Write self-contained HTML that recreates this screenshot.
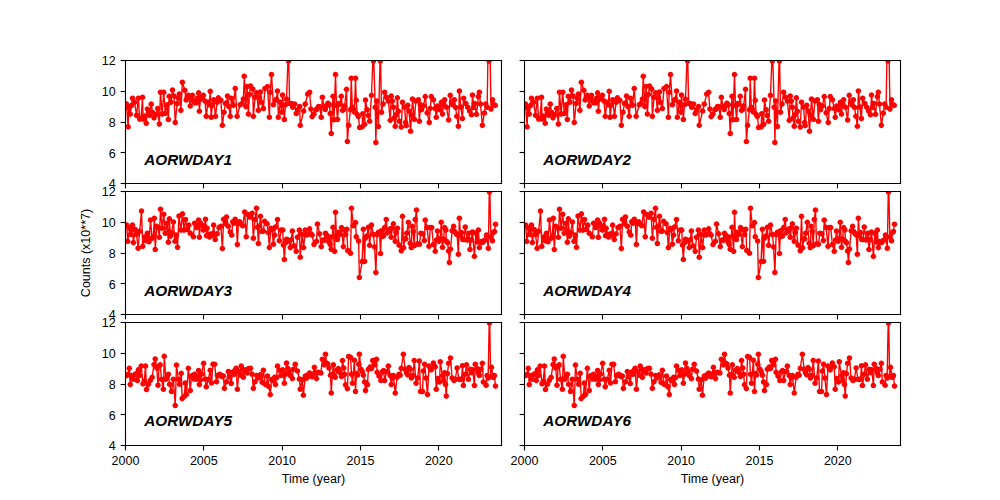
<!DOCTYPE html>
<html><head><meta charset="utf-8"><title>chart</title><style>html,body{margin:0;padding:0;background:#fff;overflow:hidden}svg{display:block}</style></head><body>
<svg width="1000" height="500" viewBox="0 0 720 360" version="1.1">
 
 <defs>
  <style type="text/css">*{stroke-linejoin: round; stroke-linecap: butt}</style>
 </defs>
 <g id="figure_1">
  <g id="patch_1">
   <path d="M 0 360 
L 720 360 
L 720 0 
L 0 0 
z
" style="fill: #ffffff"/>
  </g>
  <g id="axes_1">
   <g id="patch_2">
    <path d="M 90.36 132.12 
L 361.08 132.12 
L 361.08 43.56 
L 90.36 43.56 
z
" style="fill: #ffffff"/>
   </g>
   <g id="matplotlib.axis_1">
    <g id="xtick_1">
     <g id="line2d_1">
      <defs>
       <path id="m1504cfccaf" d="M 0 0 
L 0 3.5 
" style="stroke: #000000; stroke-width: 0.8"/>
      </defs>
      <g>
       <use href="#m1504cfccaf" x="90.360" y="132.120" style="stroke: #000000; stroke-width: 0.8"/>
      </g>
     </g>
    </g>
    <g id="xtick_2">
     <g id="line2d_2">
      <g>
       <use href="#m1504cfccaf" x="146.520" y="132.120" style="stroke: #000000; stroke-width: 0.8"/>
      </g>
     </g>
    </g>
    <g id="xtick_3">
     <g id="line2d_3">
      <g>
       <use href="#m1504cfccaf" x="203.400" y="132.120" style="stroke: #000000; stroke-width: 0.8"/>
      </g>
     </g>
    </g>
    <g id="xtick_4">
     <g id="line2d_4">
      <g>
       <use href="#m1504cfccaf" x="259.560" y="132.120" style="stroke: #000000; stroke-width: 0.8"/>
      </g>
     </g>
    </g>
    <g id="xtick_5">
     <g id="line2d_5">
      <g>
       <use href="#m1504cfccaf" x="315.720" y="132.120" style="stroke: #000000; stroke-width: 0.8"/>
      </g>
     </g>
    </g>
   </g>
   <g id="matplotlib.axis_2">
    <g id="ytick_1">
     <g id="line2d_6">
      <defs>
       <path id="m5d545ce8f8" d="M 0 0 
L -3.5 0 
" style="stroke: #000000; stroke-width: 0.8"/>
      </defs>
      <g>
       <use href="#m5d545ce8f8" x="90.360" y="132.120" style="stroke: #000000; stroke-width: 0.8"/>
      </g>
     </g>
     <g id="text_1">
      <text x="83.36" y="135.54" font-size="9" text-anchor="end" fill="#000000" font-family="&quot;Liberation Sans&quot;, sans-serif">4</text>
     </g>
    </g>
    <g id="ytick_2">
     <g id="line2d_7">
      <g>
       <use href="#m5d545ce8f8" x="90.360" y="109.800" style="stroke: #000000; stroke-width: 0.8"/>
      </g>
     </g>
     <g id="text_2">
      <text x="83.36" y="113.4" font-size="9" text-anchor="end" fill="#000000" font-family="&quot;Liberation Sans&quot;, sans-serif">6</text>
     </g>
    </g>
    <g id="ytick_3">
     <g id="line2d_8">
      <g>
       <use href="#m5d545ce8f8" x="90.360" y="88.200" style="stroke: #000000; stroke-width: 0.8"/>
      </g>
     </g>
     <g id="text_3">
      <text x="83.36" y="91.26" font-size="9" text-anchor="end" fill="#000000" font-family="&quot;Liberation Sans&quot;, sans-serif">8</text>
     </g>
    </g>
    <g id="ytick_4">
     <g id="line2d_9">
      <g>
       <use href="#m5d545ce8f8" x="90.360" y="65.880" style="stroke: #000000; stroke-width: 0.8"/>
      </g>
     </g>
     <g id="text_4">
      <text x="83.36" y="69.12" font-size="9" text-anchor="end" fill="#000000" font-family="&quot;Liberation Sans&quot;, sans-serif">10</text>
     </g>
    </g>
    <g id="ytick_5">
     <g id="line2d_10">
      <g>
       <use href="#m5d545ce8f8" x="90.360" y="43.560" style="stroke: #000000; stroke-width: 0.8"/>
      </g>
     </g>
     <g id="text_5">
      <text x="83.36" y="46.98" font-size="9" text-anchor="end" fill="#000000" font-family="&quot;Liberation Sans&quot;, sans-serif">12</text>
     </g>
    </g>
   </g>
   <g id="line2d_11">
    <defs>
     <path id="mb5f375dd62" d="M 0 2 
C 0.530406 2 1.03916 1.789267 1.414214 1.414214 
C 1.789267 1.03916 2 0.530406 2 0 
C 2 -0.530406 1.789267 -1.03916 1.414214 -1.414214 
C 1.03916 -1.789267 0.530406 -2 0 -2 
C -0.530406 -2 -1.03916 -1.789267 -1.414214 -1.414214 
C -1.789267 -1.03916 -2 -0.530406 -2 0 
C -2 0.530406 -1.789267 1.03916 -1.414214 1.414214 
C -1.03916 1.789267 -0.530406 2 0 2 
z
"/>
    </defs>
    <g clip-path="url(#pfeada04ba8)">
     <use href="#mb5f375dd62" x="207.720504" y="44.0028" style="fill: #ff0000"/>
     <use href="#mb5f375dd62" x="268.829904" y="44.0028" style="fill: #ff0000"/>
     <use href="#mb5f375dd62" x="273.869808" y="44.0028" style="fill: #ff0000"/>
     <use href="#mb5f375dd62" x="352.079688" y="44.0028" style="fill: #ff0000"/>
    </g>
   </g>
   <g id="line2d_12">
    <path d="M 91.079664 74.970018 
L 92.250528 91.350297 
L 92.699472 77.669991 
L 93.780096 82.169946 
L 95.399904 70.740171 
L 96.929472 73.619478 
L 98.279688 83.069937 
L 99.629904 70.740171 
L 100.530048 85.76991 
L 101.564424 85.340394 
L 102.599928 70.019514 
L 102.95976 85.76991 
L 104.129496 83.520486 
L 105.30036 88.739991 
L 106.110264 78.569982 
L 107.730072 83.069937 
L 108.899808 74.970018 
L 109.890192 80.935641 
L 110.879448 84.869919 
L 112.229664 82.620495 
L 113.57988 78.12054 
L 114.749616 89.369874 
L 115.55952 66.41955 
L 116.730384 82.169946 
L 117.90012 66.41955 
L 118.979616 81.720504 
L 120.329832 75.41946 
L 121.229976 86.040018 
L 121.860528 69.389631 
L 123.030264 73.619478 
L 124.2 64.800009 
L 125.279496 69.119523 
L 126.17964 88.199775 
L 127.529856 74.519469 
L 128.33976 70.715817 
L 129.149664 67.77009 
L 130.230288 79.469973 
L 131.309784 59.219622 
L 133.110072 65.070117 
L 134.010216 71.999937 
L 134.82012 69.584463 
L 135.630024 68.670081 
L 136.98024 76.319451 
L 137.790144 70.436853 
L 138.600048 68.670081 
L 139.364832 72.504729 
L 140.129616 74.070027 
L 141.479832 74.070027 
L 143.010528 66.870099 
L 143.549712 80.099856 
L 144.314496 71.443116 
L 145.080408 70.019514 
L 146.429496 68.670081 
L 147.60036 72.719487 
L 148.500504 83.789487 
L 149.76048 73.619478 
L 150.570384 75.531267 
L 151.380288 65.789667 
L 152.009712 84.420477 
L 152.954976 75.626469 
L 153.90024 71.819496 
L 155.160216 83.789487 
L 156.329952 73.619478 
L 157.230096 70.470063 
L 159.030384 72.270045 
L 160.10988 90.269865 
L 161.279616 80.820513 
L 162.36024 74.519469 
L 163.079904 74.130912 
L 163.799568 69.119523 
L 165.780336 83.789487 
L 166.68048 70.740171 
L 168.029568 75.870009 
L 169.379784 63.719577 
L 170.73 83.789487 
L 172.98036 75.41946 
L 174.329448 74.519469 
L 175.229592 71.370054 
L 175.860144 54.900108 
L 177.02988 76.77 
L 177.930024 62.370144 
L 178.830168 82.169946 
L 179.594952 68.000346 
L 180.359736 61.919595 
L 181.979544 64.170126 
L 182.429616 83.789487 
L 183.60048 70.019514 
L 184.860456 66.870099 
L 186.030192 79.469973 
L 186.794976 70.279659 
L 187.55976 66.240216 
L 188.280552 73.619478 
L 189.62964 78.12054 
L 190.800504 63.719577 
L 192.599664 62.370144 
L 193.94988 84.420477 
L 194.580432 66.41955 
L 195.479448 53.640342 
L 196.829664 75.41946 
L 198.17988 72.270045 
L 198.989784 71.411013 
L 199.799688 65.519559 
L 200.43024 84.420477 
L 201.780456 73.619478 
L 202.859952 80.820513 
L 203.400264 68.399973 
L 204.75048 86.040018 
L 205.515264 75.432744 
L 206.280048 71.370054 
L 207.720504 33.597 
L 208.530408 74.519469 
L 209.879496 74.519469 
L 210.77964 77.220549 
L 212.129856 74.970018 
L 213.299592 81.720504 
L 214.380216 79.020531 
L 215.730432 76.77 
L 216.180504 90.269865 
L 219.779952 74.970018 
L 221.58024 67.77009 
L 222.930456 66.41955 
L 223.829472 78.547842 
L 224.729616 83.969928 
L 226.079832 82.169946 
L 227.430048 79.020531 
L 228.330192 78.524595 
L 229.230336 76.77 
L 230.26584 76.859667 
L 231.300216 84.420477 
L 232.11012 70.019514 
L 233.279856 76.77 
L 234.18 78.781419 
L 235.080144 76.319451 
L 236.115648 74.322423 
L 237.150024 75.41946 
L 237.779448 81.720504 
L 238.50024 96.12036 
L 239.760216 69.389631 
L 240.47988 86.220459 
L 241.560504 53.640342 
L 242.280168 75.947499 
L 242.999832 86.040018 
L 243.899976 74.512827 
L 244.80012 75.099537 
L 245.700264 69.389631 
L 246.600408 79.469973 
L 247.365192 78.82902 
L 248.129976 76.319451 
L 249.480192 64.34946 
L 250.109616 101.880081 
L 251.00976 90.269865 
L 252.359976 79.020531 
L 252.900288 56.340315 
L 253.665072 77.27922 
L 254.429856 78.569982 
L 255.19464 80.623467 
L 255.960552 56.340315 
L 256.499736 72.270045 
L 257.265648 82.508688 
L 258.030432 83.969928 
L 258.929448 91.799739 
L 260.729736 91.350297 
L 261.179808 81.899838 
L 262.530024 89.550315 
L 263.159448 71.999937 
L 264.330312 79.020531 
L 266.129472 87.299784 
L 267.479688 68.670081 
L 268.829904 33.597 
L 270.18012 77.220549 
L 270.630192 102.599631 
L 271.259616 72.719487 
L 272.43048 91.080189 
L 273.869808 33.597 
L 274.679712 80.820513 
L 275.804328 74.869281 
L 276.930072 66.41955 
L 278.280288 70.019514 
L 279.630504 72.719487 
L 280.979592 86.669901 
L 281.700384 69.119523 
L 282.465168 72.726129 
L 283.229952 77.220549 
L 283.680024 85.05036 
L 284.580168 90.899748 
L 285.344952 82.588392 
L 286.109736 70.470063 
L 286.8294 80.051148 
L 287.550192 87.299784 
L 288.900408 91.529631 
L 289.800552 73.619478 
L 291.33012 77.220549 
L 292.049784 88.199775 
L 292.499856 90.450306 
L 293.58048 75.870009 
L 294.569736 79.8696 
L 295.56012 94.499712 
L 296.999448 71.370054 
L 298.349664 85.950351 
L 299.430288 72.719487 
L 301.229448 71.819496 
L 301.95024 87.299784 
L 302.715024 75.327579 
L 303.479808 79.020531 
L 304.830024 76.319451 
L 306.18024 69.570072 
L 307.530456 81.269955 
L 309.060024 88.199775 
L 310.50048 69.570072 
L 312.030048 71.819496 
L 313.380264 78.12054 
L 314.099928 84.420477 
L 315.180552 76.319451 
L 316.52964 79.020531 
L 317.879856 73.619478 
L 318.59952 82.169946 
L 319.364304 74.702124 
L 320.130216 71.819496 
L 321.480432 77.220549 
L 323.01 86.399793 
L 324.179736 68.670081 
L 325.07988 73.912833 
L 325.980024 75.41946 
L 327.14976 71.819496 
L 328.950048 83.69982 
L 330.029544 90.899748 
L 330.750336 65.519559 
L 331.83096 77.098779 
L 332.910456 85.320468 
L 333.809472 70.740171 
L 335.430408 74.519469 
L 339.479928 82.620495 
L 340.199592 68.48964 
L 340.965504 77.465196 
L 341.730288 74.519469 
L 343.080504 82.350387 
L 344.429592 69.570072 
L 345.150384 66.41955 
L 347.310504 90.269865 
L 349.740216 74.964483 
L 350.729472 77.220549 
L 352.011692 -1 
M 352.151059 -1 
L 353.520144 78.569982 
L 354.59964 71.819496 
L 355.590024 75.433851 
L 356.580408 75.870009 
L 356.580408 75.870009 
" clip-path="url(#pfeada04ba8)" style="fill: none; stroke: #ff0000; stroke-linecap: square"/>
    <g clip-path="url(#pfeada04ba8)">
     <use href="#mb5f375dd62" x="91.079664" y="74.970018" style="fill: #ff0000"/>
     <use href="#mb5f375dd62" x="92.250528" y="91.350297" style="fill: #ff0000"/>
     <use href="#mb5f375dd62" x="92.699472" y="77.669991" style="fill: #ff0000"/>
     <use href="#mb5f375dd62" x="93.780096" y="82.169946" style="fill: #ff0000"/>
     <use href="#mb5f375dd62" x="94.59" y="76.053771" style="fill: #ff0000"/>
     <use href="#mb5f375dd62" x="95.399904" y="70.740171" style="fill: #ff0000"/>
     <use href="#mb5f375dd62" x="96.929472" y="73.619478" style="fill: #ff0000"/>
     <use href="#mb5f375dd62" x="98.279688" y="83.069937" style="fill: #ff0000"/>
     <use href="#mb5f375dd62" x="99.629904" y="70.740171" style="fill: #ff0000"/>
     <use href="#mb5f375dd62" x="100.530048" y="85.76991" style="fill: #ff0000"/>
     <use href="#mb5f375dd62" x="101.564424" y="85.340394" style="fill: #ff0000"/>
     <use href="#mb5f375dd62" x="102.599928" y="70.019514" style="fill: #ff0000"/>
     <use href="#mb5f375dd62" x="102.95976" y="85.76991" style="fill: #ff0000"/>
     <use href="#mb5f375dd62" x="104.129496" y="83.520486" style="fill: #ff0000"/>
     <use href="#mb5f375dd62" x="105.30036" y="88.739991" style="fill: #ff0000"/>
     <use href="#mb5f375dd62" x="106.110264" y="78.569982" style="fill: #ff0000"/>
     <use href="#mb5f375dd62" x="106.920168" y="80.978814" style="fill: #ff0000"/>
     <use href="#mb5f375dd62" x="107.730072" y="83.069937" style="fill: #ff0000"/>
     <use href="#mb5f375dd62" x="108.899808" y="74.970018" style="fill: #ff0000"/>
     <use href="#mb5f375dd62" x="109.890192" y="80.935641" style="fill: #ff0000"/>
     <use href="#mb5f375dd62" x="110.879448" y="84.869919" style="fill: #ff0000"/>
     <use href="#mb5f375dd62" x="112.229664" y="82.620495" style="fill: #ff0000"/>
     <use href="#mb5f375dd62" x="113.57988" y="78.12054" style="fill: #ff0000"/>
     <use href="#mb5f375dd62" x="114.749616" y="89.369874" style="fill: #ff0000"/>
     <use href="#mb5f375dd62" x="115.55952" y="66.41955" style="fill: #ff0000"/>
     <use href="#mb5f375dd62" x="116.730384" y="82.169946" style="fill: #ff0000"/>
     <use href="#mb5f375dd62" x="117.90012" y="66.41955" style="fill: #ff0000"/>
     <use href="#mb5f375dd62" x="118.979616" y="81.720504" style="fill: #ff0000"/>
     <use href="#mb5f375dd62" x="120.329832" y="75.41946" style="fill: #ff0000"/>
     <use href="#mb5f375dd62" x="121.229976" y="86.040018" style="fill: #ff0000"/>
     <use href="#mb5f375dd62" x="121.860528" y="69.389631" style="fill: #ff0000"/>
     <use href="#mb5f375dd62" x="123.030264" y="73.619478" style="fill: #ff0000"/>
     <use href="#mb5f375dd62" x="124.2" y="64.800009" style="fill: #ff0000"/>
     <use href="#mb5f375dd62" x="125.279496" y="69.119523" style="fill: #ff0000"/>
     <use href="#mb5f375dd62" x="126.17964" y="88.199775" style="fill: #ff0000"/>
     <use href="#mb5f375dd62" x="127.529856" y="74.519469" style="fill: #ff0000"/>
     <use href="#mb5f375dd62" x="128.33976" y="70.715817" style="fill: #ff0000"/>
     <use href="#mb5f375dd62" x="129.149664" y="67.77009" style="fill: #ff0000"/>
     <use href="#mb5f375dd62" x="130.230288" y="79.469973" style="fill: #ff0000"/>
     <use href="#mb5f375dd62" x="131.309784" y="59.219622" style="fill: #ff0000"/>
     <use href="#mb5f375dd62" x="133.110072" y="65.070117" style="fill: #ff0000"/>
     <use href="#mb5f375dd62" x="134.010216" y="71.999937" style="fill: #ff0000"/>
     <use href="#mb5f375dd62" x="134.82012" y="69.584463" style="fill: #ff0000"/>
     <use href="#mb5f375dd62" x="135.630024" y="68.670081" style="fill: #ff0000"/>
     <use href="#mb5f375dd62" x="136.98024" y="76.319451" style="fill: #ff0000"/>
     <use href="#mb5f375dd62" x="137.790144" y="70.436853" style="fill: #ff0000"/>
     <use href="#mb5f375dd62" x="138.600048" y="68.670081" style="fill: #ff0000"/>
     <use href="#mb5f375dd62" x="139.364832" y="72.504729" style="fill: #ff0000"/>
     <use href="#mb5f375dd62" x="140.129616" y="74.070027" style="fill: #ff0000"/>
     <use href="#mb5f375dd62" x="141.479832" y="74.070027" style="fill: #ff0000"/>
     <use href="#mb5f375dd62" x="142.244616" y="70.721352" style="fill: #ff0000"/>
     <use href="#mb5f375dd62" x="143.010528" y="66.870099" style="fill: #ff0000"/>
     <use href="#mb5f375dd62" x="143.549712" y="80.099856" style="fill: #ff0000"/>
     <use href="#mb5f375dd62" x="144.314496" y="71.443116" style="fill: #ff0000"/>
     <use href="#mb5f375dd62" x="145.080408" y="70.019514" style="fill: #ff0000"/>
     <use href="#mb5f375dd62" x="146.429496" y="68.670081" style="fill: #ff0000"/>
     <use href="#mb5f375dd62" x="147.60036" y="72.719487" style="fill: #ff0000"/>
     <use href="#mb5f375dd62" x="148.500504" y="83.789487" style="fill: #ff0000"/>
     <use href="#mb5f375dd62" x="149.76048" y="73.619478" style="fill: #ff0000"/>
     <use href="#mb5f375dd62" x="150.570384" y="75.531267" style="fill: #ff0000"/>
     <use href="#mb5f375dd62" x="151.380288" y="65.789667" style="fill: #ff0000"/>
     <use href="#mb5f375dd62" x="152.009712" y="84.420477" style="fill: #ff0000"/>
     <use href="#mb5f375dd62" x="152.954976" y="75.626469" style="fill: #ff0000"/>
     <use href="#mb5f375dd62" x="153.90024" y="71.819496" style="fill: #ff0000"/>
     <use href="#mb5f375dd62" x="155.160216" y="83.789487" style="fill: #ff0000"/>
     <use href="#mb5f375dd62" x="156.329952" y="73.619478" style="fill: #ff0000"/>
     <use href="#mb5f375dd62" x="157.230096" y="70.470063" style="fill: #ff0000"/>
     <use href="#mb5f375dd62" x="159.030384" y="72.270045" style="fill: #ff0000"/>
     <use href="#mb5f375dd62" x="160.10988" y="90.269865" style="fill: #ff0000"/>
     <use href="#mb5f375dd62" x="161.279616" y="80.820513" style="fill: #ff0000"/>
     <use href="#mb5f375dd62" x="162.36024" y="74.519469" style="fill: #ff0000"/>
     <use href="#mb5f375dd62" x="163.079904" y="74.130912" style="fill: #ff0000"/>
     <use href="#mb5f375dd62" x="163.799568" y="69.119523" style="fill: #ff0000"/>
     <use href="#mb5f375dd62" x="164.789952" y="76.628304" style="fill: #ff0000"/>
     <use href="#mb5f375dd62" x="165.780336" y="83.789487" style="fill: #ff0000"/>
     <use href="#mb5f375dd62" x="166.68048" y="70.740171" style="fill: #ff0000"/>
     <use href="#mb5f375dd62" x="168.029568" y="75.870009" style="fill: #ff0000"/>
     <use href="#mb5f375dd62" x="169.379784" y="63.719577" style="fill: #ff0000"/>
     <use href="#mb5f375dd62" x="170.73" y="83.789487" style="fill: #ff0000"/>
     <use href="#mb5f375dd62" x="172.98036" y="75.41946" style="fill: #ff0000"/>
     <use href="#mb5f375dd62" x="174.329448" y="74.519469" style="fill: #ff0000"/>
     <use href="#mb5f375dd62" x="175.229592" y="71.370054" style="fill: #ff0000"/>
     <use href="#mb5f375dd62" x="175.860144" y="54.900108" style="fill: #ff0000"/>
     <use href="#mb5f375dd62" x="177.02988" y="76.77" style="fill: #ff0000"/>
     <use href="#mb5f375dd62" x="177.930024" y="62.370144" style="fill: #ff0000"/>
     <use href="#mb5f375dd62" x="178.830168" y="82.169946" style="fill: #ff0000"/>
     <use href="#mb5f375dd62" x="179.594952" y="68.000346" style="fill: #ff0000"/>
     <use href="#mb5f375dd62" x="180.359736" y="61.919595" style="fill: #ff0000"/>
     <use href="#mb5f375dd62" x="181.979544" y="64.170126" style="fill: #ff0000"/>
     <use href="#mb5f375dd62" x="182.429616" y="83.789487" style="fill: #ff0000"/>
     <use href="#mb5f375dd62" x="183.60048" y="70.019514" style="fill: #ff0000"/>
     <use href="#mb5f375dd62" x="184.860456" y="66.870099" style="fill: #ff0000"/>
     <use href="#mb5f375dd62" x="186.030192" y="79.469973" style="fill: #ff0000"/>
     <use href="#mb5f375dd62" x="186.794976" y="70.279659" style="fill: #ff0000"/>
     <use href="#mb5f375dd62" x="187.55976" y="66.240216" style="fill: #ff0000"/>
     <use href="#mb5f375dd62" x="188.280552" y="73.619478" style="fill: #ff0000"/>
     <use href="#mb5f375dd62" x="189.62964" y="78.12054" style="fill: #ff0000"/>
     <use href="#mb5f375dd62" x="190.800504" y="63.719577" style="fill: #ff0000"/>
     <use href="#mb5f375dd62" x="192.599664" y="62.370144" style="fill: #ff0000"/>
     <use href="#mb5f375dd62" x="193.94988" y="84.420477" style="fill: #ff0000"/>
     <use href="#mb5f375dd62" x="194.580432" y="66.41955" style="fill: #ff0000"/>
     <use href="#mb5f375dd62" x="195.479448" y="53.640342" style="fill: #ff0000"/>
     <use href="#mb5f375dd62" x="196.829664" y="75.41946" style="fill: #ff0000"/>
     <use href="#mb5f375dd62" x="198.17988" y="72.270045" style="fill: #ff0000"/>
     <use href="#mb5f375dd62" x="198.989784" y="71.411013" style="fill: #ff0000"/>
     <use href="#mb5f375dd62" x="199.799688" y="65.519559" style="fill: #ff0000"/>
     <use href="#mb5f375dd62" x="200.43024" y="84.420477" style="fill: #ff0000"/>
     <use href="#mb5f375dd62" x="201.780456" y="73.619478" style="fill: #ff0000"/>
     <use href="#mb5f375dd62" x="202.859952" y="80.820513" style="fill: #ff0000"/>
     <use href="#mb5f375dd62" x="203.400264" y="68.399973" style="fill: #ff0000"/>
     <use href="#mb5f375dd62" x="204.75048" y="86.040018" style="fill: #ff0000"/>
     <use href="#mb5f375dd62" x="205.515264" y="75.432744" style="fill: #ff0000"/>
     <use href="#mb5f375dd62" x="206.280048" y="71.370054" style="fill: #ff0000"/>
     <use href="#mb5f375dd62" x="207.720504" y="33.597" style="fill: #ff0000"/>
     <use href="#mb5f375dd62" x="208.530408" y="74.519469" style="fill: #ff0000"/>
     <use href="#mb5f375dd62" x="209.879496" y="74.519469" style="fill: #ff0000"/>
     <use href="#mb5f375dd62" x="210.77964" y="77.220549" style="fill: #ff0000"/>
     <use href="#mb5f375dd62" x="212.129856" y="74.970018" style="fill: #ff0000"/>
     <use href="#mb5f375dd62" x="213.299592" y="81.720504" style="fill: #ff0000"/>
     <use href="#mb5f375dd62" x="214.380216" y="79.020531" style="fill: #ff0000"/>
     <use href="#mb5f375dd62" x="215.730432" y="76.77" style="fill: #ff0000"/>
     <use href="#mb5f375dd62" x="216.180504" y="90.269865" style="fill: #ff0000"/>
     <use href="#mb5f375dd62" x="218.610216" y="79.920522" style="fill: #ff0000"/>
     <use href="#mb5f375dd62" x="219.779952" y="74.970018" style="fill: #ff0000"/>
     <use href="#mb5f375dd62" x="221.58024" y="67.77009" style="fill: #ff0000"/>
     <use href="#mb5f375dd62" x="222.930456" y="66.41955" style="fill: #ff0000"/>
     <use href="#mb5f375dd62" x="223.829472" y="78.547842" style="fill: #ff0000"/>
     <use href="#mb5f375dd62" x="224.729616" y="83.969928" style="fill: #ff0000"/>
     <use href="#mb5f375dd62" x="226.079832" y="82.169946" style="fill: #ff0000"/>
     <use href="#mb5f375dd62" x="227.430048" y="79.020531" style="fill: #ff0000"/>
     <use href="#mb5f375dd62" x="228.330192" y="78.524595" style="fill: #ff0000"/>
     <use href="#mb5f375dd62" x="229.230336" y="76.77" style="fill: #ff0000"/>
     <use href="#mb5f375dd62" x="230.26584" y="76.859667" style="fill: #ff0000"/>
     <use href="#mb5f375dd62" x="231.300216" y="84.420477" style="fill: #ff0000"/>
     <use href="#mb5f375dd62" x="232.11012" y="70.019514" style="fill: #ff0000"/>
     <use href="#mb5f375dd62" x="233.279856" y="76.77" style="fill: #ff0000"/>
     <use href="#mb5f375dd62" x="234.18" y="78.781419" style="fill: #ff0000"/>
     <use href="#mb5f375dd62" x="235.080144" y="76.319451" style="fill: #ff0000"/>
     <use href="#mb5f375dd62" x="236.115648" y="74.322423" style="fill: #ff0000"/>
     <use href="#mb5f375dd62" x="237.150024" y="75.41946" style="fill: #ff0000"/>
     <use href="#mb5f375dd62" x="237.779448" y="81.720504" style="fill: #ff0000"/>
     <use href="#mb5f375dd62" x="238.50024" y="96.12036" style="fill: #ff0000"/>
     <use href="#mb5f375dd62" x="239.760216" y="69.389631" style="fill: #ff0000"/>
     <use href="#mb5f375dd62" x="240.47988" y="86.220459" style="fill: #ff0000"/>
     <use href="#mb5f375dd62" x="241.560504" y="53.640342" style="fill: #ff0000"/>
     <use href="#mb5f375dd62" x="242.280168" y="75.947499" style="fill: #ff0000"/>
     <use href="#mb5f375dd62" x="242.999832" y="86.040018" style="fill: #ff0000"/>
     <use href="#mb5f375dd62" x="243.899976" y="74.512827" style="fill: #ff0000"/>
     <use href="#mb5f375dd62" x="244.80012" y="75.099537" style="fill: #ff0000"/>
     <use href="#mb5f375dd62" x="245.700264" y="69.389631" style="fill: #ff0000"/>
     <use href="#mb5f375dd62" x="246.600408" y="79.469973" style="fill: #ff0000"/>
     <use href="#mb5f375dd62" x="247.365192" y="78.82902" style="fill: #ff0000"/>
     <use href="#mb5f375dd62" x="248.129976" y="76.319451" style="fill: #ff0000"/>
     <use href="#mb5f375dd62" x="249.480192" y="64.34946" style="fill: #ff0000"/>
     <use href="#mb5f375dd62" x="250.109616" y="101.880081" style="fill: #ff0000"/>
     <use href="#mb5f375dd62" x="251.00976" y="90.269865" style="fill: #ff0000"/>
     <use href="#mb5f375dd62" x="252.359976" y="79.020531" style="fill: #ff0000"/>
     <use href="#mb5f375dd62" x="252.900288" y="56.340315" style="fill: #ff0000"/>
     <use href="#mb5f375dd62" x="253.665072" y="77.27922" style="fill: #ff0000"/>
     <use href="#mb5f375dd62" x="254.429856" y="78.569982" style="fill: #ff0000"/>
     <use href="#mb5f375dd62" x="255.19464" y="80.623467" style="fill: #ff0000"/>
     <use href="#mb5f375dd62" x="255.960552" y="56.340315" style="fill: #ff0000"/>
     <use href="#mb5f375dd62" x="256.499736" y="72.270045" style="fill: #ff0000"/>
     <use href="#mb5f375dd62" x="257.265648" y="82.508688" style="fill: #ff0000"/>
     <use href="#mb5f375dd62" x="258.030432" y="83.969928" style="fill: #ff0000"/>
     <use href="#mb5f375dd62" x="258.929448" y="91.799739" style="fill: #ff0000"/>
     <use href="#mb5f375dd62" x="260.729736" y="91.350297" style="fill: #ff0000"/>
     <use href="#mb5f375dd62" x="261.179808" y="81.899838" style="fill: #ff0000"/>
     <use href="#mb5f375dd62" x="262.530024" y="89.550315" style="fill: #ff0000"/>
     <use href="#mb5f375dd62" x="263.159448" y="71.999937" style="fill: #ff0000"/>
     <use href="#mb5f375dd62" x="264.330312" y="79.020531" style="fill: #ff0000"/>
     <use href="#mb5f375dd62" x="265.230456" y="83.250378" style="fill: #ff0000"/>
     <use href="#mb5f375dd62" x="266.129472" y="87.299784" style="fill: #ff0000"/>
     <use href="#mb5f375dd62" x="267.479688" y="68.670081" style="fill: #ff0000"/>
     <use href="#mb5f375dd62" x="268.829904" y="33.597" style="fill: #ff0000"/>
     <use href="#mb5f375dd62" x="270.18012" y="77.220549" style="fill: #ff0000"/>
     <use href="#mb5f375dd62" x="270.630192" y="102.599631" style="fill: #ff0000"/>
     <use href="#mb5f375dd62" x="271.259616" y="72.719487" style="fill: #ff0000"/>
     <use href="#mb5f375dd62" x="272.43048" y="91.080189" style="fill: #ff0000"/>
     <use href="#mb5f375dd62" x="273.869808" y="33.597" style="fill: #ff0000"/>
     <use href="#mb5f375dd62" x="274.679712" y="80.820513" style="fill: #ff0000"/>
     <use href="#mb5f375dd62" x="275.804328" y="74.869281" style="fill: #ff0000"/>
     <use href="#mb5f375dd62" x="276.930072" y="66.41955" style="fill: #ff0000"/>
     <use href="#mb5f375dd62" x="278.280288" y="70.019514" style="fill: #ff0000"/>
     <use href="#mb5f375dd62" x="279.630504" y="72.719487" style="fill: #ff0000"/>
     <use href="#mb5f375dd62" x="280.979592" y="86.669901" style="fill: #ff0000"/>
     <use href="#mb5f375dd62" x="281.700384" y="69.119523" style="fill: #ff0000"/>
     <use href="#mb5f375dd62" x="282.465168" y="72.726129" style="fill: #ff0000"/>
     <use href="#mb5f375dd62" x="283.229952" y="77.220549" style="fill: #ff0000"/>
     <use href="#mb5f375dd62" x="283.680024" y="85.05036" style="fill: #ff0000"/>
     <use href="#mb5f375dd62" x="284.580168" y="90.899748" style="fill: #ff0000"/>
     <use href="#mb5f375dd62" x="285.344952" y="82.588392" style="fill: #ff0000"/>
     <use href="#mb5f375dd62" x="286.109736" y="70.470063" style="fill: #ff0000"/>
     <use href="#mb5f375dd62" x="286.8294" y="80.051148" style="fill: #ff0000"/>
     <use href="#mb5f375dd62" x="287.550192" y="87.299784" style="fill: #ff0000"/>
     <use href="#mb5f375dd62" x="288.900408" y="91.529631" style="fill: #ff0000"/>
     <use href="#mb5f375dd62" x="289.800552" y="73.619478" style="fill: #ff0000"/>
     <use href="#mb5f375dd62" x="291.33012" y="77.220549" style="fill: #ff0000"/>
     <use href="#mb5f375dd62" x="292.049784" y="88.199775" style="fill: #ff0000"/>
     <use href="#mb5f375dd62" x="292.499856" y="90.450306" style="fill: #ff0000"/>
     <use href="#mb5f375dd62" x="293.58048" y="75.870009" style="fill: #ff0000"/>
     <use href="#mb5f375dd62" x="294.569736" y="79.8696" style="fill: #ff0000"/>
     <use href="#mb5f375dd62" x="295.56012" y="94.499712" style="fill: #ff0000"/>
     <use href="#mb5f375dd62" x="296.279784" y="82.903887" style="fill: #ff0000"/>
     <use href="#mb5f375dd62" x="296.999448" y="71.370054" style="fill: #ff0000"/>
     <use href="#mb5f375dd62" x="298.349664" y="85.950351" style="fill: #ff0000"/>
     <use href="#mb5f375dd62" x="299.430288" y="72.719487" style="fill: #ff0000"/>
     <use href="#mb5f375dd62" x="301.229448" y="71.819496" style="fill: #ff0000"/>
     <use href="#mb5f375dd62" x="301.95024" y="87.299784" style="fill: #ff0000"/>
     <use href="#mb5f375dd62" x="302.715024" y="75.327579" style="fill: #ff0000"/>
     <use href="#mb5f375dd62" x="303.479808" y="79.020531" style="fill: #ff0000"/>
     <use href="#mb5f375dd62" x="304.830024" y="76.319451" style="fill: #ff0000"/>
     <use href="#mb5f375dd62" x="306.18024" y="69.570072" style="fill: #ff0000"/>
     <use href="#mb5f375dd62" x="307.530456" y="81.269955" style="fill: #ff0000"/>
     <use href="#mb5f375dd62" x="309.060024" y="88.199775" style="fill: #ff0000"/>
     <use href="#mb5f375dd62" x="309.780816" y="78.182532" style="fill: #ff0000"/>
     <use href="#mb5f375dd62" x="310.50048" y="69.570072" style="fill: #ff0000"/>
     <use href="#mb5f375dd62" x="312.030048" y="71.819496" style="fill: #ff0000"/>
     <use href="#mb5f375dd62" x="313.380264" y="78.12054" style="fill: #ff0000"/>
     <use href="#mb5f375dd62" x="314.099928" y="84.420477" style="fill: #ff0000"/>
     <use href="#mb5f375dd62" x="315.180552" y="76.319451" style="fill: #ff0000"/>
     <use href="#mb5f375dd62" x="316.52964" y="79.020531" style="fill: #ff0000"/>
     <use href="#mb5f375dd62" x="317.879856" y="73.619478" style="fill: #ff0000"/>
     <use href="#mb5f375dd62" x="318.59952" y="82.169946" style="fill: #ff0000"/>
     <use href="#mb5f375dd62" x="319.364304" y="74.702124" style="fill: #ff0000"/>
     <use href="#mb5f375dd62" x="320.130216" y="71.819496" style="fill: #ff0000"/>
     <use href="#mb5f375dd62" x="321.480432" y="77.220549" style="fill: #ff0000"/>
     <use href="#mb5f375dd62" x="323.01" y="86.399793" style="fill: #ff0000"/>
     <use href="#mb5f375dd62" x="324.179736" y="68.670081" style="fill: #ff0000"/>
     <use href="#mb5f375dd62" x="325.07988" y="73.912833" style="fill: #ff0000"/>
     <use href="#mb5f375dd62" x="325.980024" y="75.41946" style="fill: #ff0000"/>
     <use href="#mb5f375dd62" x="327.14976" y="71.819496" style="fill: #ff0000"/>
     <use href="#mb5f375dd62" x="328.049904" y="77.433093" style="fill: #ff0000"/>
     <use href="#mb5f375dd62" x="328.950048" y="83.69982" style="fill: #ff0000"/>
     <use href="#mb5f375dd62" x="330.029544" y="90.899748" style="fill: #ff0000"/>
     <use href="#mb5f375dd62" x="330.750336" y="65.519559" style="fill: #ff0000"/>
     <use href="#mb5f375dd62" x="331.83096" y="77.098779" style="fill: #ff0000"/>
     <use href="#mb5f375dd62" x="332.910456" y="85.320468" style="fill: #ff0000"/>
     <use href="#mb5f375dd62" x="333.809472" y="70.740171" style="fill: #ff0000"/>
     <use href="#mb5f375dd62" x="335.430408" y="74.519469" style="fill: #ff0000"/>
     <use href="#mb5f375dd62" x="336.779496" y="77.220549" style="fill: #ff0000"/>
     <use href="#mb5f375dd62" x="338.129712" y="79.920522" style="fill: #ff0000"/>
     <use href="#mb5f375dd62" x="339.479928" y="82.620495" style="fill: #ff0000"/>
     <use href="#mb5f375dd62" x="340.199592" y="68.48964" style="fill: #ff0000"/>
     <use href="#mb5f375dd62" x="340.965504" y="77.465196" style="fill: #ff0000"/>
     <use href="#mb5f375dd62" x="341.730288" y="74.519469" style="fill: #ff0000"/>
     <use href="#mb5f375dd62" x="343.080504" y="82.350387" style="fill: #ff0000"/>
     <use href="#mb5f375dd62" x="344.429592" y="69.570072" style="fill: #ff0000"/>
     <use href="#mb5f375dd62" x="345.150384" y="66.41955" style="fill: #ff0000"/>
     <use href="#mb5f375dd62" x="345.960288" y="74.970018" style="fill: #ff0000"/>
     <use href="#mb5f375dd62" x="347.310504" y="90.269865" style="fill: #ff0000"/>
     <use href="#mb5f375dd62" x="348.749832" y="81.450396" style="fill: #ff0000"/>
     <use href="#mb5f375dd62" x="349.740216" y="74.964483" style="fill: #ff0000"/>
     <use href="#mb5f375dd62" x="350.729472" y="77.220549" style="fill: #ff0000"/>
     <use href="#mb5f375dd62" x="352.011692" y="-1" style="fill: #ff0000"/>
     <use href="#mb5f375dd62" x="352.151059" y="-1" style="fill: #ff0000"/>
     <use href="#mb5f375dd62" x="353.520144" y="78.569982" style="fill: #ff0000"/>
     <use href="#mb5f375dd62" x="354.59964" y="71.819496" style="fill: #ff0000"/>
     <use href="#mb5f375dd62" x="355.590024" y="75.433851" style="fill: #ff0000"/>
     <use href="#mb5f375dd62" x="356.580408" y="75.870009" style="fill: #ff0000"/>
    </g>
   </g>
   <g id="patch_3">
    <path d="M 90.36 132.12 
L 90.36 43.56 
" style="fill: none; stroke: #000000; stroke-width: 0.8; stroke-linejoin: miter; stroke-linecap: square"/>
   </g>
   <g id="patch_4">
    <path d="M 361.08 132.12 
L 361.08 43.56 
" style="fill: none; stroke: #000000; stroke-width: 0.8; stroke-linejoin: miter; stroke-linecap: square"/>
   </g>
   <g id="patch_5">
    <path d="M 90.36 132.12 
L 361.08 132.12 
" style="fill: none; stroke: #000000; stroke-width: 0.8; stroke-linejoin: miter; stroke-linecap: square"/>
   </g>
   <g id="patch_6">
    <path d="M 90.36 43.56 
L 361.08 43.56 
" style="fill: none; stroke: #000000; stroke-width: 0.8; stroke-linejoin: miter; stroke-linecap: square"/>
   </g>
   <g id="text_6">
    <text x="103.896" y="118.836" font-size="11" font-weight="bold" font-style="italic" fill="#000000" font-family="&quot;Liberation Sans&quot;, sans-serif">AORWDAY1</text>
   </g>
  </g>
  <g id="axes_2">
   <g id="patch_7">
    <path d="M 377.64 132.12 
L 648.36 132.12 
L 648.36 43.56 
L 377.64 43.56 
z
" style="fill: #ffffff"/>
   </g>
   <g id="matplotlib.axis_3">
    <g id="xtick_6">
     <g id="line2d_13">
      <g>
       <use href="#m1504cfccaf" x="377.640" y="132.120" style="stroke: #000000; stroke-width: 0.8"/>
      </g>
     </g>
    </g>
    <g id="xtick_7">
     <g id="line2d_14">
      <g>
       <use href="#m1504cfccaf" x="433.800" y="132.120" style="stroke: #000000; stroke-width: 0.8"/>
      </g>
     </g>
    </g>
    <g id="xtick_8">
     <g id="line2d_15">
      <g>
       <use href="#m1504cfccaf" x="490.680" y="132.120" style="stroke: #000000; stroke-width: 0.8"/>
      </g>
     </g>
    </g>
    <g id="xtick_9">
     <g id="line2d_16">
      <g>
       <use href="#m1504cfccaf" x="546.840" y="132.120" style="stroke: #000000; stroke-width: 0.8"/>
      </g>
     </g>
    </g>
    <g id="xtick_10">
     <g id="line2d_17">
      <g>
       <use href="#m1504cfccaf" x="603.000" y="132.120" style="stroke: #000000; stroke-width: 0.8"/>
      </g>
     </g>
    </g>
   </g>
   <g id="matplotlib.axis_4">
    <g id="ytick_6">
     <g id="line2d_18">
      <g>
       <use href="#m5d545ce8f8" x="377.640" y="132.120" style="stroke: #000000; stroke-width: 0.8"/>
      </g>
     </g>
    </g>
    <g id="ytick_7">
     <g id="line2d_19">
      <g>
       <use href="#m5d545ce8f8" x="377.640" y="109.800" style="stroke: #000000; stroke-width: 0.8"/>
      </g>
     </g>
    </g>
    <g id="ytick_8">
     <g id="line2d_20">
      <g>
       <use href="#m5d545ce8f8" x="377.640" y="88.200" style="stroke: #000000; stroke-width: 0.8"/>
      </g>
     </g>
    </g>
    <g id="ytick_9">
     <g id="line2d_21">
      <g>
       <use href="#m5d545ce8f8" x="377.640" y="65.880" style="stroke: #000000; stroke-width: 0.8"/>
      </g>
     </g>
    </g>
    <g id="ytick_10">
     <g id="line2d_22">
      <g>
       <use href="#m5d545ce8f8" x="377.640" y="43.560" style="stroke: #000000; stroke-width: 0.8"/>
      </g>
     </g>
    </g>
   </g>
   <g id="line2d_23">
    <g clip-path="url(#pdf2add2d83)">
     <use href="#mb5f375dd62" x="495.000504" y="44.0028" style="fill: #ff0000"/>
     <use href="#mb5f375dd62" x="556.109904" y="44.0028" style="fill: #ff0000"/>
     <use href="#mb5f375dd62" x="561.149808" y="44.0028" style="fill: #ff0000"/>
     <use href="#mb5f375dd62" x="639.359688" y="44.0028" style="fill: #ff0000"/>
    </g>
   </g>
   <g id="line2d_24">
    <path d="M 378.359664 74.970018 
L 379.530528 91.350297 
L 379.979472 77.669991 
L 381.060096 82.169946 
L 382.679904 70.740171 
L 384.209472 73.619478 
L 385.559688 83.069937 
L 386.909904 70.740171 
L 387.810048 85.76991 
L 388.844424 85.340394 
L 389.879928 70.019514 
L 390.23976 85.76991 
L 391.409496 83.520486 
L 392.58036 88.739991 
L 393.390264 78.569982 
L 395.010072 83.069937 
L 396.179808 74.970018 
L 397.170192 80.935641 
L 398.159448 84.869919 
L 399.509664 82.620495 
L 400.85988 78.12054 
L 402.029616 89.369874 
L 402.83952 66.41955 
L 404.010384 82.169946 
L 405.18012 66.41955 
L 406.259616 81.720504 
L 407.609832 75.41946 
L 408.509976 86.040018 
L 409.140528 69.389631 
L 410.310264 73.619478 
L 411.48 64.800009 
L 412.559496 69.119523 
L 413.45964 88.199775 
L 414.809856 74.519469 
L 415.61976 70.715817 
L 416.429664 67.77009 
L 417.510288 79.469973 
L 418.589784 59.219622 
L 420.390072 65.070117 
L 421.290216 71.999937 
L 422.10012 69.584463 
L 422.910024 68.670081 
L 424.26024 76.319451 
L 425.070144 70.436853 
L 425.880048 68.670081 
L 426.644832 72.504729 
L 427.409616 74.070027 
L 428.759832 74.070027 
L 430.290528 66.870099 
L 430.829712 80.099856 
L 431.594496 71.443116 
L 432.360408 70.019514 
L 433.709496 68.670081 
L 434.88036 72.719487 
L 435.780504 83.789487 
L 437.04048 73.619478 
L 437.850384 75.531267 
L 438.660288 65.789667 
L 439.289712 84.420477 
L 440.234976 75.626469 
L 441.18024 71.819496 
L 442.440216 83.789487 
L 443.609952 73.619478 
L 444.510096 70.470063 
L 446.310384 72.270045 
L 447.38988 90.269865 
L 448.559616 80.820513 
L 449.64024 74.519469 
L 450.359904 74.130912 
L 451.079568 69.119523 
L 453.060336 83.789487 
L 453.96048 70.740171 
L 455.309568 75.870009 
L 456.659784 63.719577 
L 458.01 83.789487 
L 460.26036 75.41946 
L 461.609448 74.519469 
L 462.509592 71.370054 
L 463.140144 54.900108 
L 464.30988 76.77 
L 465.210024 62.370144 
L 466.110168 82.169946 
L 466.874952 68.000346 
L 467.639736 61.919595 
L 469.259544 64.170126 
L 469.709616 83.789487 
L 470.88048 70.019514 
L 472.140456 66.870099 
L 473.310192 79.469973 
L 474.074976 70.279659 
L 474.83976 66.240216 
L 475.560552 73.619478 
L 476.90964 78.12054 
L 478.080504 63.719577 
L 479.879664 62.370144 
L 481.22988 84.420477 
L 481.860432 66.41955 
L 482.759448 53.640342 
L 484.109664 75.41946 
L 485.45988 72.270045 
L 486.269784 71.411013 
L 487.079688 65.519559 
L 487.71024 84.420477 
L 489.060456 73.619478 
L 490.139952 80.820513 
L 490.680264 68.399973 
L 492.03048 86.040018 
L 492.795264 75.432744 
L 493.560048 71.370054 
L 495.000504 33.597 
L 495.810408 74.519469 
L 497.159496 74.519469 
L 498.05964 77.220549 
L 499.409856 74.970018 
L 500.579592 81.720504 
L 501.660216 79.020531 
L 503.010432 76.77 
L 503.460504 90.269865 
L 507.059952 74.970018 
L 508.86024 67.77009 
L 510.210456 66.41955 
L 511.109472 78.547842 
L 512.009616 83.969928 
L 513.359832 82.169946 
L 514.710048 79.020531 
L 515.610192 78.524595 
L 516.510336 76.77 
L 517.54584 76.859667 
L 518.580216 84.420477 
L 519.39012 70.019514 
L 520.559856 76.77 
L 521.46 78.781419 
L 522.360144 76.319451 
L 523.395648 74.322423 
L 524.430024 75.41946 
L 525.059448 81.720504 
L 525.78024 96.12036 
L 527.040216 69.389631 
L 527.75988 86.220459 
L 528.840504 53.640342 
L 529.560168 75.947499 
L 530.279832 86.040018 
L 531.179976 74.512827 
L 532.08012 75.099537 
L 532.980264 69.389631 
L 533.880408 79.469973 
L 534.645192 78.82902 
L 535.409976 76.319451 
L 536.760192 64.34946 
L 537.389616 101.880081 
L 538.28976 90.269865 
L 539.639976 79.020531 
L 540.180288 56.340315 
L 540.945072 77.27922 
L 541.709856 78.569982 
L 542.47464 80.623467 
L 543.240552 56.340315 
L 543.779736 72.270045 
L 544.545648 82.508688 
L 545.310432 83.969928 
L 546.209448 91.799739 
L 548.009736 91.350297 
L 548.459808 81.899838 
L 549.810024 89.550315 
L 550.439448 71.999937 
L 551.610312 79.020531 
L 553.409472 87.299784 
L 554.759688 68.670081 
L 556.109904 33.597 
L 557.46012 77.220549 
L 557.910192 102.599631 
L 558.539616 72.719487 
L 559.71048 91.080189 
L 561.149808 33.597 
L 561.959712 80.820513 
L 563.084328 74.869281 
L 564.210072 66.41955 
L 565.560288 70.019514 
L 566.910504 72.719487 
L 568.259592 86.669901 
L 568.980384 69.119523 
L 569.745168 72.726129 
L 570.509952 77.220549 
L 570.960024 85.05036 
L 571.860168 90.899748 
L 572.624952 82.588392 
L 573.389736 70.470063 
L 574.1094 80.051148 
L 574.830192 87.299784 
L 576.180408 91.529631 
L 577.080552 73.619478 
L 578.61012 77.220549 
L 579.329784 88.199775 
L 579.779856 90.450306 
L 580.86048 75.870009 
L 581.849736 79.8696 
L 582.84012 94.499712 
L 584.279448 71.370054 
L 585.629664 85.950351 
L 586.710288 72.719487 
L 588.509448 71.819496 
L 589.23024 87.299784 
L 589.995024 75.327579 
L 590.759808 79.020531 
L 592.110024 76.319451 
L 593.46024 69.570072 
L 594.810456 81.269955 
L 596.340024 88.199775 
L 597.78048 69.570072 
L 599.310048 71.819496 
L 600.660264 78.12054 
L 601.379928 84.420477 
L 602.460552 76.319451 
L 603.80964 79.020531 
L 605.159856 73.619478 
L 605.87952 82.169946 
L 606.644304 74.702124 
L 607.410216 71.819496 
L 608.760432 77.220549 
L 610.29 86.399793 
L 611.459736 68.670081 
L 612.35988 73.912833 
L 613.260024 75.41946 
L 614.42976 71.819496 
L 616.230048 83.69982 
L 617.309544 90.899748 
L 618.030336 65.519559 
L 619.11096 77.098779 
L 620.190456 85.320468 
L 621.089472 70.740171 
L 622.710408 74.519469 
L 626.759928 82.620495 
L 627.479592 68.48964 
L 628.245504 77.465196 
L 629.010288 74.519469 
L 630.360504 82.350387 
L 631.709592 69.570072 
L 632.430384 66.41955 
L 634.590504 90.269865 
L 637.020216 74.964483 
L 638.009472 77.220549 
L 639.291692 -1 
M 639.431059 -1 
L 640.800144 78.569982 
L 641.87964 71.819496 
L 642.870024 75.433851 
L 643.860408 75.870009 
L 643.860408 75.870009 
" clip-path="url(#pdf2add2d83)" style="fill: none; stroke: #ff0000; stroke-linecap: square"/>
    <g clip-path="url(#pdf2add2d83)">
     <use href="#mb5f375dd62" x="378.359664" y="74.970018" style="fill: #ff0000"/>
     <use href="#mb5f375dd62" x="379.530528" y="91.350297" style="fill: #ff0000"/>
     <use href="#mb5f375dd62" x="379.979472" y="77.669991" style="fill: #ff0000"/>
     <use href="#mb5f375dd62" x="381.060096" y="82.169946" style="fill: #ff0000"/>
     <use href="#mb5f375dd62" x="381.87" y="76.053771" style="fill: #ff0000"/>
     <use href="#mb5f375dd62" x="382.679904" y="70.740171" style="fill: #ff0000"/>
     <use href="#mb5f375dd62" x="384.209472" y="73.619478" style="fill: #ff0000"/>
     <use href="#mb5f375dd62" x="385.559688" y="83.069937" style="fill: #ff0000"/>
     <use href="#mb5f375dd62" x="386.909904" y="70.740171" style="fill: #ff0000"/>
     <use href="#mb5f375dd62" x="387.810048" y="85.76991" style="fill: #ff0000"/>
     <use href="#mb5f375dd62" x="388.844424" y="85.340394" style="fill: #ff0000"/>
     <use href="#mb5f375dd62" x="389.879928" y="70.019514" style="fill: #ff0000"/>
     <use href="#mb5f375dd62" x="390.23976" y="85.76991" style="fill: #ff0000"/>
     <use href="#mb5f375dd62" x="391.409496" y="83.520486" style="fill: #ff0000"/>
     <use href="#mb5f375dd62" x="392.58036" y="88.739991" style="fill: #ff0000"/>
     <use href="#mb5f375dd62" x="393.390264" y="78.569982" style="fill: #ff0000"/>
     <use href="#mb5f375dd62" x="394.200168" y="80.978814" style="fill: #ff0000"/>
     <use href="#mb5f375dd62" x="395.010072" y="83.069937" style="fill: #ff0000"/>
     <use href="#mb5f375dd62" x="396.179808" y="74.970018" style="fill: #ff0000"/>
     <use href="#mb5f375dd62" x="397.170192" y="80.935641" style="fill: #ff0000"/>
     <use href="#mb5f375dd62" x="398.159448" y="84.869919" style="fill: #ff0000"/>
     <use href="#mb5f375dd62" x="399.509664" y="82.620495" style="fill: #ff0000"/>
     <use href="#mb5f375dd62" x="400.85988" y="78.12054" style="fill: #ff0000"/>
     <use href="#mb5f375dd62" x="402.029616" y="89.369874" style="fill: #ff0000"/>
     <use href="#mb5f375dd62" x="402.83952" y="66.41955" style="fill: #ff0000"/>
     <use href="#mb5f375dd62" x="404.010384" y="82.169946" style="fill: #ff0000"/>
     <use href="#mb5f375dd62" x="405.18012" y="66.41955" style="fill: #ff0000"/>
     <use href="#mb5f375dd62" x="406.259616" y="81.720504" style="fill: #ff0000"/>
     <use href="#mb5f375dd62" x="407.609832" y="75.41946" style="fill: #ff0000"/>
     <use href="#mb5f375dd62" x="408.509976" y="86.040018" style="fill: #ff0000"/>
     <use href="#mb5f375dd62" x="409.140528" y="69.389631" style="fill: #ff0000"/>
     <use href="#mb5f375dd62" x="410.310264" y="73.619478" style="fill: #ff0000"/>
     <use href="#mb5f375dd62" x="411.48" y="64.800009" style="fill: #ff0000"/>
     <use href="#mb5f375dd62" x="412.559496" y="69.119523" style="fill: #ff0000"/>
     <use href="#mb5f375dd62" x="413.45964" y="88.199775" style="fill: #ff0000"/>
     <use href="#mb5f375dd62" x="414.809856" y="74.519469" style="fill: #ff0000"/>
     <use href="#mb5f375dd62" x="415.61976" y="70.715817" style="fill: #ff0000"/>
     <use href="#mb5f375dd62" x="416.429664" y="67.77009" style="fill: #ff0000"/>
     <use href="#mb5f375dd62" x="417.510288" y="79.469973" style="fill: #ff0000"/>
     <use href="#mb5f375dd62" x="418.589784" y="59.219622" style="fill: #ff0000"/>
     <use href="#mb5f375dd62" x="420.390072" y="65.070117" style="fill: #ff0000"/>
     <use href="#mb5f375dd62" x="421.290216" y="71.999937" style="fill: #ff0000"/>
     <use href="#mb5f375dd62" x="422.10012" y="69.584463" style="fill: #ff0000"/>
     <use href="#mb5f375dd62" x="422.910024" y="68.670081" style="fill: #ff0000"/>
     <use href="#mb5f375dd62" x="424.26024" y="76.319451" style="fill: #ff0000"/>
     <use href="#mb5f375dd62" x="425.070144" y="70.436853" style="fill: #ff0000"/>
     <use href="#mb5f375dd62" x="425.880048" y="68.670081" style="fill: #ff0000"/>
     <use href="#mb5f375dd62" x="426.644832" y="72.504729" style="fill: #ff0000"/>
     <use href="#mb5f375dd62" x="427.409616" y="74.070027" style="fill: #ff0000"/>
     <use href="#mb5f375dd62" x="428.759832" y="74.070027" style="fill: #ff0000"/>
     <use href="#mb5f375dd62" x="429.524616" y="70.721352" style="fill: #ff0000"/>
     <use href="#mb5f375dd62" x="430.290528" y="66.870099" style="fill: #ff0000"/>
     <use href="#mb5f375dd62" x="430.829712" y="80.099856" style="fill: #ff0000"/>
     <use href="#mb5f375dd62" x="431.594496" y="71.443116" style="fill: #ff0000"/>
     <use href="#mb5f375dd62" x="432.360408" y="70.019514" style="fill: #ff0000"/>
     <use href="#mb5f375dd62" x="433.709496" y="68.670081" style="fill: #ff0000"/>
     <use href="#mb5f375dd62" x="434.88036" y="72.719487" style="fill: #ff0000"/>
     <use href="#mb5f375dd62" x="435.780504" y="83.789487" style="fill: #ff0000"/>
     <use href="#mb5f375dd62" x="437.04048" y="73.619478" style="fill: #ff0000"/>
     <use href="#mb5f375dd62" x="437.850384" y="75.531267" style="fill: #ff0000"/>
     <use href="#mb5f375dd62" x="438.660288" y="65.789667" style="fill: #ff0000"/>
     <use href="#mb5f375dd62" x="439.289712" y="84.420477" style="fill: #ff0000"/>
     <use href="#mb5f375dd62" x="440.234976" y="75.626469" style="fill: #ff0000"/>
     <use href="#mb5f375dd62" x="441.18024" y="71.819496" style="fill: #ff0000"/>
     <use href="#mb5f375dd62" x="442.440216" y="83.789487" style="fill: #ff0000"/>
     <use href="#mb5f375dd62" x="443.609952" y="73.619478" style="fill: #ff0000"/>
     <use href="#mb5f375dd62" x="444.510096" y="70.470063" style="fill: #ff0000"/>
     <use href="#mb5f375dd62" x="446.310384" y="72.270045" style="fill: #ff0000"/>
     <use href="#mb5f375dd62" x="447.38988" y="90.269865" style="fill: #ff0000"/>
     <use href="#mb5f375dd62" x="448.559616" y="80.820513" style="fill: #ff0000"/>
     <use href="#mb5f375dd62" x="449.64024" y="74.519469" style="fill: #ff0000"/>
     <use href="#mb5f375dd62" x="450.359904" y="74.130912" style="fill: #ff0000"/>
     <use href="#mb5f375dd62" x="451.079568" y="69.119523" style="fill: #ff0000"/>
     <use href="#mb5f375dd62" x="452.069952" y="76.628304" style="fill: #ff0000"/>
     <use href="#mb5f375dd62" x="453.060336" y="83.789487" style="fill: #ff0000"/>
     <use href="#mb5f375dd62" x="453.96048" y="70.740171" style="fill: #ff0000"/>
     <use href="#mb5f375dd62" x="455.309568" y="75.870009" style="fill: #ff0000"/>
     <use href="#mb5f375dd62" x="456.659784" y="63.719577" style="fill: #ff0000"/>
     <use href="#mb5f375dd62" x="458.01" y="83.789487" style="fill: #ff0000"/>
     <use href="#mb5f375dd62" x="460.26036" y="75.41946" style="fill: #ff0000"/>
     <use href="#mb5f375dd62" x="461.609448" y="74.519469" style="fill: #ff0000"/>
     <use href="#mb5f375dd62" x="462.509592" y="71.370054" style="fill: #ff0000"/>
     <use href="#mb5f375dd62" x="463.140144" y="54.900108" style="fill: #ff0000"/>
     <use href="#mb5f375dd62" x="464.30988" y="76.77" style="fill: #ff0000"/>
     <use href="#mb5f375dd62" x="465.210024" y="62.370144" style="fill: #ff0000"/>
     <use href="#mb5f375dd62" x="466.110168" y="82.169946" style="fill: #ff0000"/>
     <use href="#mb5f375dd62" x="466.874952" y="68.000346" style="fill: #ff0000"/>
     <use href="#mb5f375dd62" x="467.639736" y="61.919595" style="fill: #ff0000"/>
     <use href="#mb5f375dd62" x="469.259544" y="64.170126" style="fill: #ff0000"/>
     <use href="#mb5f375dd62" x="469.709616" y="83.789487" style="fill: #ff0000"/>
     <use href="#mb5f375dd62" x="470.88048" y="70.019514" style="fill: #ff0000"/>
     <use href="#mb5f375dd62" x="472.140456" y="66.870099" style="fill: #ff0000"/>
     <use href="#mb5f375dd62" x="473.310192" y="79.469973" style="fill: #ff0000"/>
     <use href="#mb5f375dd62" x="474.074976" y="70.279659" style="fill: #ff0000"/>
     <use href="#mb5f375dd62" x="474.83976" y="66.240216" style="fill: #ff0000"/>
     <use href="#mb5f375dd62" x="475.560552" y="73.619478" style="fill: #ff0000"/>
     <use href="#mb5f375dd62" x="476.90964" y="78.12054" style="fill: #ff0000"/>
     <use href="#mb5f375dd62" x="478.080504" y="63.719577" style="fill: #ff0000"/>
     <use href="#mb5f375dd62" x="479.879664" y="62.370144" style="fill: #ff0000"/>
     <use href="#mb5f375dd62" x="481.22988" y="84.420477" style="fill: #ff0000"/>
     <use href="#mb5f375dd62" x="481.860432" y="66.41955" style="fill: #ff0000"/>
     <use href="#mb5f375dd62" x="482.759448" y="53.640342" style="fill: #ff0000"/>
     <use href="#mb5f375dd62" x="484.109664" y="75.41946" style="fill: #ff0000"/>
     <use href="#mb5f375dd62" x="485.45988" y="72.270045" style="fill: #ff0000"/>
     <use href="#mb5f375dd62" x="486.269784" y="71.411013" style="fill: #ff0000"/>
     <use href="#mb5f375dd62" x="487.079688" y="65.519559" style="fill: #ff0000"/>
     <use href="#mb5f375dd62" x="487.71024" y="84.420477" style="fill: #ff0000"/>
     <use href="#mb5f375dd62" x="489.060456" y="73.619478" style="fill: #ff0000"/>
     <use href="#mb5f375dd62" x="490.139952" y="80.820513" style="fill: #ff0000"/>
     <use href="#mb5f375dd62" x="490.680264" y="68.399973" style="fill: #ff0000"/>
     <use href="#mb5f375dd62" x="492.03048" y="86.040018" style="fill: #ff0000"/>
     <use href="#mb5f375dd62" x="492.795264" y="75.432744" style="fill: #ff0000"/>
     <use href="#mb5f375dd62" x="493.560048" y="71.370054" style="fill: #ff0000"/>
     <use href="#mb5f375dd62" x="495.000504" y="33.597" style="fill: #ff0000"/>
     <use href="#mb5f375dd62" x="495.810408" y="74.519469" style="fill: #ff0000"/>
     <use href="#mb5f375dd62" x="497.159496" y="74.519469" style="fill: #ff0000"/>
     <use href="#mb5f375dd62" x="498.05964" y="77.220549" style="fill: #ff0000"/>
     <use href="#mb5f375dd62" x="499.409856" y="74.970018" style="fill: #ff0000"/>
     <use href="#mb5f375dd62" x="500.579592" y="81.720504" style="fill: #ff0000"/>
     <use href="#mb5f375dd62" x="501.660216" y="79.020531" style="fill: #ff0000"/>
     <use href="#mb5f375dd62" x="503.010432" y="76.77" style="fill: #ff0000"/>
     <use href="#mb5f375dd62" x="503.460504" y="90.269865" style="fill: #ff0000"/>
     <use href="#mb5f375dd62" x="505.890216" y="79.920522" style="fill: #ff0000"/>
     <use href="#mb5f375dd62" x="507.059952" y="74.970018" style="fill: #ff0000"/>
     <use href="#mb5f375dd62" x="508.86024" y="67.77009" style="fill: #ff0000"/>
     <use href="#mb5f375dd62" x="510.210456" y="66.41955" style="fill: #ff0000"/>
     <use href="#mb5f375dd62" x="511.109472" y="78.547842" style="fill: #ff0000"/>
     <use href="#mb5f375dd62" x="512.009616" y="83.969928" style="fill: #ff0000"/>
     <use href="#mb5f375dd62" x="513.359832" y="82.169946" style="fill: #ff0000"/>
     <use href="#mb5f375dd62" x="514.710048" y="79.020531" style="fill: #ff0000"/>
     <use href="#mb5f375dd62" x="515.610192" y="78.524595" style="fill: #ff0000"/>
     <use href="#mb5f375dd62" x="516.510336" y="76.77" style="fill: #ff0000"/>
     <use href="#mb5f375dd62" x="517.54584" y="76.859667" style="fill: #ff0000"/>
     <use href="#mb5f375dd62" x="518.580216" y="84.420477" style="fill: #ff0000"/>
     <use href="#mb5f375dd62" x="519.39012" y="70.019514" style="fill: #ff0000"/>
     <use href="#mb5f375dd62" x="520.559856" y="76.77" style="fill: #ff0000"/>
     <use href="#mb5f375dd62" x="521.46" y="78.781419" style="fill: #ff0000"/>
     <use href="#mb5f375dd62" x="522.360144" y="76.319451" style="fill: #ff0000"/>
     <use href="#mb5f375dd62" x="523.395648" y="74.322423" style="fill: #ff0000"/>
     <use href="#mb5f375dd62" x="524.430024" y="75.41946" style="fill: #ff0000"/>
     <use href="#mb5f375dd62" x="525.059448" y="81.720504" style="fill: #ff0000"/>
     <use href="#mb5f375dd62" x="525.78024" y="96.12036" style="fill: #ff0000"/>
     <use href="#mb5f375dd62" x="527.040216" y="69.389631" style="fill: #ff0000"/>
     <use href="#mb5f375dd62" x="527.75988" y="86.220459" style="fill: #ff0000"/>
     <use href="#mb5f375dd62" x="528.840504" y="53.640342" style="fill: #ff0000"/>
     <use href="#mb5f375dd62" x="529.560168" y="75.947499" style="fill: #ff0000"/>
     <use href="#mb5f375dd62" x="530.279832" y="86.040018" style="fill: #ff0000"/>
     <use href="#mb5f375dd62" x="531.179976" y="74.512827" style="fill: #ff0000"/>
     <use href="#mb5f375dd62" x="532.08012" y="75.099537" style="fill: #ff0000"/>
     <use href="#mb5f375dd62" x="532.980264" y="69.389631" style="fill: #ff0000"/>
     <use href="#mb5f375dd62" x="533.880408" y="79.469973" style="fill: #ff0000"/>
     <use href="#mb5f375dd62" x="534.645192" y="78.82902" style="fill: #ff0000"/>
     <use href="#mb5f375dd62" x="535.409976" y="76.319451" style="fill: #ff0000"/>
     <use href="#mb5f375dd62" x="536.760192" y="64.34946" style="fill: #ff0000"/>
     <use href="#mb5f375dd62" x="537.389616" y="101.880081" style="fill: #ff0000"/>
     <use href="#mb5f375dd62" x="538.28976" y="90.269865" style="fill: #ff0000"/>
     <use href="#mb5f375dd62" x="539.639976" y="79.020531" style="fill: #ff0000"/>
     <use href="#mb5f375dd62" x="540.180288" y="56.340315" style="fill: #ff0000"/>
     <use href="#mb5f375dd62" x="540.945072" y="77.27922" style="fill: #ff0000"/>
     <use href="#mb5f375dd62" x="541.709856" y="78.569982" style="fill: #ff0000"/>
     <use href="#mb5f375dd62" x="542.47464" y="80.623467" style="fill: #ff0000"/>
     <use href="#mb5f375dd62" x="543.240552" y="56.340315" style="fill: #ff0000"/>
     <use href="#mb5f375dd62" x="543.779736" y="72.270045" style="fill: #ff0000"/>
     <use href="#mb5f375dd62" x="544.545648" y="82.508688" style="fill: #ff0000"/>
     <use href="#mb5f375dd62" x="545.310432" y="83.969928" style="fill: #ff0000"/>
     <use href="#mb5f375dd62" x="546.209448" y="91.799739" style="fill: #ff0000"/>
     <use href="#mb5f375dd62" x="548.009736" y="91.350297" style="fill: #ff0000"/>
     <use href="#mb5f375dd62" x="548.459808" y="81.899838" style="fill: #ff0000"/>
     <use href="#mb5f375dd62" x="549.810024" y="89.550315" style="fill: #ff0000"/>
     <use href="#mb5f375dd62" x="550.439448" y="71.999937" style="fill: #ff0000"/>
     <use href="#mb5f375dd62" x="551.610312" y="79.020531" style="fill: #ff0000"/>
     <use href="#mb5f375dd62" x="552.510456" y="83.250378" style="fill: #ff0000"/>
     <use href="#mb5f375dd62" x="553.409472" y="87.299784" style="fill: #ff0000"/>
     <use href="#mb5f375dd62" x="554.759688" y="68.670081" style="fill: #ff0000"/>
     <use href="#mb5f375dd62" x="556.109904" y="33.597" style="fill: #ff0000"/>
     <use href="#mb5f375dd62" x="557.46012" y="77.220549" style="fill: #ff0000"/>
     <use href="#mb5f375dd62" x="557.910192" y="102.599631" style="fill: #ff0000"/>
     <use href="#mb5f375dd62" x="558.539616" y="72.719487" style="fill: #ff0000"/>
     <use href="#mb5f375dd62" x="559.71048" y="91.080189" style="fill: #ff0000"/>
     <use href="#mb5f375dd62" x="561.149808" y="33.597" style="fill: #ff0000"/>
     <use href="#mb5f375dd62" x="561.959712" y="80.820513" style="fill: #ff0000"/>
     <use href="#mb5f375dd62" x="563.084328" y="74.869281" style="fill: #ff0000"/>
     <use href="#mb5f375dd62" x="564.210072" y="66.41955" style="fill: #ff0000"/>
     <use href="#mb5f375dd62" x="565.560288" y="70.019514" style="fill: #ff0000"/>
     <use href="#mb5f375dd62" x="566.910504" y="72.719487" style="fill: #ff0000"/>
     <use href="#mb5f375dd62" x="568.259592" y="86.669901" style="fill: #ff0000"/>
     <use href="#mb5f375dd62" x="568.980384" y="69.119523" style="fill: #ff0000"/>
     <use href="#mb5f375dd62" x="569.745168" y="72.726129" style="fill: #ff0000"/>
     <use href="#mb5f375dd62" x="570.509952" y="77.220549" style="fill: #ff0000"/>
     <use href="#mb5f375dd62" x="570.960024" y="85.05036" style="fill: #ff0000"/>
     <use href="#mb5f375dd62" x="571.860168" y="90.899748" style="fill: #ff0000"/>
     <use href="#mb5f375dd62" x="572.624952" y="82.588392" style="fill: #ff0000"/>
     <use href="#mb5f375dd62" x="573.389736" y="70.470063" style="fill: #ff0000"/>
     <use href="#mb5f375dd62" x="574.1094" y="80.051148" style="fill: #ff0000"/>
     <use href="#mb5f375dd62" x="574.830192" y="87.299784" style="fill: #ff0000"/>
     <use href="#mb5f375dd62" x="576.180408" y="91.529631" style="fill: #ff0000"/>
     <use href="#mb5f375dd62" x="577.080552" y="73.619478" style="fill: #ff0000"/>
     <use href="#mb5f375dd62" x="578.61012" y="77.220549" style="fill: #ff0000"/>
     <use href="#mb5f375dd62" x="579.329784" y="88.199775" style="fill: #ff0000"/>
     <use href="#mb5f375dd62" x="579.779856" y="90.450306" style="fill: #ff0000"/>
     <use href="#mb5f375dd62" x="580.86048" y="75.870009" style="fill: #ff0000"/>
     <use href="#mb5f375dd62" x="581.849736" y="79.8696" style="fill: #ff0000"/>
     <use href="#mb5f375dd62" x="582.84012" y="94.499712" style="fill: #ff0000"/>
     <use href="#mb5f375dd62" x="583.559784" y="82.903887" style="fill: #ff0000"/>
     <use href="#mb5f375dd62" x="584.279448" y="71.370054" style="fill: #ff0000"/>
     <use href="#mb5f375dd62" x="585.629664" y="85.950351" style="fill: #ff0000"/>
     <use href="#mb5f375dd62" x="586.710288" y="72.719487" style="fill: #ff0000"/>
     <use href="#mb5f375dd62" x="588.509448" y="71.819496" style="fill: #ff0000"/>
     <use href="#mb5f375dd62" x="589.23024" y="87.299784" style="fill: #ff0000"/>
     <use href="#mb5f375dd62" x="589.995024" y="75.327579" style="fill: #ff0000"/>
     <use href="#mb5f375dd62" x="590.759808" y="79.020531" style="fill: #ff0000"/>
     <use href="#mb5f375dd62" x="592.110024" y="76.319451" style="fill: #ff0000"/>
     <use href="#mb5f375dd62" x="593.46024" y="69.570072" style="fill: #ff0000"/>
     <use href="#mb5f375dd62" x="594.810456" y="81.269955" style="fill: #ff0000"/>
     <use href="#mb5f375dd62" x="596.340024" y="88.199775" style="fill: #ff0000"/>
     <use href="#mb5f375dd62" x="597.060816" y="78.182532" style="fill: #ff0000"/>
     <use href="#mb5f375dd62" x="597.78048" y="69.570072" style="fill: #ff0000"/>
     <use href="#mb5f375dd62" x="599.310048" y="71.819496" style="fill: #ff0000"/>
     <use href="#mb5f375dd62" x="600.660264" y="78.12054" style="fill: #ff0000"/>
     <use href="#mb5f375dd62" x="601.379928" y="84.420477" style="fill: #ff0000"/>
     <use href="#mb5f375dd62" x="602.460552" y="76.319451" style="fill: #ff0000"/>
     <use href="#mb5f375dd62" x="603.80964" y="79.020531" style="fill: #ff0000"/>
     <use href="#mb5f375dd62" x="605.159856" y="73.619478" style="fill: #ff0000"/>
     <use href="#mb5f375dd62" x="605.87952" y="82.169946" style="fill: #ff0000"/>
     <use href="#mb5f375dd62" x="606.644304" y="74.702124" style="fill: #ff0000"/>
     <use href="#mb5f375dd62" x="607.410216" y="71.819496" style="fill: #ff0000"/>
     <use href="#mb5f375dd62" x="608.760432" y="77.220549" style="fill: #ff0000"/>
     <use href="#mb5f375dd62" x="610.29" y="86.399793" style="fill: #ff0000"/>
     <use href="#mb5f375dd62" x="611.459736" y="68.670081" style="fill: #ff0000"/>
     <use href="#mb5f375dd62" x="612.35988" y="73.912833" style="fill: #ff0000"/>
     <use href="#mb5f375dd62" x="613.260024" y="75.41946" style="fill: #ff0000"/>
     <use href="#mb5f375dd62" x="614.42976" y="71.819496" style="fill: #ff0000"/>
     <use href="#mb5f375dd62" x="615.329904" y="77.433093" style="fill: #ff0000"/>
     <use href="#mb5f375dd62" x="616.230048" y="83.69982" style="fill: #ff0000"/>
     <use href="#mb5f375dd62" x="617.309544" y="90.899748" style="fill: #ff0000"/>
     <use href="#mb5f375dd62" x="618.030336" y="65.519559" style="fill: #ff0000"/>
     <use href="#mb5f375dd62" x="619.11096" y="77.098779" style="fill: #ff0000"/>
     <use href="#mb5f375dd62" x="620.190456" y="85.320468" style="fill: #ff0000"/>
     <use href="#mb5f375dd62" x="621.089472" y="70.740171" style="fill: #ff0000"/>
     <use href="#mb5f375dd62" x="622.710408" y="74.519469" style="fill: #ff0000"/>
     <use href="#mb5f375dd62" x="624.059496" y="77.220549" style="fill: #ff0000"/>
     <use href="#mb5f375dd62" x="625.409712" y="79.920522" style="fill: #ff0000"/>
     <use href="#mb5f375dd62" x="626.759928" y="82.620495" style="fill: #ff0000"/>
     <use href="#mb5f375dd62" x="627.479592" y="68.48964" style="fill: #ff0000"/>
     <use href="#mb5f375dd62" x="628.245504" y="77.465196" style="fill: #ff0000"/>
     <use href="#mb5f375dd62" x="629.010288" y="74.519469" style="fill: #ff0000"/>
     <use href="#mb5f375dd62" x="630.360504" y="82.350387" style="fill: #ff0000"/>
     <use href="#mb5f375dd62" x="631.709592" y="69.570072" style="fill: #ff0000"/>
     <use href="#mb5f375dd62" x="632.430384" y="66.41955" style="fill: #ff0000"/>
     <use href="#mb5f375dd62" x="633.240288" y="74.970018" style="fill: #ff0000"/>
     <use href="#mb5f375dd62" x="634.590504" y="90.269865" style="fill: #ff0000"/>
     <use href="#mb5f375dd62" x="636.029832" y="81.450396" style="fill: #ff0000"/>
     <use href="#mb5f375dd62" x="637.020216" y="74.964483" style="fill: #ff0000"/>
     <use href="#mb5f375dd62" x="638.009472" y="77.220549" style="fill: #ff0000"/>
     <use href="#mb5f375dd62" x="639.291692" y="-1" style="fill: #ff0000"/>
     <use href="#mb5f375dd62" x="639.431059" y="-1" style="fill: #ff0000"/>
     <use href="#mb5f375dd62" x="640.800144" y="78.569982" style="fill: #ff0000"/>
     <use href="#mb5f375dd62" x="641.87964" y="71.819496" style="fill: #ff0000"/>
     <use href="#mb5f375dd62" x="642.870024" y="75.433851" style="fill: #ff0000"/>
     <use href="#mb5f375dd62" x="643.860408" y="75.870009" style="fill: #ff0000"/>
    </g>
   </g>
   <g id="patch_8">
    <path d="M 377.64 132.12 
L 377.64 43.56 
" style="fill: none; stroke: #000000; stroke-width: 0.8; stroke-linejoin: miter; stroke-linecap: square"/>
   </g>
   <g id="patch_9">
    <path d="M 648.36 132.12 
L 648.36 43.56 
" style="fill: none; stroke: #000000; stroke-width: 0.8; stroke-linejoin: miter; stroke-linecap: square"/>
   </g>
   <g id="patch_10">
    <path d="M 377.64 132.12 
L 648.36 132.12 
" style="fill: none; stroke: #000000; stroke-width: 0.8; stroke-linejoin: miter; stroke-linecap: square"/>
   </g>
   <g id="patch_11">
    <path d="M 377.64 43.56 
L 648.36 43.56 
" style="fill: none; stroke: #000000; stroke-width: 0.8; stroke-linejoin: miter; stroke-linecap: square"/>
   </g>
   <g id="text_7">
    <text x="391.176" y="118.836" font-size="11" font-weight="bold" font-style="italic" fill="#000000" font-family="&quot;Liberation Sans&quot;, sans-serif">AORWDAY2</text>
   </g>
  </g>
  <g id="axes_3">
   <g id="patch_12">
    <path d="M 90.36 226.44 
L 361.08 226.44 
L 361.08 137.88 
L 90.36 137.88 
z
" style="fill: #ffffff"/>
   </g>
   <g id="matplotlib.axis_5">
    <g id="xtick_11">
     <g id="line2d_25">
      <g>
       <use href="#m1504cfccaf" x="90.360" y="226.440" style="stroke: #000000; stroke-width: 0.8"/>
      </g>
     </g>
    </g>
    <g id="xtick_12">
     <g id="line2d_26">
      <g>
       <use href="#m1504cfccaf" x="146.520" y="226.440" style="stroke: #000000; stroke-width: 0.8"/>
      </g>
     </g>
    </g>
    <g id="xtick_13">
     <g id="line2d_27">
      <g>
       <use href="#m1504cfccaf" x="203.400" y="226.440" style="stroke: #000000; stroke-width: 0.8"/>
      </g>
     </g>
    </g>
    <g id="xtick_14">
     <g id="line2d_28">
      <g>
       <use href="#m1504cfccaf" x="259.560" y="226.440" style="stroke: #000000; stroke-width: 0.8"/>
      </g>
     </g>
    </g>
    <g id="xtick_15">
     <g id="line2d_29">
      <g>
       <use href="#m1504cfccaf" x="315.720" y="226.440" style="stroke: #000000; stroke-width: 0.8"/>
      </g>
     </g>
    </g>
   </g>
   <g id="matplotlib.axis_6">
    <g id="ytick_11">
     <g id="line2d_30">
      <g>
       <use href="#m5d545ce8f8" x="90.360" y="226.440" style="stroke: #000000; stroke-width: 0.8"/>
      </g>
     </g>
     <g id="text_8">
      <text x="83.36" y="229.86" font-size="9" text-anchor="end" fill="#000000" font-family="&quot;Liberation Sans&quot;, sans-serif">4</text>
     </g>
    </g>
    <g id="ytick_12">
     <g id="line2d_31">
      <g>
       <use href="#m5d545ce8f8" x="90.360" y="204.120" style="stroke: #000000; stroke-width: 0.8"/>
      </g>
     </g>
     <g id="text_9">
      <text x="83.36" y="207.72" font-size="9" text-anchor="end" fill="#000000" font-family="&quot;Liberation Sans&quot;, sans-serif">6</text>
     </g>
    </g>
    <g id="ytick_13">
     <g id="line2d_32">
      <g>
       <use href="#m5d545ce8f8" x="90.360" y="182.520" style="stroke: #000000; stroke-width: 0.8"/>
      </g>
     </g>
     <g id="text_10">
      <text x="83.36" y="185.58" font-size="9" text-anchor="end" fill="#000000" font-family="&quot;Liberation Sans&quot;, sans-serif">8</text>
     </g>
    </g>
    <g id="ytick_14">
     <g id="line2d_33">
      <g>
       <use href="#m5d545ce8f8" x="90.360" y="160.200" style="stroke: #000000; stroke-width: 0.8"/>
      </g>
     </g>
     <g id="text_11">
      <text x="83.36" y="163.44" font-size="9" text-anchor="end" fill="#000000" font-family="&quot;Liberation Sans&quot;, sans-serif">10</text>
     </g>
    </g>
    <g id="ytick_15">
     <g id="line2d_34">
      <g>
       <use href="#m5d545ce8f8" x="90.360" y="137.880" style="stroke: #000000; stroke-width: 0.8"/>
      </g>
     </g>
     <g id="text_12">
      <text x="83.36" y="141.3" font-size="9" text-anchor="end" fill="#000000" font-family="&quot;Liberation Sans&quot;, sans-serif">12</text>
     </g>
    </g>
    <g id="text_13">
     <text transform="translate(64.94 182.16) rotate(-90)" font-size="9" text-anchor="middle" fill="#000000" font-family="&quot;Liberation Sans&quot;, sans-serif">Counts (x10**7)</text>
    </g>
   </g>
   <g id="line2d_35">
    <g clip-path="url(#p05138aaee8)">
     <use href="#mb5f375dd62" x="352.43952" y="138.3228" style="fill: #ff0000"/>
    </g>
   </g>
   <g id="line2d_36">
    <path d="M 91.260144 162.09009 
L 91.979808 173.789973 
L 93.330024 164.339514 
L 94.230168 168.839469 
L 95.399904 162.09009 
L 96.030456 174.689964 
L 97.379544 165.239505 
L 98.279688 168.839469 
L 99.450552 178.740477 
L 101.880264 152.009748 
L 102.780408 177.389937 
L 104.129496 170.639451 
L 105.30036 173.340531 
L 106.110264 167.939478 
L 107.28 174.060081 
L 108.359496 158.490126 
L 109.53036 171.540549 
L 110.340264 170.556426 
L 111.150168 157.139586 
L 111.779592 179.640468 
L 112.860216 162.990081 
L 113.804352 163.733985 
L 114.749616 170.819892 
L 115.55952 150.660315 
L 116.730384 164.339514 
L 117.90012 154.260279 
L 118.979616 167.939478 
L 120.329832 160.73955 
L 121.229976 174.419856 
L 121.94964 157.590135 
L 122.715552 170.132445 
L 123.480336 167.490036 
L 124.830552 159.839559 
L 126.000288 173.789973 
L 126.900432 169.290018 
L 127.799448 178.109487 
L 128.880072 155.520045 
L 130.230288 165.690054 
L 131.400024 153.990171 
L 132.47952 165.690054 
L 133.560144 158.039577 
L 134.72988 165.239505 
L 135.899616 162.09009 
L 136.98024 167.939478 
L 139.229472 170.460117 
L 140.129616 160.73955 
L 141.479832 163.890072 
L 142.244616 162.568314 
L 143.010528 158.490126 
L 143.549712 170.819892 
L 144.314496 160.560216 
L 145.080408 162.09009 
L 146.429496 165.690054 
L 147.19428 162.680121 
L 147.960192 157.860243 
L 148.679856 169.73946 
L 149.129928 164.339514 
L 150.030072 168.699987 
L 150.930216 170.639451 
L 152.280432 168.390027 
L 153.045216 169.326549 
L 153.81 162.09009 
L 154.979736 172.44054 
L 156.329952 168.390027 
L 157.680168 163.890072 
L 159.030384 162.990081 
L 160.10988 178.919811 
L 161.010024 157.860243 
L 162.17976 161.190099 
L 163.079904 156.239595 
L 164.43012 162.990081 
L 165.780336 167.039487 
L 166.859832 169.290018 
L 167.579496 159.6879 
L 168.300288 160.73955 
L 169.379784 157.860243 
L 170.145696 159.752106 
L 170.91048 176.040504 
L 171.630144 161.190099 
L 172.530288 159.631443 
L 173.430432 161.190099 
L 174.77952 162.539532 
L 176.129736 152.639631 
L 177.299472 170.460117 
L 178.380096 154.439613 
L 179.730312 156.239595 
L 180.629328 156.221883 
L 181.529472 153.539622 
L 182.429616 171.540549 
L 183.60048 158.039577 
L 184.679976 149.939658 
L 186.030192 175.319847 
L 186.794976 162.703368 
L 187.55976 155.790153 
L 188.729496 166.590045 
L 189.62964 166.400748 
L 190.529784 159.390117 
L 192.330072 161.190099 
L 193.139976 167.507748 
L 193.94988 178.289928 
L 195.030504 164.339514 
L 195.930648 165.343563 
L 196.829664 175.860063 
L 197.729808 169.290018 
L 198.36036 163.439523 
L 199.799688 158.039577 
L 201.149904 173.340531 
L 202.50012 165.690054 
L 203.579616 165.690054 
L 204.029688 176.489946 
L 204.75048 186.840396 
L 205.515264 174.792915 
L 206.280048 172.260099 
L 207.089952 172.70622 
L 207.899856 173.340531 
L 208.98048 178.289928 
L 210.510048 166.319937 
L 211.679784 176.940495 
L 213.299592 180.989901 
L 214.199736 170.819892 
L 215.549952 165.690054 
L 216.180504 185.219748 
L 217.529592 168.839469 
L 218.610216 178.289928 
L 219.779952 165.690054 
L 220.680096 169.191495 
L 221.58024 168.839469 
L 222.930456 164.790063 
L 223.829472 168.337998 
L 224.729616 169.290018 
L 226.079832 176.040504 
L 227.88012 173.789973 
L 228.599784 161.37054 
L 230.13048 168.390027 
L 231.300216 177.570378 
L 232.379712 172.889982 
L 233.370096 173.073744 
L 234.36048 167.939478 
L 235.980288 170.639451 
L 236.790192 174.06783 
L 237.600096 170.639451 
L 237.779448 176.040504 
L 238.50024 179.460027 
L 239.760216 163.709631 
L 240.929952 180.989901 
L 241.560504 152.909739 
L 242.280168 171.063432 
L 242.999832 172.44054 
L 243.764616 167.271957 
L 244.530528 168.839469 
L 245.879616 163.890072 
L 247.229832 177.570378 
L 248.129976 165.690054 
L 248.89476 168.858288 
L 249.659544 165.060171 
L 250.380336 180.360018 
L 252.359976 182.340441 
L 253.07964 149.939658 
L 254.429856 162.539532 
L 255.960552 160.290108 
L 256.499736 170.460117 
L 258.209784 173.519865 
L 258.750096 199.800045 
L 260.729736 188.37027 
L 261.62988 165.060171 
L 262.530024 188.189829 
L 262.980096 171.540549 
L 264.10584 169.898868 
L 265.230456 163.709631 
L 266.129472 176.670387 
L 267.479688 162.09009 
L 268.829904 168.839469 
L 269.730048 177.840486 
L 270.630192 196.200081 
L 271.530336 168.839469 
L 272.429352 167.318451 
L 273.329496 168.390027 
L 273.960048 182.519775 
L 274.679712 166.189311 
L 275.400504 170.190009 
L 276.165288 169.690752 
L 276.930072 163.890072 
L 278.099808 158.039577 
L 278.86572 167.667156 
L 279.630504 166.139496 
L 280.979592 164.790063 
L 281.700384 170.819892 
L 282.465168 164.094867 
L 283.229952 161.190099 
L 284.580168 173.789973 
L 285.344952 167.221035 
L 286.109736 164.339514 
L 287.279472 176.489946 
L 288.900408 180.540459 
L 289.800552 155.790153 
L 290.610456 178.470369 
L 291.42036 172.099584 
L 292.230264 171.989991 
L 294.030552 160.109667 
L 295.37964 175.140513 
L 296.100432 178.289928 
L 296.729856 162.990081 
L 297.49464 166.654251 
L 298.260552 176.940495 
L 298.980216 158.039577 
L 299.88036 151.290198 
L 300.600024 175.589955 
L 301.95024 175.860063 
L 303.029736 167.939478 
L 304.379952 168.390027 
L 305.549688 173.16009 
L 306.18024 158.490126 
L 307.530456 163.890072 
L 308.879544 177.389937 
L 309.779688 163.890072 
L 310.860312 163.890072 
L 312.030048 176.040504 
L 313.380264 180.989901 
L 315.000072 166.319937 
L 316.079568 173.789973 
L 316.889472 171.994419 
L 317.700504 160.109667 
L 318.59952 178.109487 
L 319.364304 172.13058 
L 320.130216 163.890072 
L 321.03036 165.690054 
L 321.480432 173.789973 
L 322.245216 174.80952 
L 323.01 180.719793 
L 323.550312 189.000153 
L 325.529952 166.139496 
L 326.609448 162.990081 
L 327.419352 166.764951 
L 328.230384 167.939478 
L 329.130528 169.045371 
L 330.029544 183.059991 
L 330.750336 157.139586 
L 331.51512 169.671933 
L 332.279904 167.490036 
L 333.180048 172.44054 
L 334.080192 172.5291 
L 334.980336 163.439523 
L 336.330552 172.889982 
L 337.67964 167.939478 
L 338.400432 179.640468 
L 339.299448 172.630944 
L 340.199592 167.039487 
L 341.549808 184.589865 
L 342.630432 167.939478 
L 343.529448 174.240522 
L 344.429592 165.690054 
L 345.150384 178.289928 
L 346.005408 173.978163 
L 346.860432 174.689964 
L 347.670336 174.484062 
L 348.48024 173.340531 
L 349.380384 172.67301 
L 350.280528 169.290018 
L 351.629616 178.740477 
L 352.43952 126.81 
L 353.429904 170.639451 
L 354.59964 173.340531 
L 355.230192 167.490036 
L 355.994976 166.691889 
L 356.75976 161.460207 
L 356.75976 161.460207 
" clip-path="url(#p05138aaee8)" style="fill: none; stroke: #ff0000; stroke-linecap: square"/>
    <g clip-path="url(#p05138aaee8)">
     <use href="#mb5f375dd62" x="91.260144" y="162.09009" style="fill: #ff0000"/>
     <use href="#mb5f375dd62" x="91.979808" y="173.789973" style="fill: #ff0000"/>
     <use href="#mb5f375dd62" x="93.330024" y="164.339514" style="fill: #ff0000"/>
     <use href="#mb5f375dd62" x="94.230168" y="168.839469" style="fill: #ff0000"/>
     <use href="#mb5f375dd62" x="95.399904" y="162.09009" style="fill: #ff0000"/>
     <use href="#mb5f375dd62" x="96.030456" y="174.689964" style="fill: #ff0000"/>
     <use href="#mb5f375dd62" x="97.379544" y="165.239505" style="fill: #ff0000"/>
     <use href="#mb5f375dd62" x="98.279688" y="168.839469" style="fill: #ff0000"/>
     <use href="#mb5f375dd62" x="99.450552" y="178.740477" style="fill: #ff0000"/>
     <use href="#mb5f375dd62" x="100.530048" y="166.590045" style="fill: #ff0000"/>
     <use href="#mb5f375dd62" x="101.880264" y="152.009748" style="fill: #ff0000"/>
     <use href="#mb5f375dd62" x="102.780408" y="177.389937" style="fill: #ff0000"/>
     <use href="#mb5f375dd62" x="104.129496" y="170.639451" style="fill: #ff0000"/>
     <use href="#mb5f375dd62" x="105.30036" y="173.340531" style="fill: #ff0000"/>
     <use href="#mb5f375dd62" x="106.110264" y="167.939478" style="fill: #ff0000"/>
     <use href="#mb5f375dd62" x="107.28" y="174.060081" style="fill: #ff0000"/>
     <use href="#mb5f375dd62" x="108.359496" y="158.490126" style="fill: #ff0000"/>
     <use href="#mb5f375dd62" x="109.53036" y="171.540549" style="fill: #ff0000"/>
     <use href="#mb5f375dd62" x="110.340264" y="170.556426" style="fill: #ff0000"/>
     <use href="#mb5f375dd62" x="111.150168" y="157.139586" style="fill: #ff0000"/>
     <use href="#mb5f375dd62" x="111.779592" y="179.640468" style="fill: #ff0000"/>
     <use href="#mb5f375dd62" x="112.860216" y="162.990081" style="fill: #ff0000"/>
     <use href="#mb5f375dd62" x="113.804352" y="163.733985" style="fill: #ff0000"/>
     <use href="#mb5f375dd62" x="114.749616" y="170.819892" style="fill: #ff0000"/>
     <use href="#mb5f375dd62" x="115.55952" y="150.660315" style="fill: #ff0000"/>
     <use href="#mb5f375dd62" x="116.730384" y="164.339514" style="fill: #ff0000"/>
     <use href="#mb5f375dd62" x="117.90012" y="154.260279" style="fill: #ff0000"/>
     <use href="#mb5f375dd62" x="118.979616" y="167.939478" style="fill: #ff0000"/>
     <use href="#mb5f375dd62" x="120.329832" y="160.73955" style="fill: #ff0000"/>
     <use href="#mb5f375dd62" x="121.229976" y="174.419856" style="fill: #ff0000"/>
     <use href="#mb5f375dd62" x="121.94964" y="157.590135" style="fill: #ff0000"/>
     <use href="#mb5f375dd62" x="122.715552" y="170.132445" style="fill: #ff0000"/>
     <use href="#mb5f375dd62" x="123.480336" y="167.490036" style="fill: #ff0000"/>
     <use href="#mb5f375dd62" x="124.830552" y="159.839559" style="fill: #ff0000"/>
     <use href="#mb5f375dd62" x="126.000288" y="173.789973" style="fill: #ff0000"/>
     <use href="#mb5f375dd62" x="126.900432" y="169.290018" style="fill: #ff0000"/>
     <use href="#mb5f375dd62" x="127.799448" y="178.109487" style="fill: #ff0000"/>
     <use href="#mb5f375dd62" x="128.880072" y="155.520045" style="fill: #ff0000"/>
     <use href="#mb5f375dd62" x="130.230288" y="165.690054" style="fill: #ff0000"/>
     <use href="#mb5f375dd62" x="131.400024" y="153.990171" style="fill: #ff0000"/>
     <use href="#mb5f375dd62" x="132.47952" y="165.690054" style="fill: #ff0000"/>
     <use href="#mb5f375dd62" x="133.560144" y="158.039577" style="fill: #ff0000"/>
     <use href="#mb5f375dd62" x="134.72988" y="165.239505" style="fill: #ff0000"/>
     <use href="#mb5f375dd62" x="135.899616" y="162.09009" style="fill: #ff0000"/>
     <use href="#mb5f375dd62" x="136.98024" y="167.939478" style="fill: #ff0000"/>
     <use href="#mb5f375dd62" x="139.229472" y="170.460117" style="fill: #ff0000"/>
     <use href="#mb5f375dd62" x="140.129616" y="160.73955" style="fill: #ff0000"/>
     <use href="#mb5f375dd62" x="141.479832" y="163.890072" style="fill: #ff0000"/>
     <use href="#mb5f375dd62" x="142.244616" y="162.568314" style="fill: #ff0000"/>
     <use href="#mb5f375dd62" x="143.010528" y="158.490126" style="fill: #ff0000"/>
     <use href="#mb5f375dd62" x="143.549712" y="170.819892" style="fill: #ff0000"/>
     <use href="#mb5f375dd62" x="144.314496" y="160.560216" style="fill: #ff0000"/>
     <use href="#mb5f375dd62" x="145.080408" y="162.09009" style="fill: #ff0000"/>
     <use href="#mb5f375dd62" x="146.429496" y="165.690054" style="fill: #ff0000"/>
     <use href="#mb5f375dd62" x="147.19428" y="162.680121" style="fill: #ff0000"/>
     <use href="#mb5f375dd62" x="147.960192" y="157.860243" style="fill: #ff0000"/>
     <use href="#mb5f375dd62" x="148.679856" y="169.73946" style="fill: #ff0000"/>
     <use href="#mb5f375dd62" x="149.129928" y="164.339514" style="fill: #ff0000"/>
     <use href="#mb5f375dd62" x="150.030072" y="168.699987" style="fill: #ff0000"/>
     <use href="#mb5f375dd62" x="150.930216" y="170.639451" style="fill: #ff0000"/>
     <use href="#mb5f375dd62" x="152.280432" y="168.390027" style="fill: #ff0000"/>
     <use href="#mb5f375dd62" x="153.045216" y="169.326549" style="fill: #ff0000"/>
     <use href="#mb5f375dd62" x="153.81" y="162.09009" style="fill: #ff0000"/>
     <use href="#mb5f375dd62" x="154.979736" y="172.44054" style="fill: #ff0000"/>
     <use href="#mb5f375dd62" x="156.329952" y="168.390027" style="fill: #ff0000"/>
     <use href="#mb5f375dd62" x="157.680168" y="163.890072" style="fill: #ff0000"/>
     <use href="#mb5f375dd62" x="159.030384" y="162.990081" style="fill: #ff0000"/>
     <use href="#mb5f375dd62" x="160.10988" y="178.919811" style="fill: #ff0000"/>
     <use href="#mb5f375dd62" x="161.010024" y="157.860243" style="fill: #ff0000"/>
     <use href="#mb5f375dd62" x="162.17976" y="161.190099" style="fill: #ff0000"/>
     <use href="#mb5f375dd62" x="163.079904" y="156.239595" style="fill: #ff0000"/>
     <use href="#mb5f375dd62" x="164.43012" y="162.990081" style="fill: #ff0000"/>
     <use href="#mb5f375dd62" x="165.780336" y="167.039487" style="fill: #ff0000"/>
     <use href="#mb5f375dd62" x="166.859832" y="169.290018" style="fill: #ff0000"/>
     <use href="#mb5f375dd62" x="167.579496" y="159.6879" style="fill: #ff0000"/>
     <use href="#mb5f375dd62" x="168.300288" y="160.73955" style="fill: #ff0000"/>
     <use href="#mb5f375dd62" x="169.379784" y="157.860243" style="fill: #ff0000"/>
     <use href="#mb5f375dd62" x="170.145696" y="159.752106" style="fill: #ff0000"/>
     <use href="#mb5f375dd62" x="170.91048" y="176.040504" style="fill: #ff0000"/>
     <use href="#mb5f375dd62" x="171.630144" y="161.190099" style="fill: #ff0000"/>
     <use href="#mb5f375dd62" x="172.530288" y="159.631443" style="fill: #ff0000"/>
     <use href="#mb5f375dd62" x="173.430432" y="161.190099" style="fill: #ff0000"/>
     <use href="#mb5f375dd62" x="174.77952" y="162.539532" style="fill: #ff0000"/>
     <use href="#mb5f375dd62" x="176.129736" y="152.639631" style="fill: #ff0000"/>
     <use href="#mb5f375dd62" x="177.299472" y="170.460117" style="fill: #ff0000"/>
     <use href="#mb5f375dd62" x="178.380096" y="154.439613" style="fill: #ff0000"/>
     <use href="#mb5f375dd62" x="179.730312" y="156.239595" style="fill: #ff0000"/>
     <use href="#mb5f375dd62" x="180.629328" y="156.221883" style="fill: #ff0000"/>
     <use href="#mb5f375dd62" x="181.529472" y="153.539622" style="fill: #ff0000"/>
     <use href="#mb5f375dd62" x="182.429616" y="171.540549" style="fill: #ff0000"/>
     <use href="#mb5f375dd62" x="183.60048" y="158.039577" style="fill: #ff0000"/>
     <use href="#mb5f375dd62" x="184.679976" y="149.939658" style="fill: #ff0000"/>
     <use href="#mb5f375dd62" x="185.39964" y="163.709631" style="fill: #ff0000"/>
     <use href="#mb5f375dd62" x="186.030192" y="175.319847" style="fill: #ff0000"/>
     <use href="#mb5f375dd62" x="186.794976" y="162.703368" style="fill: #ff0000"/>
     <use href="#mb5f375dd62" x="187.55976" y="155.790153" style="fill: #ff0000"/>
     <use href="#mb5f375dd62" x="188.729496" y="166.590045" style="fill: #ff0000"/>
     <use href="#mb5f375dd62" x="189.62964" y="166.400748" style="fill: #ff0000"/>
     <use href="#mb5f375dd62" x="190.529784" y="159.390117" style="fill: #ff0000"/>
     <use href="#mb5f375dd62" x="192.330072" y="161.190099" style="fill: #ff0000"/>
     <use href="#mb5f375dd62" x="193.139976" y="167.507748" style="fill: #ff0000"/>
     <use href="#mb5f375dd62" x="193.94988" y="178.289928" style="fill: #ff0000"/>
     <use href="#mb5f375dd62" x="195.030504" y="164.339514" style="fill: #ff0000"/>
     <use href="#mb5f375dd62" x="195.930648" y="165.343563" style="fill: #ff0000"/>
     <use href="#mb5f375dd62" x="196.829664" y="175.860063" style="fill: #ff0000"/>
     <use href="#mb5f375dd62" x="197.729808" y="169.290018" style="fill: #ff0000"/>
     <use href="#mb5f375dd62" x="198.36036" y="163.439523" style="fill: #ff0000"/>
     <use href="#mb5f375dd62" x="199.799688" y="158.039577" style="fill: #ff0000"/>
     <use href="#mb5f375dd62" x="201.149904" y="173.340531" style="fill: #ff0000"/>
     <use href="#mb5f375dd62" x="202.50012" y="165.690054" style="fill: #ff0000"/>
     <use href="#mb5f375dd62" x="203.579616" y="165.690054" style="fill: #ff0000"/>
     <use href="#mb5f375dd62" x="204.029688" y="176.489946" style="fill: #ff0000"/>
     <use href="#mb5f375dd62" x="204.75048" y="186.840396" style="fill: #ff0000"/>
     <use href="#mb5f375dd62" x="205.515264" y="174.792915" style="fill: #ff0000"/>
     <use href="#mb5f375dd62" x="206.280048" y="172.260099" style="fill: #ff0000"/>
     <use href="#mb5f375dd62" x="207.089952" y="172.70622" style="fill: #ff0000"/>
     <use href="#mb5f375dd62" x="207.899856" y="173.340531" style="fill: #ff0000"/>
     <use href="#mb5f375dd62" x="208.98048" y="178.289928" style="fill: #ff0000"/>
     <use href="#mb5f375dd62" x="209.745264" y="172.712862" style="fill: #ff0000"/>
     <use href="#mb5f375dd62" x="210.510048" y="166.319937" style="fill: #ff0000"/>
     <use href="#mb5f375dd62" x="211.679784" y="176.940495" style="fill: #ff0000"/>
     <use href="#mb5f375dd62" x="213.299592" y="180.989901" style="fill: #ff0000"/>
     <use href="#mb5f375dd62" x="214.199736" y="170.819892" style="fill: #ff0000"/>
     <use href="#mb5f375dd62" x="215.549952" y="165.690054" style="fill: #ff0000"/>
     <use href="#mb5f375dd62" x="216.180504" y="185.219748" style="fill: #ff0000"/>
     <use href="#mb5f375dd62" x="217.529592" y="168.839469" style="fill: #ff0000"/>
     <use href="#mb5f375dd62" x="218.610216" y="178.289928" style="fill: #ff0000"/>
     <use href="#mb5f375dd62" x="219.779952" y="165.690054" style="fill: #ff0000"/>
     <use href="#mb5f375dd62" x="220.680096" y="169.191495" style="fill: #ff0000"/>
     <use href="#mb5f375dd62" x="221.58024" y="168.839469" style="fill: #ff0000"/>
     <use href="#mb5f375dd62" x="222.930456" y="164.790063" style="fill: #ff0000"/>
     <use href="#mb5f375dd62" x="223.829472" y="168.337998" style="fill: #ff0000"/>
     <use href="#mb5f375dd62" x="224.729616" y="169.290018" style="fill: #ff0000"/>
     <use href="#mb5f375dd62" x="226.079832" y="176.040504" style="fill: #ff0000"/>
     <use href="#mb5f375dd62" x="227.88012" y="173.789973" style="fill: #ff0000"/>
     <use href="#mb5f375dd62" x="228.599784" y="161.37054" style="fill: #ff0000"/>
     <use href="#mb5f375dd62" x="230.13048" y="168.390027" style="fill: #ff0000"/>
     <use href="#mb5f375dd62" x="231.300216" y="177.570378" style="fill: #ff0000"/>
     <use href="#mb5f375dd62" x="232.379712" y="172.889982" style="fill: #ff0000"/>
     <use href="#mb5f375dd62" x="233.370096" y="173.073744" style="fill: #ff0000"/>
     <use href="#mb5f375dd62" x="234.36048" y="167.939478" style="fill: #ff0000"/>
     <use href="#mb5f375dd62" x="235.170384" y="169.357545" style="fill: #ff0000"/>
     <use href="#mb5f375dd62" x="235.980288" y="170.639451" style="fill: #ff0000"/>
     <use href="#mb5f375dd62" x="236.790192" y="174.06783" style="fill: #ff0000"/>
     <use href="#mb5f375dd62" x="237.600096" y="170.639451" style="fill: #ff0000"/>
     <use href="#mb5f375dd62" x="237.779448" y="176.040504" style="fill: #ff0000"/>
     <use href="#mb5f375dd62" x="238.50024" y="179.460027" style="fill: #ff0000"/>
     <use href="#mb5f375dd62" x="239.760216" y="163.709631" style="fill: #ff0000"/>
     <use href="#mb5f375dd62" x="240.929952" y="180.989901" style="fill: #ff0000"/>
     <use href="#mb5f375dd62" x="241.560504" y="152.909739" style="fill: #ff0000"/>
     <use href="#mb5f375dd62" x="242.280168" y="171.063432" style="fill: #ff0000"/>
     <use href="#mb5f375dd62" x="242.999832" y="172.44054" style="fill: #ff0000"/>
     <use href="#mb5f375dd62" x="243.764616" y="167.271957" style="fill: #ff0000"/>
     <use href="#mb5f375dd62" x="244.530528" y="168.839469" style="fill: #ff0000"/>
     <use href="#mb5f375dd62" x="245.879616" y="163.890072" style="fill: #ff0000"/>
     <use href="#mb5f375dd62" x="247.229832" y="177.570378" style="fill: #ff0000"/>
     <use href="#mb5f375dd62" x="248.129976" y="165.690054" style="fill: #ff0000"/>
     <use href="#mb5f375dd62" x="248.89476" y="168.858288" style="fill: #ff0000"/>
     <use href="#mb5f375dd62" x="249.659544" y="165.060171" style="fill: #ff0000"/>
     <use href="#mb5f375dd62" x="250.380336" y="180.360018" style="fill: #ff0000"/>
     <use href="#mb5f375dd62" x="252.359976" y="182.340441" style="fill: #ff0000"/>
     <use href="#mb5f375dd62" x="253.07964" y="149.939658" style="fill: #ff0000"/>
     <use href="#mb5f375dd62" x="254.429856" y="162.539532" style="fill: #ff0000"/>
     <use href="#mb5f375dd62" x="255.960552" y="160.290108" style="fill: #ff0000"/>
     <use href="#mb5f375dd62" x="256.499736" y="170.460117" style="fill: #ff0000"/>
     <use href="#mb5f375dd62" x="258.209784" y="173.519865" style="fill: #ff0000"/>
     <use href="#mb5f375dd62" x="258.750096" y="199.800045" style="fill: #ff0000"/>
     <use href="#mb5f375dd62" x="260.729736" y="188.37027" style="fill: #ff0000"/>
     <use href="#mb5f375dd62" x="261.62988" y="165.060171" style="fill: #ff0000"/>
     <use href="#mb5f375dd62" x="262.530024" y="188.189829" style="fill: #ff0000"/>
     <use href="#mb5f375dd62" x="262.980096" y="171.540549" style="fill: #ff0000"/>
     <use href="#mb5f375dd62" x="264.10584" y="169.898868" style="fill: #ff0000"/>
     <use href="#mb5f375dd62" x="265.230456" y="163.709631" style="fill: #ff0000"/>
     <use href="#mb5f375dd62" x="266.129472" y="176.670387" style="fill: #ff0000"/>
     <use href="#mb5f375dd62" x="267.479688" y="162.09009" style="fill: #ff0000"/>
     <use href="#mb5f375dd62" x="268.829904" y="168.839469" style="fill: #ff0000"/>
     <use href="#mb5f375dd62" x="269.730048" y="177.840486" style="fill: #ff0000"/>
     <use href="#mb5f375dd62" x="270.630192" y="196.200081" style="fill: #ff0000"/>
     <use href="#mb5f375dd62" x="271.530336" y="168.839469" style="fill: #ff0000"/>
     <use href="#mb5f375dd62" x="272.429352" y="167.318451" style="fill: #ff0000"/>
     <use href="#mb5f375dd62" x="273.329496" y="168.390027" style="fill: #ff0000"/>
     <use href="#mb5f375dd62" x="273.960048" y="182.519775" style="fill: #ff0000"/>
     <use href="#mb5f375dd62" x="274.679712" y="166.189311" style="fill: #ff0000"/>
     <use href="#mb5f375dd62" x="275.400504" y="170.190009" style="fill: #ff0000"/>
     <use href="#mb5f375dd62" x="276.165288" y="169.690752" style="fill: #ff0000"/>
     <use href="#mb5f375dd62" x="276.930072" y="163.890072" style="fill: #ff0000"/>
     <use href="#mb5f375dd62" x="278.099808" y="158.039577" style="fill: #ff0000"/>
     <use href="#mb5f375dd62" x="278.86572" y="167.667156" style="fill: #ff0000"/>
     <use href="#mb5f375dd62" x="279.630504" y="166.139496" style="fill: #ff0000"/>
     <use href="#mb5f375dd62" x="280.979592" y="164.790063" style="fill: #ff0000"/>
     <use href="#mb5f375dd62" x="281.700384" y="170.819892" style="fill: #ff0000"/>
     <use href="#mb5f375dd62" x="282.465168" y="164.094867" style="fill: #ff0000"/>
     <use href="#mb5f375dd62" x="283.229952" y="161.190099" style="fill: #ff0000"/>
     <use href="#mb5f375dd62" x="284.580168" y="173.789973" style="fill: #ff0000"/>
     <use href="#mb5f375dd62" x="285.344952" y="167.221035" style="fill: #ff0000"/>
     <use href="#mb5f375dd62" x="286.109736" y="164.339514" style="fill: #ff0000"/>
     <use href="#mb5f375dd62" x="287.279472" y="176.489946" style="fill: #ff0000"/>
     <use href="#mb5f375dd62" x="288.900408" y="180.540459" style="fill: #ff0000"/>
     <use href="#mb5f375dd62" x="289.800552" y="155.790153" style="fill: #ff0000"/>
     <use href="#mb5f375dd62" x="290.610456" y="178.470369" style="fill: #ff0000"/>
     <use href="#mb5f375dd62" x="291.42036" y="172.099584" style="fill: #ff0000"/>
     <use href="#mb5f375dd62" x="292.230264" y="171.989991" style="fill: #ff0000"/>
     <use href="#mb5f375dd62" x="292.859688" y="167.939478" style="fill: #ff0000"/>
     <use href="#mb5f375dd62" x="294.030552" y="160.109667" style="fill: #ff0000"/>
     <use href="#mb5f375dd62" x="295.37964" y="175.140513" style="fill: #ff0000"/>
     <use href="#mb5f375dd62" x="296.100432" y="178.289928" style="fill: #ff0000"/>
     <use href="#mb5f375dd62" x="296.729856" y="162.990081" style="fill: #ff0000"/>
     <use href="#mb5f375dd62" x="297.49464" y="166.654251" style="fill: #ff0000"/>
     <use href="#mb5f375dd62" x="298.260552" y="176.940495" style="fill: #ff0000"/>
     <use href="#mb5f375dd62" x="298.980216" y="158.039577" style="fill: #ff0000"/>
     <use href="#mb5f375dd62" x="299.88036" y="151.290198" style="fill: #ff0000"/>
     <use href="#mb5f375dd62" x="300.600024" y="175.589955" style="fill: #ff0000"/>
     <use href="#mb5f375dd62" x="301.95024" y="175.860063" style="fill: #ff0000"/>
     <use href="#mb5f375dd62" x="303.029736" y="167.939478" style="fill: #ff0000"/>
     <use href="#mb5f375dd62" x="304.379952" y="168.390027" style="fill: #ff0000"/>
     <use href="#mb5f375dd62" x="305.549688" y="173.16009" style="fill: #ff0000"/>
     <use href="#mb5f375dd62" x="306.18024" y="158.490126" style="fill: #ff0000"/>
     <use href="#mb5f375dd62" x="307.530456" y="163.890072" style="fill: #ff0000"/>
     <use href="#mb5f375dd62" x="308.879544" y="177.389937" style="fill: #ff0000"/>
     <use href="#mb5f375dd62" x="309.779688" y="163.890072" style="fill: #ff0000"/>
     <use href="#mb5f375dd62" x="310.860312" y="163.890072" style="fill: #ff0000"/>
     <use href="#mb5f375dd62" x="312.030048" y="176.040504" style="fill: #ff0000"/>
     <use href="#mb5f375dd62" x="313.380264" y="180.989901" style="fill: #ff0000"/>
     <use href="#mb5f375dd62" x="314.280408" y="172.889982" style="fill: #ff0000"/>
     <use href="#mb5f375dd62" x="315.000072" y="166.319937" style="fill: #ff0000"/>
     <use href="#mb5f375dd62" x="316.079568" y="173.789973" style="fill: #ff0000"/>
     <use href="#mb5f375dd62" x="316.889472" y="171.994419" style="fill: #ff0000"/>
     <use href="#mb5f375dd62" x="317.700504" y="160.109667" style="fill: #ff0000"/>
     <use href="#mb5f375dd62" x="318.59952" y="178.109487" style="fill: #ff0000"/>
     <use href="#mb5f375dd62" x="319.364304" y="172.13058" style="fill: #ff0000"/>
     <use href="#mb5f375dd62" x="320.130216" y="163.890072" style="fill: #ff0000"/>
     <use href="#mb5f375dd62" x="321.03036" y="165.690054" style="fill: #ff0000"/>
     <use href="#mb5f375dd62" x="321.480432" y="173.789973" style="fill: #ff0000"/>
     <use href="#mb5f375dd62" x="322.245216" y="174.80952" style="fill: #ff0000"/>
     <use href="#mb5f375dd62" x="323.01" y="180.719793" style="fill: #ff0000"/>
     <use href="#mb5f375dd62" x="323.550312" y="189.000153" style="fill: #ff0000"/>
     <use href="#mb5f375dd62" x="324.360216" y="179.37036" style="fill: #ff0000"/>
     <use href="#mb5f375dd62" x="325.529952" y="166.139496" style="fill: #ff0000"/>
     <use href="#mb5f375dd62" x="326.609448" y="162.990081" style="fill: #ff0000"/>
     <use href="#mb5f375dd62" x="327.419352" y="166.764951" style="fill: #ff0000"/>
     <use href="#mb5f375dd62" x="328.230384" y="167.939478" style="fill: #ff0000"/>
     <use href="#mb5f375dd62" x="329.130528" y="169.045371" style="fill: #ff0000"/>
     <use href="#mb5f375dd62" x="330.029544" y="183.059991" style="fill: #ff0000"/>
     <use href="#mb5f375dd62" x="330.750336" y="157.139586" style="fill: #ff0000"/>
     <use href="#mb5f375dd62" x="331.51512" y="169.671933" style="fill: #ff0000"/>
     <use href="#mb5f375dd62" x="332.279904" y="167.490036" style="fill: #ff0000"/>
     <use href="#mb5f375dd62" x="333.180048" y="172.44054" style="fill: #ff0000"/>
     <use href="#mb5f375dd62" x="334.080192" y="172.5291" style="fill: #ff0000"/>
     <use href="#mb5f375dd62" x="334.980336" y="163.439523" style="fill: #ff0000"/>
     <use href="#mb5f375dd62" x="336.330552" y="172.889982" style="fill: #ff0000"/>
     <use href="#mb5f375dd62" x="337.67964" y="167.939478" style="fill: #ff0000"/>
     <use href="#mb5f375dd62" x="338.400432" y="179.640468" style="fill: #ff0000"/>
     <use href="#mb5f375dd62" x="339.299448" y="172.630944" style="fill: #ff0000"/>
     <use href="#mb5f375dd62" x="340.199592" y="167.039487" style="fill: #ff0000"/>
     <use href="#mb5f375dd62" x="341.549808" y="184.589865" style="fill: #ff0000"/>
     <use href="#mb5f375dd62" x="342.630432" y="167.939478" style="fill: #ff0000"/>
     <use href="#mb5f375dd62" x="343.529448" y="174.240522" style="fill: #ff0000"/>
     <use href="#mb5f375dd62" x="344.429592" y="165.690054" style="fill: #ff0000"/>
     <use href="#mb5f375dd62" x="345.150384" y="178.289928" style="fill: #ff0000"/>
     <use href="#mb5f375dd62" x="346.005408" y="173.978163" style="fill: #ff0000"/>
     <use href="#mb5f375dd62" x="346.860432" y="174.689964" style="fill: #ff0000"/>
     <use href="#mb5f375dd62" x="347.670336" y="174.484062" style="fill: #ff0000"/>
     <use href="#mb5f375dd62" x="348.48024" y="173.340531" style="fill: #ff0000"/>
     <use href="#mb5f375dd62" x="349.380384" y="172.67301" style="fill: #ff0000"/>
     <use href="#mb5f375dd62" x="350.280528" y="169.290018" style="fill: #ff0000"/>
     <use href="#mb5f375dd62" x="351.629616" y="178.740477" style="fill: #ff0000"/>
     <use href="#mb5f375dd62" x="352.43952" y="126.81" style="fill: #ff0000"/>
     <use href="#mb5f375dd62" x="353.429904" y="170.639451" style="fill: #ff0000"/>
     <use href="#mb5f375dd62" x="354.59964" y="173.340531" style="fill: #ff0000"/>
     <use href="#mb5f375dd62" x="355.230192" y="167.490036" style="fill: #ff0000"/>
     <use href="#mb5f375dd62" x="355.994976" y="166.691889" style="fill: #ff0000"/>
     <use href="#mb5f375dd62" x="356.75976" y="161.460207" style="fill: #ff0000"/>
    </g>
   </g>
   <g id="patch_13">
    <path d="M 90.36 226.44 
L 90.36 137.88 
" style="fill: none; stroke: #000000; stroke-width: 0.8; stroke-linejoin: miter; stroke-linecap: square"/>
   </g>
   <g id="patch_14">
    <path d="M 361.08 226.44 
L 361.08 137.88 
" style="fill: none; stroke: #000000; stroke-width: 0.8; stroke-linejoin: miter; stroke-linecap: square"/>
   </g>
   <g id="patch_15">
    <path d="M 90.36 226.44 
L 361.08 226.44 
" style="fill: none; stroke: #000000; stroke-width: 0.8; stroke-linejoin: miter; stroke-linecap: square"/>
   </g>
   <g id="patch_16">
    <path d="M 90.36 137.88 
L 361.08 137.88 
" style="fill: none; stroke: #000000; stroke-width: 0.8; stroke-linejoin: miter; stroke-linecap: square"/>
   </g>
   <g id="text_14">
    <text x="103.896" y="212.979" font-size="11" font-weight="bold" font-style="italic" fill="#000000" font-family="&quot;Liberation Sans&quot;, sans-serif">AORWDAY3</text>
   </g>
  </g>
  <g id="axes_4">
   <g id="patch_17">
    <path d="M 377.64 226.44 
L 648.36 226.44 
L 648.36 137.88 
L 377.64 137.88 
z
" style="fill: #ffffff"/>
   </g>
   <g id="matplotlib.axis_7">
    <g id="xtick_16">
     <g id="line2d_37">
      <g>
       <use href="#m1504cfccaf" x="377.640" y="226.440" style="stroke: #000000; stroke-width: 0.8"/>
      </g>
     </g>
    </g>
    <g id="xtick_17">
     <g id="line2d_38">
      <g>
       <use href="#m1504cfccaf" x="433.800" y="226.440" style="stroke: #000000; stroke-width: 0.8"/>
      </g>
     </g>
    </g>
    <g id="xtick_18">
     <g id="line2d_39">
      <g>
       <use href="#m1504cfccaf" x="490.680" y="226.440" style="stroke: #000000; stroke-width: 0.8"/>
      </g>
     </g>
    </g>
    <g id="xtick_19">
     <g id="line2d_40">
      <g>
       <use href="#m1504cfccaf" x="546.840" y="226.440" style="stroke: #000000; stroke-width: 0.8"/>
      </g>
     </g>
    </g>
    <g id="xtick_20">
     <g id="line2d_41">
      <g>
       <use href="#m1504cfccaf" x="603.000" y="226.440" style="stroke: #000000; stroke-width: 0.8"/>
      </g>
     </g>
    </g>
   </g>
   <g id="matplotlib.axis_8">
    <g id="ytick_16">
     <g id="line2d_42">
      <g>
       <use href="#m5d545ce8f8" x="377.640" y="226.440" style="stroke: #000000; stroke-width: 0.8"/>
      </g>
     </g>
    </g>
    <g id="ytick_17">
     <g id="line2d_43">
      <g>
       <use href="#m5d545ce8f8" x="377.640" y="204.120" style="stroke: #000000; stroke-width: 0.8"/>
      </g>
     </g>
    </g>
    <g id="ytick_18">
     <g id="line2d_44">
      <g>
       <use href="#m5d545ce8f8" x="377.640" y="182.520" style="stroke: #000000; stroke-width: 0.8"/>
      </g>
     </g>
    </g>
    <g id="ytick_19">
     <g id="line2d_45">
      <g>
       <use href="#m5d545ce8f8" x="377.640" y="160.200" style="stroke: #000000; stroke-width: 0.8"/>
      </g>
     </g>
    </g>
    <g id="ytick_20">
     <g id="line2d_46">
      <g>
       <use href="#m5d545ce8f8" x="377.640" y="137.880" style="stroke: #000000; stroke-width: 0.8"/>
      </g>
     </g>
    </g>
   </g>
   <g id="line2d_47">
    <g clip-path="url(#p7c08bb0d99)">
     <use href="#mb5f375dd62" x="639.71952" y="138.3228" style="fill: #ff0000"/>
    </g>
   </g>
   <g id="line2d_48">
    <path d="M 378.540144 162.09009 
L 379.259808 173.789973 
L 380.610024 164.339514 
L 381.510168 168.839469 
L 382.679904 162.09009 
L 383.310456 174.689964 
L 384.659544 165.239505 
L 385.559688 168.839469 
L 386.730552 178.740477 
L 389.160264 152.009748 
L 390.060408 177.389937 
L 391.409496 170.639451 
L 392.58036 173.340531 
L 393.390264 167.939478 
L 394.56 174.060081 
L 395.639496 158.490126 
L 396.81036 171.540549 
L 397.620264 170.556426 
L 398.430168 157.139586 
L 399.059592 179.640468 
L 400.140216 162.990081 
L 401.084352 163.733985 
L 402.029616 170.819892 
L 402.83952 150.660315 
L 404.010384 164.339514 
L 405.18012 154.260279 
L 406.259616 167.939478 
L 407.609832 160.73955 
L 408.509976 174.419856 
L 409.22964 157.590135 
L 409.995552 170.132445 
L 410.760336 167.490036 
L 412.110552 159.839559 
L 413.280288 173.789973 
L 414.180432 169.290018 
L 415.079448 178.109487 
L 416.160072 155.520045 
L 417.510288 165.690054 
L 418.680024 153.990171 
L 419.75952 165.690054 
L 420.840144 158.039577 
L 422.00988 165.239505 
L 423.179616 162.09009 
L 424.26024 167.939478 
L 426.509472 170.460117 
L 427.409616 160.73955 
L 428.759832 163.890072 
L 429.524616 162.568314 
L 430.290528 158.490126 
L 430.829712 170.819892 
L 431.594496 160.560216 
L 432.360408 162.09009 
L 433.709496 165.690054 
L 434.47428 162.680121 
L 435.240192 157.860243 
L 435.959856 169.73946 
L 436.409928 164.339514 
L 437.310072 168.699987 
L 438.210216 170.639451 
L 439.560432 168.390027 
L 440.325216 169.326549 
L 441.09 162.09009 
L 442.259736 172.44054 
L 443.609952 168.390027 
L 444.960168 163.890072 
L 446.310384 162.990081 
L 447.38988 178.919811 
L 448.290024 157.860243 
L 449.45976 161.190099 
L 450.359904 156.239595 
L 451.71012 162.990081 
L 453.060336 167.039487 
L 454.139832 169.290018 
L 454.859496 159.6879 
L 455.580288 160.73955 
L 456.659784 157.860243 
L 457.425696 159.752106 
L 458.19048 176.040504 
L 458.910144 161.190099 
L 459.810288 159.631443 
L 460.710432 161.190099 
L 462.05952 162.539532 
L 463.409736 152.639631 
L 464.579472 170.460117 
L 465.660096 154.439613 
L 467.010312 156.239595 
L 467.909328 156.221883 
L 468.809472 153.539622 
L 469.709616 171.540549 
L 470.88048 158.039577 
L 471.959976 149.939658 
L 473.310192 175.319847 
L 474.074976 162.703368 
L 474.83976 155.790153 
L 476.009496 166.590045 
L 476.90964 166.400748 
L 477.809784 159.390117 
L 479.610072 161.190099 
L 480.419976 167.507748 
L 481.22988 178.289928 
L 482.310504 164.339514 
L 483.210648 165.343563 
L 484.109664 175.860063 
L 485.009808 169.290018 
L 485.64036 163.439523 
L 487.079688 158.039577 
L 488.429904 173.340531 
L 489.78012 165.690054 
L 490.859616 165.690054 
L 491.309688 176.489946 
L 492.03048 186.840396 
L 492.795264 174.792915 
L 493.560048 172.260099 
L 494.369952 172.70622 
L 495.179856 173.340531 
L 496.26048 178.289928 
L 497.790048 166.319937 
L 498.959784 176.940495 
L 500.579592 180.989901 
L 501.479736 170.819892 
L 502.829952 165.690054 
L 503.460504 185.219748 
L 504.809592 168.839469 
L 505.890216 178.289928 
L 507.059952 165.690054 
L 507.960096 169.191495 
L 508.86024 168.839469 
L 510.210456 164.790063 
L 511.109472 168.337998 
L 512.009616 169.290018 
L 513.359832 176.040504 
L 515.16012 173.789973 
L 515.879784 161.37054 
L 517.41048 168.390027 
L 518.580216 177.570378 
L 519.659712 172.889982 
L 520.650096 173.073744 
L 521.64048 167.939478 
L 523.260288 170.639451 
L 524.070192 174.06783 
L 524.880096 170.639451 
L 525.059448 176.040504 
L 525.78024 179.460027 
L 527.040216 163.709631 
L 528.209952 180.989901 
L 528.840504 152.909739 
L 529.560168 171.063432 
L 530.279832 172.44054 
L 531.044616 167.271957 
L 531.810528 168.839469 
L 533.159616 163.890072 
L 534.509832 177.570378 
L 535.409976 165.690054 
L 536.17476 168.858288 
L 536.939544 165.060171 
L 537.660336 180.360018 
L 539.639976 182.340441 
L 540.35964 149.939658 
L 541.709856 162.539532 
L 543.240552 160.290108 
L 543.779736 170.460117 
L 545.489784 173.519865 
L 546.030096 199.800045 
L 548.009736 188.37027 
L 548.90988 165.060171 
L 549.810024 188.189829 
L 550.260096 171.540549 
L 551.38584 169.898868 
L 552.510456 163.709631 
L 553.409472 176.670387 
L 554.759688 162.09009 
L 556.109904 168.839469 
L 557.010048 177.840486 
L 557.910192 196.200081 
L 558.810336 168.839469 
L 559.709352 167.318451 
L 560.609496 168.390027 
L 561.240048 182.519775 
L 561.959712 166.189311 
L 562.680504 170.190009 
L 563.445288 169.690752 
L 564.210072 163.890072 
L 565.379808 158.039577 
L 566.14572 167.667156 
L 566.910504 166.139496 
L 568.259592 164.790063 
L 568.980384 170.819892 
L 569.745168 164.094867 
L 570.509952 161.190099 
L 571.860168 173.789973 
L 572.624952 167.221035 
L 573.389736 164.339514 
L 574.559472 176.489946 
L 576.180408 180.540459 
L 577.080552 155.790153 
L 577.890456 178.470369 
L 578.70036 172.099584 
L 579.510264 171.989991 
L 581.310552 160.109667 
L 582.65964 175.140513 
L 583.380432 178.289928 
L 584.009856 162.990081 
L 584.77464 166.654251 
L 585.540552 176.940495 
L 586.260216 158.039577 
L 587.16036 151.290198 
L 587.880024 175.589955 
L 589.23024 175.860063 
L 590.309736 167.939478 
L 591.659952 168.390027 
L 592.829688 173.16009 
L 593.46024 158.490126 
L 594.810456 163.890072 
L 596.159544 177.389937 
L 597.059688 163.890072 
L 598.140312 163.890072 
L 599.310048 176.040504 
L 600.660264 180.989901 
L 602.280072 166.319937 
L 603.359568 173.789973 
L 604.169472 171.994419 
L 604.980504 160.109667 
L 605.87952 178.109487 
L 606.644304 172.13058 
L 607.410216 163.890072 
L 608.31036 165.690054 
L 608.760432 173.789973 
L 609.525216 174.80952 
L 610.29 180.719793 
L 610.830312 189.000153 
L 612.809952 166.139496 
L 613.889448 162.990081 
L 614.699352 166.764951 
L 615.510384 167.939478 
L 616.410528 169.045371 
L 617.309544 183.059991 
L 618.030336 157.139586 
L 618.79512 169.671933 
L 619.559904 167.490036 
L 620.460048 172.44054 
L 621.360192 172.5291 
L 622.260336 163.439523 
L 623.610552 172.889982 
L 624.95964 167.939478 
L 625.680432 179.640468 
L 626.579448 172.630944 
L 627.479592 167.039487 
L 628.829808 184.589865 
L 629.910432 167.939478 
L 630.809448 174.240522 
L 631.709592 165.690054 
L 632.430384 178.289928 
L 633.285408 173.978163 
L 634.140432 174.689964 
L 634.950336 174.484062 
L 635.76024 173.340531 
L 636.660384 172.67301 
L 637.560528 169.290018 
L 638.909616 178.740477 
L 639.71952 126.81 
L 640.709904 170.639451 
L 641.87964 173.340531 
L 642.510192 167.490036 
L 643.274976 166.691889 
L 644.03976 161.460207 
L 644.03976 161.460207 
" clip-path="url(#p7c08bb0d99)" style="fill: none; stroke: #ff0000; stroke-linecap: square"/>
    <g clip-path="url(#p7c08bb0d99)">
     <use href="#mb5f375dd62" x="378.540144" y="162.09009" style="fill: #ff0000"/>
     <use href="#mb5f375dd62" x="379.259808" y="173.789973" style="fill: #ff0000"/>
     <use href="#mb5f375dd62" x="380.610024" y="164.339514" style="fill: #ff0000"/>
     <use href="#mb5f375dd62" x="381.510168" y="168.839469" style="fill: #ff0000"/>
     <use href="#mb5f375dd62" x="382.679904" y="162.09009" style="fill: #ff0000"/>
     <use href="#mb5f375dd62" x="383.310456" y="174.689964" style="fill: #ff0000"/>
     <use href="#mb5f375dd62" x="384.659544" y="165.239505" style="fill: #ff0000"/>
     <use href="#mb5f375dd62" x="385.559688" y="168.839469" style="fill: #ff0000"/>
     <use href="#mb5f375dd62" x="386.730552" y="178.740477" style="fill: #ff0000"/>
     <use href="#mb5f375dd62" x="387.810048" y="166.590045" style="fill: #ff0000"/>
     <use href="#mb5f375dd62" x="389.160264" y="152.009748" style="fill: #ff0000"/>
     <use href="#mb5f375dd62" x="390.060408" y="177.389937" style="fill: #ff0000"/>
     <use href="#mb5f375dd62" x="391.409496" y="170.639451" style="fill: #ff0000"/>
     <use href="#mb5f375dd62" x="392.58036" y="173.340531" style="fill: #ff0000"/>
     <use href="#mb5f375dd62" x="393.390264" y="167.939478" style="fill: #ff0000"/>
     <use href="#mb5f375dd62" x="394.56" y="174.060081" style="fill: #ff0000"/>
     <use href="#mb5f375dd62" x="395.639496" y="158.490126" style="fill: #ff0000"/>
     <use href="#mb5f375dd62" x="396.81036" y="171.540549" style="fill: #ff0000"/>
     <use href="#mb5f375dd62" x="397.620264" y="170.556426" style="fill: #ff0000"/>
     <use href="#mb5f375dd62" x="398.430168" y="157.139586" style="fill: #ff0000"/>
     <use href="#mb5f375dd62" x="399.059592" y="179.640468" style="fill: #ff0000"/>
     <use href="#mb5f375dd62" x="400.140216" y="162.990081" style="fill: #ff0000"/>
     <use href="#mb5f375dd62" x="401.084352" y="163.733985" style="fill: #ff0000"/>
     <use href="#mb5f375dd62" x="402.029616" y="170.819892" style="fill: #ff0000"/>
     <use href="#mb5f375dd62" x="402.83952" y="150.660315" style="fill: #ff0000"/>
     <use href="#mb5f375dd62" x="404.010384" y="164.339514" style="fill: #ff0000"/>
     <use href="#mb5f375dd62" x="405.18012" y="154.260279" style="fill: #ff0000"/>
     <use href="#mb5f375dd62" x="406.259616" y="167.939478" style="fill: #ff0000"/>
     <use href="#mb5f375dd62" x="407.609832" y="160.73955" style="fill: #ff0000"/>
     <use href="#mb5f375dd62" x="408.509976" y="174.419856" style="fill: #ff0000"/>
     <use href="#mb5f375dd62" x="409.22964" y="157.590135" style="fill: #ff0000"/>
     <use href="#mb5f375dd62" x="409.995552" y="170.132445" style="fill: #ff0000"/>
     <use href="#mb5f375dd62" x="410.760336" y="167.490036" style="fill: #ff0000"/>
     <use href="#mb5f375dd62" x="412.110552" y="159.839559" style="fill: #ff0000"/>
     <use href="#mb5f375dd62" x="413.280288" y="173.789973" style="fill: #ff0000"/>
     <use href="#mb5f375dd62" x="414.180432" y="169.290018" style="fill: #ff0000"/>
     <use href="#mb5f375dd62" x="415.079448" y="178.109487" style="fill: #ff0000"/>
     <use href="#mb5f375dd62" x="416.160072" y="155.520045" style="fill: #ff0000"/>
     <use href="#mb5f375dd62" x="417.510288" y="165.690054" style="fill: #ff0000"/>
     <use href="#mb5f375dd62" x="418.680024" y="153.990171" style="fill: #ff0000"/>
     <use href="#mb5f375dd62" x="419.75952" y="165.690054" style="fill: #ff0000"/>
     <use href="#mb5f375dd62" x="420.840144" y="158.039577" style="fill: #ff0000"/>
     <use href="#mb5f375dd62" x="422.00988" y="165.239505" style="fill: #ff0000"/>
     <use href="#mb5f375dd62" x="423.179616" y="162.09009" style="fill: #ff0000"/>
     <use href="#mb5f375dd62" x="424.26024" y="167.939478" style="fill: #ff0000"/>
     <use href="#mb5f375dd62" x="426.509472" y="170.460117" style="fill: #ff0000"/>
     <use href="#mb5f375dd62" x="427.409616" y="160.73955" style="fill: #ff0000"/>
     <use href="#mb5f375dd62" x="428.759832" y="163.890072" style="fill: #ff0000"/>
     <use href="#mb5f375dd62" x="429.524616" y="162.568314" style="fill: #ff0000"/>
     <use href="#mb5f375dd62" x="430.290528" y="158.490126" style="fill: #ff0000"/>
     <use href="#mb5f375dd62" x="430.829712" y="170.819892" style="fill: #ff0000"/>
     <use href="#mb5f375dd62" x="431.594496" y="160.560216" style="fill: #ff0000"/>
     <use href="#mb5f375dd62" x="432.360408" y="162.09009" style="fill: #ff0000"/>
     <use href="#mb5f375dd62" x="433.709496" y="165.690054" style="fill: #ff0000"/>
     <use href="#mb5f375dd62" x="434.47428" y="162.680121" style="fill: #ff0000"/>
     <use href="#mb5f375dd62" x="435.240192" y="157.860243" style="fill: #ff0000"/>
     <use href="#mb5f375dd62" x="435.959856" y="169.73946" style="fill: #ff0000"/>
     <use href="#mb5f375dd62" x="436.409928" y="164.339514" style="fill: #ff0000"/>
     <use href="#mb5f375dd62" x="437.310072" y="168.699987" style="fill: #ff0000"/>
     <use href="#mb5f375dd62" x="438.210216" y="170.639451" style="fill: #ff0000"/>
     <use href="#mb5f375dd62" x="439.560432" y="168.390027" style="fill: #ff0000"/>
     <use href="#mb5f375dd62" x="440.325216" y="169.326549" style="fill: #ff0000"/>
     <use href="#mb5f375dd62" x="441.09" y="162.09009" style="fill: #ff0000"/>
     <use href="#mb5f375dd62" x="442.259736" y="172.44054" style="fill: #ff0000"/>
     <use href="#mb5f375dd62" x="443.609952" y="168.390027" style="fill: #ff0000"/>
     <use href="#mb5f375dd62" x="444.960168" y="163.890072" style="fill: #ff0000"/>
     <use href="#mb5f375dd62" x="446.310384" y="162.990081" style="fill: #ff0000"/>
     <use href="#mb5f375dd62" x="447.38988" y="178.919811" style="fill: #ff0000"/>
     <use href="#mb5f375dd62" x="448.290024" y="157.860243" style="fill: #ff0000"/>
     <use href="#mb5f375dd62" x="449.45976" y="161.190099" style="fill: #ff0000"/>
     <use href="#mb5f375dd62" x="450.359904" y="156.239595" style="fill: #ff0000"/>
     <use href="#mb5f375dd62" x="451.71012" y="162.990081" style="fill: #ff0000"/>
     <use href="#mb5f375dd62" x="453.060336" y="167.039487" style="fill: #ff0000"/>
     <use href="#mb5f375dd62" x="454.139832" y="169.290018" style="fill: #ff0000"/>
     <use href="#mb5f375dd62" x="454.859496" y="159.6879" style="fill: #ff0000"/>
     <use href="#mb5f375dd62" x="455.580288" y="160.73955" style="fill: #ff0000"/>
     <use href="#mb5f375dd62" x="456.659784" y="157.860243" style="fill: #ff0000"/>
     <use href="#mb5f375dd62" x="457.425696" y="159.752106" style="fill: #ff0000"/>
     <use href="#mb5f375dd62" x="458.19048" y="176.040504" style="fill: #ff0000"/>
     <use href="#mb5f375dd62" x="458.910144" y="161.190099" style="fill: #ff0000"/>
     <use href="#mb5f375dd62" x="459.810288" y="159.631443" style="fill: #ff0000"/>
     <use href="#mb5f375dd62" x="460.710432" y="161.190099" style="fill: #ff0000"/>
     <use href="#mb5f375dd62" x="462.05952" y="162.539532" style="fill: #ff0000"/>
     <use href="#mb5f375dd62" x="463.409736" y="152.639631" style="fill: #ff0000"/>
     <use href="#mb5f375dd62" x="464.579472" y="170.460117" style="fill: #ff0000"/>
     <use href="#mb5f375dd62" x="465.660096" y="154.439613" style="fill: #ff0000"/>
     <use href="#mb5f375dd62" x="467.010312" y="156.239595" style="fill: #ff0000"/>
     <use href="#mb5f375dd62" x="467.909328" y="156.221883" style="fill: #ff0000"/>
     <use href="#mb5f375dd62" x="468.809472" y="153.539622" style="fill: #ff0000"/>
     <use href="#mb5f375dd62" x="469.709616" y="171.540549" style="fill: #ff0000"/>
     <use href="#mb5f375dd62" x="470.88048" y="158.039577" style="fill: #ff0000"/>
     <use href="#mb5f375dd62" x="471.959976" y="149.939658" style="fill: #ff0000"/>
     <use href="#mb5f375dd62" x="472.67964" y="163.709631" style="fill: #ff0000"/>
     <use href="#mb5f375dd62" x="473.310192" y="175.319847" style="fill: #ff0000"/>
     <use href="#mb5f375dd62" x="474.074976" y="162.703368" style="fill: #ff0000"/>
     <use href="#mb5f375dd62" x="474.83976" y="155.790153" style="fill: #ff0000"/>
     <use href="#mb5f375dd62" x="476.009496" y="166.590045" style="fill: #ff0000"/>
     <use href="#mb5f375dd62" x="476.90964" y="166.400748" style="fill: #ff0000"/>
     <use href="#mb5f375dd62" x="477.809784" y="159.390117" style="fill: #ff0000"/>
     <use href="#mb5f375dd62" x="479.610072" y="161.190099" style="fill: #ff0000"/>
     <use href="#mb5f375dd62" x="480.419976" y="167.507748" style="fill: #ff0000"/>
     <use href="#mb5f375dd62" x="481.22988" y="178.289928" style="fill: #ff0000"/>
     <use href="#mb5f375dd62" x="482.310504" y="164.339514" style="fill: #ff0000"/>
     <use href="#mb5f375dd62" x="483.210648" y="165.343563" style="fill: #ff0000"/>
     <use href="#mb5f375dd62" x="484.109664" y="175.860063" style="fill: #ff0000"/>
     <use href="#mb5f375dd62" x="485.009808" y="169.290018" style="fill: #ff0000"/>
     <use href="#mb5f375dd62" x="485.64036" y="163.439523" style="fill: #ff0000"/>
     <use href="#mb5f375dd62" x="487.079688" y="158.039577" style="fill: #ff0000"/>
     <use href="#mb5f375dd62" x="488.429904" y="173.340531" style="fill: #ff0000"/>
     <use href="#mb5f375dd62" x="489.78012" y="165.690054" style="fill: #ff0000"/>
     <use href="#mb5f375dd62" x="490.859616" y="165.690054" style="fill: #ff0000"/>
     <use href="#mb5f375dd62" x="491.309688" y="176.489946" style="fill: #ff0000"/>
     <use href="#mb5f375dd62" x="492.03048" y="186.840396" style="fill: #ff0000"/>
     <use href="#mb5f375dd62" x="492.795264" y="174.792915" style="fill: #ff0000"/>
     <use href="#mb5f375dd62" x="493.560048" y="172.260099" style="fill: #ff0000"/>
     <use href="#mb5f375dd62" x="494.369952" y="172.70622" style="fill: #ff0000"/>
     <use href="#mb5f375dd62" x="495.179856" y="173.340531" style="fill: #ff0000"/>
     <use href="#mb5f375dd62" x="496.26048" y="178.289928" style="fill: #ff0000"/>
     <use href="#mb5f375dd62" x="497.025264" y="172.712862" style="fill: #ff0000"/>
     <use href="#mb5f375dd62" x="497.790048" y="166.319937" style="fill: #ff0000"/>
     <use href="#mb5f375dd62" x="498.959784" y="176.940495" style="fill: #ff0000"/>
     <use href="#mb5f375dd62" x="500.579592" y="180.989901" style="fill: #ff0000"/>
     <use href="#mb5f375dd62" x="501.479736" y="170.819892" style="fill: #ff0000"/>
     <use href="#mb5f375dd62" x="502.829952" y="165.690054" style="fill: #ff0000"/>
     <use href="#mb5f375dd62" x="503.460504" y="185.219748" style="fill: #ff0000"/>
     <use href="#mb5f375dd62" x="504.809592" y="168.839469" style="fill: #ff0000"/>
     <use href="#mb5f375dd62" x="505.890216" y="178.289928" style="fill: #ff0000"/>
     <use href="#mb5f375dd62" x="507.059952" y="165.690054" style="fill: #ff0000"/>
     <use href="#mb5f375dd62" x="507.960096" y="169.191495" style="fill: #ff0000"/>
     <use href="#mb5f375dd62" x="508.86024" y="168.839469" style="fill: #ff0000"/>
     <use href="#mb5f375dd62" x="510.210456" y="164.790063" style="fill: #ff0000"/>
     <use href="#mb5f375dd62" x="511.109472" y="168.337998" style="fill: #ff0000"/>
     <use href="#mb5f375dd62" x="512.009616" y="169.290018" style="fill: #ff0000"/>
     <use href="#mb5f375dd62" x="513.359832" y="176.040504" style="fill: #ff0000"/>
     <use href="#mb5f375dd62" x="515.16012" y="173.789973" style="fill: #ff0000"/>
     <use href="#mb5f375dd62" x="515.879784" y="161.37054" style="fill: #ff0000"/>
     <use href="#mb5f375dd62" x="517.41048" y="168.390027" style="fill: #ff0000"/>
     <use href="#mb5f375dd62" x="518.580216" y="177.570378" style="fill: #ff0000"/>
     <use href="#mb5f375dd62" x="519.659712" y="172.889982" style="fill: #ff0000"/>
     <use href="#mb5f375dd62" x="520.650096" y="173.073744" style="fill: #ff0000"/>
     <use href="#mb5f375dd62" x="521.64048" y="167.939478" style="fill: #ff0000"/>
     <use href="#mb5f375dd62" x="522.450384" y="169.357545" style="fill: #ff0000"/>
     <use href="#mb5f375dd62" x="523.260288" y="170.639451" style="fill: #ff0000"/>
     <use href="#mb5f375dd62" x="524.070192" y="174.06783" style="fill: #ff0000"/>
     <use href="#mb5f375dd62" x="524.880096" y="170.639451" style="fill: #ff0000"/>
     <use href="#mb5f375dd62" x="525.059448" y="176.040504" style="fill: #ff0000"/>
     <use href="#mb5f375dd62" x="525.78024" y="179.460027" style="fill: #ff0000"/>
     <use href="#mb5f375dd62" x="527.040216" y="163.709631" style="fill: #ff0000"/>
     <use href="#mb5f375dd62" x="528.209952" y="180.989901" style="fill: #ff0000"/>
     <use href="#mb5f375dd62" x="528.840504" y="152.909739" style="fill: #ff0000"/>
     <use href="#mb5f375dd62" x="529.560168" y="171.063432" style="fill: #ff0000"/>
     <use href="#mb5f375dd62" x="530.279832" y="172.44054" style="fill: #ff0000"/>
     <use href="#mb5f375dd62" x="531.044616" y="167.271957" style="fill: #ff0000"/>
     <use href="#mb5f375dd62" x="531.810528" y="168.839469" style="fill: #ff0000"/>
     <use href="#mb5f375dd62" x="533.159616" y="163.890072" style="fill: #ff0000"/>
     <use href="#mb5f375dd62" x="534.509832" y="177.570378" style="fill: #ff0000"/>
     <use href="#mb5f375dd62" x="535.409976" y="165.690054" style="fill: #ff0000"/>
     <use href="#mb5f375dd62" x="536.17476" y="168.858288" style="fill: #ff0000"/>
     <use href="#mb5f375dd62" x="536.939544" y="165.060171" style="fill: #ff0000"/>
     <use href="#mb5f375dd62" x="537.660336" y="180.360018" style="fill: #ff0000"/>
     <use href="#mb5f375dd62" x="539.639976" y="182.340441" style="fill: #ff0000"/>
     <use href="#mb5f375dd62" x="540.35964" y="149.939658" style="fill: #ff0000"/>
     <use href="#mb5f375dd62" x="541.709856" y="162.539532" style="fill: #ff0000"/>
     <use href="#mb5f375dd62" x="543.240552" y="160.290108" style="fill: #ff0000"/>
     <use href="#mb5f375dd62" x="543.779736" y="170.460117" style="fill: #ff0000"/>
     <use href="#mb5f375dd62" x="545.489784" y="173.519865" style="fill: #ff0000"/>
     <use href="#mb5f375dd62" x="546.030096" y="199.800045" style="fill: #ff0000"/>
     <use href="#mb5f375dd62" x="548.009736" y="188.37027" style="fill: #ff0000"/>
     <use href="#mb5f375dd62" x="548.90988" y="165.060171" style="fill: #ff0000"/>
     <use href="#mb5f375dd62" x="549.810024" y="188.189829" style="fill: #ff0000"/>
     <use href="#mb5f375dd62" x="550.260096" y="171.540549" style="fill: #ff0000"/>
     <use href="#mb5f375dd62" x="551.38584" y="169.898868" style="fill: #ff0000"/>
     <use href="#mb5f375dd62" x="552.510456" y="163.709631" style="fill: #ff0000"/>
     <use href="#mb5f375dd62" x="553.409472" y="176.670387" style="fill: #ff0000"/>
     <use href="#mb5f375dd62" x="554.759688" y="162.09009" style="fill: #ff0000"/>
     <use href="#mb5f375dd62" x="556.109904" y="168.839469" style="fill: #ff0000"/>
     <use href="#mb5f375dd62" x="557.010048" y="177.840486" style="fill: #ff0000"/>
     <use href="#mb5f375dd62" x="557.910192" y="196.200081" style="fill: #ff0000"/>
     <use href="#mb5f375dd62" x="558.810336" y="168.839469" style="fill: #ff0000"/>
     <use href="#mb5f375dd62" x="559.709352" y="167.318451" style="fill: #ff0000"/>
     <use href="#mb5f375dd62" x="560.609496" y="168.390027" style="fill: #ff0000"/>
     <use href="#mb5f375dd62" x="561.240048" y="182.519775" style="fill: #ff0000"/>
     <use href="#mb5f375dd62" x="561.959712" y="166.189311" style="fill: #ff0000"/>
     <use href="#mb5f375dd62" x="562.680504" y="170.190009" style="fill: #ff0000"/>
     <use href="#mb5f375dd62" x="563.445288" y="169.690752" style="fill: #ff0000"/>
     <use href="#mb5f375dd62" x="564.210072" y="163.890072" style="fill: #ff0000"/>
     <use href="#mb5f375dd62" x="565.379808" y="158.039577" style="fill: #ff0000"/>
     <use href="#mb5f375dd62" x="566.14572" y="167.667156" style="fill: #ff0000"/>
     <use href="#mb5f375dd62" x="566.910504" y="166.139496" style="fill: #ff0000"/>
     <use href="#mb5f375dd62" x="568.259592" y="164.790063" style="fill: #ff0000"/>
     <use href="#mb5f375dd62" x="568.980384" y="170.819892" style="fill: #ff0000"/>
     <use href="#mb5f375dd62" x="569.745168" y="164.094867" style="fill: #ff0000"/>
     <use href="#mb5f375dd62" x="570.509952" y="161.190099" style="fill: #ff0000"/>
     <use href="#mb5f375dd62" x="571.860168" y="173.789973" style="fill: #ff0000"/>
     <use href="#mb5f375dd62" x="572.624952" y="167.221035" style="fill: #ff0000"/>
     <use href="#mb5f375dd62" x="573.389736" y="164.339514" style="fill: #ff0000"/>
     <use href="#mb5f375dd62" x="574.559472" y="176.489946" style="fill: #ff0000"/>
     <use href="#mb5f375dd62" x="576.180408" y="180.540459" style="fill: #ff0000"/>
     <use href="#mb5f375dd62" x="577.080552" y="155.790153" style="fill: #ff0000"/>
     <use href="#mb5f375dd62" x="577.890456" y="178.470369" style="fill: #ff0000"/>
     <use href="#mb5f375dd62" x="578.70036" y="172.099584" style="fill: #ff0000"/>
     <use href="#mb5f375dd62" x="579.510264" y="171.989991" style="fill: #ff0000"/>
     <use href="#mb5f375dd62" x="580.139688" y="167.939478" style="fill: #ff0000"/>
     <use href="#mb5f375dd62" x="581.310552" y="160.109667" style="fill: #ff0000"/>
     <use href="#mb5f375dd62" x="582.65964" y="175.140513" style="fill: #ff0000"/>
     <use href="#mb5f375dd62" x="583.380432" y="178.289928" style="fill: #ff0000"/>
     <use href="#mb5f375dd62" x="584.009856" y="162.990081" style="fill: #ff0000"/>
     <use href="#mb5f375dd62" x="584.77464" y="166.654251" style="fill: #ff0000"/>
     <use href="#mb5f375dd62" x="585.540552" y="176.940495" style="fill: #ff0000"/>
     <use href="#mb5f375dd62" x="586.260216" y="158.039577" style="fill: #ff0000"/>
     <use href="#mb5f375dd62" x="587.16036" y="151.290198" style="fill: #ff0000"/>
     <use href="#mb5f375dd62" x="587.880024" y="175.589955" style="fill: #ff0000"/>
     <use href="#mb5f375dd62" x="589.23024" y="175.860063" style="fill: #ff0000"/>
     <use href="#mb5f375dd62" x="590.309736" y="167.939478" style="fill: #ff0000"/>
     <use href="#mb5f375dd62" x="591.659952" y="168.390027" style="fill: #ff0000"/>
     <use href="#mb5f375dd62" x="592.829688" y="173.16009" style="fill: #ff0000"/>
     <use href="#mb5f375dd62" x="593.46024" y="158.490126" style="fill: #ff0000"/>
     <use href="#mb5f375dd62" x="594.810456" y="163.890072" style="fill: #ff0000"/>
     <use href="#mb5f375dd62" x="596.159544" y="177.389937" style="fill: #ff0000"/>
     <use href="#mb5f375dd62" x="597.059688" y="163.890072" style="fill: #ff0000"/>
     <use href="#mb5f375dd62" x="598.140312" y="163.890072" style="fill: #ff0000"/>
     <use href="#mb5f375dd62" x="599.310048" y="176.040504" style="fill: #ff0000"/>
     <use href="#mb5f375dd62" x="600.660264" y="180.989901" style="fill: #ff0000"/>
     <use href="#mb5f375dd62" x="601.560408" y="172.889982" style="fill: #ff0000"/>
     <use href="#mb5f375dd62" x="602.280072" y="166.319937" style="fill: #ff0000"/>
     <use href="#mb5f375dd62" x="603.359568" y="173.789973" style="fill: #ff0000"/>
     <use href="#mb5f375dd62" x="604.169472" y="171.994419" style="fill: #ff0000"/>
     <use href="#mb5f375dd62" x="604.980504" y="160.109667" style="fill: #ff0000"/>
     <use href="#mb5f375dd62" x="605.87952" y="178.109487" style="fill: #ff0000"/>
     <use href="#mb5f375dd62" x="606.644304" y="172.13058" style="fill: #ff0000"/>
     <use href="#mb5f375dd62" x="607.410216" y="163.890072" style="fill: #ff0000"/>
     <use href="#mb5f375dd62" x="608.31036" y="165.690054" style="fill: #ff0000"/>
     <use href="#mb5f375dd62" x="608.760432" y="173.789973" style="fill: #ff0000"/>
     <use href="#mb5f375dd62" x="609.525216" y="174.80952" style="fill: #ff0000"/>
     <use href="#mb5f375dd62" x="610.29" y="180.719793" style="fill: #ff0000"/>
     <use href="#mb5f375dd62" x="610.830312" y="189.000153" style="fill: #ff0000"/>
     <use href="#mb5f375dd62" x="611.640216" y="179.37036" style="fill: #ff0000"/>
     <use href="#mb5f375dd62" x="612.809952" y="166.139496" style="fill: #ff0000"/>
     <use href="#mb5f375dd62" x="613.889448" y="162.990081" style="fill: #ff0000"/>
     <use href="#mb5f375dd62" x="614.699352" y="166.764951" style="fill: #ff0000"/>
     <use href="#mb5f375dd62" x="615.510384" y="167.939478" style="fill: #ff0000"/>
     <use href="#mb5f375dd62" x="616.410528" y="169.045371" style="fill: #ff0000"/>
     <use href="#mb5f375dd62" x="617.309544" y="183.059991" style="fill: #ff0000"/>
     <use href="#mb5f375dd62" x="618.030336" y="157.139586" style="fill: #ff0000"/>
     <use href="#mb5f375dd62" x="618.79512" y="169.671933" style="fill: #ff0000"/>
     <use href="#mb5f375dd62" x="619.559904" y="167.490036" style="fill: #ff0000"/>
     <use href="#mb5f375dd62" x="620.460048" y="172.44054" style="fill: #ff0000"/>
     <use href="#mb5f375dd62" x="621.360192" y="172.5291" style="fill: #ff0000"/>
     <use href="#mb5f375dd62" x="622.260336" y="163.439523" style="fill: #ff0000"/>
     <use href="#mb5f375dd62" x="623.610552" y="172.889982" style="fill: #ff0000"/>
     <use href="#mb5f375dd62" x="624.95964" y="167.939478" style="fill: #ff0000"/>
     <use href="#mb5f375dd62" x="625.680432" y="179.640468" style="fill: #ff0000"/>
     <use href="#mb5f375dd62" x="626.579448" y="172.630944" style="fill: #ff0000"/>
     <use href="#mb5f375dd62" x="627.479592" y="167.039487" style="fill: #ff0000"/>
     <use href="#mb5f375dd62" x="628.829808" y="184.589865" style="fill: #ff0000"/>
     <use href="#mb5f375dd62" x="629.910432" y="167.939478" style="fill: #ff0000"/>
     <use href="#mb5f375dd62" x="630.809448" y="174.240522" style="fill: #ff0000"/>
     <use href="#mb5f375dd62" x="631.709592" y="165.690054" style="fill: #ff0000"/>
     <use href="#mb5f375dd62" x="632.430384" y="178.289928" style="fill: #ff0000"/>
     <use href="#mb5f375dd62" x="633.285408" y="173.978163" style="fill: #ff0000"/>
     <use href="#mb5f375dd62" x="634.140432" y="174.689964" style="fill: #ff0000"/>
     <use href="#mb5f375dd62" x="634.950336" y="174.484062" style="fill: #ff0000"/>
     <use href="#mb5f375dd62" x="635.76024" y="173.340531" style="fill: #ff0000"/>
     <use href="#mb5f375dd62" x="636.660384" y="172.67301" style="fill: #ff0000"/>
     <use href="#mb5f375dd62" x="637.560528" y="169.290018" style="fill: #ff0000"/>
     <use href="#mb5f375dd62" x="638.909616" y="178.740477" style="fill: #ff0000"/>
     <use href="#mb5f375dd62" x="639.71952" y="126.81" style="fill: #ff0000"/>
     <use href="#mb5f375dd62" x="640.709904" y="170.639451" style="fill: #ff0000"/>
     <use href="#mb5f375dd62" x="641.87964" y="173.340531" style="fill: #ff0000"/>
     <use href="#mb5f375dd62" x="642.510192" y="167.490036" style="fill: #ff0000"/>
     <use href="#mb5f375dd62" x="643.274976" y="166.691889" style="fill: #ff0000"/>
     <use href="#mb5f375dd62" x="644.03976" y="161.460207" style="fill: #ff0000"/>
    </g>
   </g>
   <g id="patch_18">
    <path d="M 377.64 226.44 
L 377.64 137.88 
" style="fill: none; stroke: #000000; stroke-width: 0.8; stroke-linejoin: miter; stroke-linecap: square"/>
   </g>
   <g id="patch_19">
    <path d="M 648.36 226.44 
L 648.36 137.88 
" style="fill: none; stroke: #000000; stroke-width: 0.8; stroke-linejoin: miter; stroke-linecap: square"/>
   </g>
   <g id="patch_20">
    <path d="M 377.64 226.44 
L 648.36 226.44 
" style="fill: none; stroke: #000000; stroke-width: 0.8; stroke-linejoin: miter; stroke-linecap: square"/>
   </g>
   <g id="patch_21">
    <path d="M 377.64 137.88 
L 648.36 137.88 
" style="fill: none; stroke: #000000; stroke-width: 0.8; stroke-linejoin: miter; stroke-linecap: square"/>
   </g>
   <g id="text_15">
    <text x="391.176" y="212.979" font-size="11" font-weight="bold" font-style="italic" fill="#000000" font-family="&quot;Liberation Sans&quot;, sans-serif">AORWDAY4</text>
   </g>
  </g>
  <g id="axes_5">
   <g id="patch_22">
    <path d="M 90.36 320.76 
L 361.08 320.76 
L 361.08 232.2 
L 90.36 232.2 
z
" style="fill: #ffffff"/>
   </g>
   <g id="matplotlib.axis_9">
    <g id="xtick_21">
     <g id="line2d_49">
      <g>
       <use href="#m1504cfccaf" x="90.360" y="320.760" style="stroke: #000000; stroke-width: 0.8"/>
      </g>
     </g>
     <g id="text_16">
      <text x="90.36" y="334.6" font-size="9" text-anchor="middle" fill="#000000" font-family="&quot;Liberation Sans&quot;, sans-serif">2000</text>
     </g>
    </g>
    <g id="xtick_22">
     <g id="line2d_50">
      <g>
       <use href="#m1504cfccaf" x="146.520" y="320.760" style="stroke: #000000; stroke-width: 0.8"/>
      </g>
     </g>
     <g id="text_17">
      <text x="146.76" y="334.6" font-size="9" text-anchor="middle" fill="#000000" font-family="&quot;Liberation Sans&quot;, sans-serif">2005</text>
     </g>
    </g>
    <g id="xtick_23">
     <g id="line2d_51">
      <g>
       <use href="#m1504cfccaf" x="203.400" y="320.760" style="stroke: #000000; stroke-width: 0.8"/>
      </g>
     </g>
     <g id="text_18">
      <text x="203.16" y="334.6" font-size="9" text-anchor="middle" fill="#000000" font-family="&quot;Liberation Sans&quot;, sans-serif">2010</text>
     </g>
    </g>
    <g id="xtick_24">
     <g id="line2d_52">
      <g>
       <use href="#m1504cfccaf" x="259.560" y="320.760" style="stroke: #000000; stroke-width: 0.8"/>
      </g>
     </g>
     <g id="text_19">
      <text x="259.56" y="334.6" font-size="9" text-anchor="middle" fill="#000000" font-family="&quot;Liberation Sans&quot;, sans-serif">2015</text>
     </g>
    </g>
    <g id="xtick_25">
     <g id="line2d_53">
      <g>
       <use href="#m1504cfccaf" x="315.720" y="320.760" style="stroke: #000000; stroke-width: 0.8"/>
      </g>
     </g>
     <g id="text_20">
      <text x="315.96" y="334.6" font-size="9" text-anchor="middle" fill="#000000" font-family="&quot;Liberation Sans&quot;, sans-serif">2020</text>
     </g>
    </g>
    <g id="text_21">
     <text x="225.72" y="347.71" font-size="9" text-anchor="middle" fill="#000000" font-family="&quot;Liberation Sans&quot;, sans-serif">Time (year)</text>
    </g>
   </g>
   <g id="matplotlib.axis_10">
    <g id="ytick_21">
     <g id="line2d_54">
      <g>
       <use href="#m5d545ce8f8" x="90.360" y="320.760" style="stroke: #000000; stroke-width: 0.8"/>
      </g>
     </g>
     <g id="text_22">
      <text x="83.36" y="324.18" font-size="9" text-anchor="end" fill="#000000" font-family="&quot;Liberation Sans&quot;, sans-serif">4</text>
     </g>
    </g>
    <g id="ytick_22">
     <g id="line2d_55">
      <g>
       <use href="#m5d545ce8f8" x="90.360" y="298.440" style="stroke: #000000; stroke-width: 0.8"/>
      </g>
     </g>
     <g id="text_23">
      <text x="83.36" y="302.04" font-size="9" text-anchor="end" fill="#000000" font-family="&quot;Liberation Sans&quot;, sans-serif">6</text>
     </g>
    </g>
    <g id="ytick_23">
     <g id="line2d_56">
      <g>
       <use href="#m5d545ce8f8" x="90.360" y="276.840" style="stroke: #000000; stroke-width: 0.8"/>
      </g>
     </g>
     <g id="text_24">
      <text x="83.36" y="279.9" font-size="9" text-anchor="end" fill="#000000" font-family="&quot;Liberation Sans&quot;, sans-serif">8</text>
     </g>
    </g>
    <g id="ytick_24">
     <g id="line2d_57">
      <g>
       <use href="#m5d545ce8f8" x="90.360" y="254.520" style="stroke: #000000; stroke-width: 0.8"/>
      </g>
     </g>
     <g id="text_25">
      <text x="83.36" y="257.76" font-size="9" text-anchor="end" fill="#000000" font-family="&quot;Liberation Sans&quot;, sans-serif">10</text>
     </g>
    </g>
    <g id="ytick_25">
     <g id="line2d_58">
      <g>
       <use href="#m5d545ce8f8" x="90.360" y="232.200" style="stroke: #000000; stroke-width: 0.8"/>
      </g>
     </g>
     <g id="text_26">
      <text x="83.36" y="235.62" font-size="9" text-anchor="end" fill="#000000" font-family="&quot;Liberation Sans&quot;, sans-serif">12</text>
     </g>
    </g>
   </g>
   <g id="line2d_59">
    <g clip-path="url(#pf935e6dfce)">
     <use href="#mb5f375dd62" x="352.43952" y="232.6428" style="fill: #ff0000"/>
    </g>
   </g>
   <g id="line2d_60">
    <path d="M 91.260144 270.360504 
L 92.160288 269.547966 
L 93.060432 265.229559 
L 93.780096 276.839775 
L 94.859592 270.360504 
L 96.030456 273.060477 
L 97.379544 269.460513 
L 98.144328 269.091882 
L 98.91024 273.960468 
L 99.629904 266.309991 
L 100.530048 270.360504 
L 101.699784 263.610018 
L 102.95976 276.390333 
L 103.859904 274.573746 
L 104.760048 263.610018 
L 105.479712 280.439739 
L 106.829928 276.660441 
L 108.180144 273.960468 
L 109.53036 271.709937 
L 110.879448 262.529586 
L 111.779592 258.48018 
L 112.860216 264.959451 
L 113.76036 277.379991 
L 114.570264 263.573487 
L 115.380168 262.710027 
L 116.280312 273.060477 
L 117.630528 280.260405 
L 118.259952 256.590531 
L 119.429688 273.060477 
L 121.229976 269.460513 
L 122.13012 276.660441 
L 123.480336 281.879946 
L 124.830552 273.060477 
L 126.17964 291.960288 
L 127.079784 262.890468 
L 128.43 273.060477 
L 129.330144 276.660441 
L 130.49988 268.829523 
L 131.130432 287.009784 
L 132.75024 285.390243 
L 133.379664 275.76045 
L 134.279808 284.039703 
L 135.630024 265.229559 
L 136.98024 281.160396 
L 137.790144 270.984852 
L 138.600048 270.360504 
L 139.364832 272.835756 
L 140.129616 269.460513 
L 141.479832 273.060477 
L 142.244616 271.716579 
L 143.010528 266.76054 
L 143.549712 276.839775 
L 144.314496 273.522096 
L 146.609976 261.629595 
L 147.779712 273.060477 
L 148.500504 278.460423 
L 150.030072 273.060477 
L 151.380288 266.580099 
L 152.280432 275.76045 
L 153.359928 262.259478 
L 154.529664 262.259478 
L 155.87988 274.860459 
L 156.599544 270.360504 
L 157.364328 270.59076 
L 158.13024 269.460513 
L 159.030384 270.149067 
L 159.9294 271.173042 
L 160.829544 270.809946 
L 161.550336 279.630522 
L 163.079904 274.860459 
L 164.43012 267.48009 
L 166.5 276.120225 
L 167.400144 268.109973 
L 168.47964 269.460513 
L 169.245552 266.35095 
L 170.010336 265.229559 
L 170.91048 280.260405 
L 172.080216 267.660531 
L 172.89012 270.171207 
L 173.700024 263.610018 
L 174.464808 265.636935 
L 175.229592 271.709937 
L 176.129736 267.209982 
L 177.02988 266.319954 
L 177.930024 268.560522 
L 179.00952 265.41 
L 180.359736 265.229559 
L 181.529472 269.460513 
L 182.429616 279.630522 
L 183.60048 274.860459 
L 184.860456 270.360504 
L 186.030192 272.160486 
L 187.380408 269.909955 
L 188.729496 275.309901 
L 189.62964 266.580099 
L 190.979856 276.660441 
L 191.78976 277.062282 
L 192.599664 270.809946 
L 194.580432 284.130477 
L 195.479448 273.32505 
L 196.379592 273.960468 
L 197.729808 271.709937 
L 198.36036 276.839775 
L 199.080024 272.02986 
L 199.799688 263.610018 
L 201.149904 266.580099 
L 202.230528 270.360504 
L 203.579616 266.309991 
L 204.75048 275.939784 
L 205.515264 269.567892 
L 206.280048 261.359487 
L 207.359544 265.41 
L 208.98048 270.360504 
L 210.510048 272.609928 
L 211.229712 265.860549 
L 212.579928 262.259478 
L 214.199736 267.209982 
L 215.549952 272.880036 
L 216.180504 280.260405 
L 217.529592 273.509919 
L 218.429736 284.579919 
L 219.779952 270.809946 
L 220.680096 272.294433 
L 221.58024 269.909955 
L 222.930456 268.560522 
L 223.829472 270.815481 
L 224.729616 271.260495 
L 225.540648 269.210331 
L 226.350552 264.510009 
L 227.115336 268.15536 
L 227.88012 272.609928 
L 229.230336 268.109973 
L 231.029496 268.560522 
L 232.11012 258.659514 
L 233.549448 262.710027 
L 234.36048 255.05955 
L 235.20084 261.537714 
L 236.040072 262.072395 
L 236.880432 264.959451 
L 237.959928 270.180063 
L 238.50024 282.960378 
L 239.265024 269.598888 
L 240.029808 262.710027 
L 241.380024 271.709937 
L 242.73024 266.309991 
L 243.630384 265.391181 
L 244.530528 268.109973 
L 245.879616 271.080054 
L 246.600408 259.559505 
L 247.500552 264.959451 
L 248.129976 269.460513 
L 248.760528 277.109883 
L 250.109616 279.809856 
L 251.00976 256.680198 
L 252.359976 257.310081 
L 253.07964 269.460513 
L 253.800432 275.939784 
L 255.14952 259.380171 
L 255.960552 281.879946 
L 256.680216 269.009964 
L 257.49012 269.954235 
L 258.300024 262.259478 
L 258.750096 255.05955 
L 260.010072 266.039883 
L 260.819976 267.591897 
L 261.62988 270.180063 
L 262.530024 275.039793 
L 263.159448 281.160396 
L 264.599904 276.839775 
L 265.230456 265.860549 
L 266.579544 264.239901 
L 267.479688 265.292658 
L 268.379832 259.559505 
L 269.730048 262.710027 
L 271.080264 258.659514 
L 271.530336 268.109973 
L 272.880552 270.809946 
L 274.22964 273.960468 
L 275.400504 267.660531 
L 276.165288 266.863491 
L 276.930072 273.960468 
L 278.280288 267.660531 
L 279.630504 263.610018 
L 280.979592 270.360504 
L 281.700384 276.839775 
L 282.465168 272.28447 
L 283.229952 270.360504 
L 284.580168 282.960378 
L 285.930384 271.709937 
L 287.279472 269.460513 
L 288.090504 270.171207 
L 288.900408 265.229559 
L 290.429976 255.05955 
L 291.780192 265.860549 
L 292.680336 268.45425 
L 293.58048 269.909955 
L 294.479496 264.672738 
L 295.37964 265.860549 
L 296.279784 272.160486 
L 297.360408 270.360504 
L 298.260552 259.559505 
L 299.60964 275.939784 
L 300.780504 272.160486 
L 301.95024 260.010054 
L 302.760144 281.879946 
L 304.199472 281.879946 
L 304.830024 267.209982 
L 305.730168 262.259478 
L 307.800048 284.039703 
L 308.879544 263.610018 
L 309.690576 264.831039 
L 310.50048 266.309991 
L 312.030048 261.359487 
L 313.380264 264.05946 
L 314.099928 280.260405 
L 315.180552 272.609928 
L 316.52964 275.039793 
L 316.979712 260.459496 
L 318.59952 270.809946 
L 319.364304 274.039065 
L 320.130216 268.380081 
L 321.299952 285.209802 
L 322.154976 269.117343 
L 323.01 261.629595 
L 324.360216 257.759523 
L 325.529952 272.160486 
L 326.880168 273.960468 
L 327.780312 273.060477 
L 329.130528 264.959451 
L 330.479616 273.060477 
L 331.37976 273.28077 
L 332.279904 273.060477 
L 332.999568 263.33991 
L 333.63012 277.560432 
L 334.980336 269.460513 
L 335.88048 262.710027 
L 337.229568 273.060477 
L 338.579784 265.860549 
L 339.479928 268.31034 
L 340.380072 266.309991 
L 341.549808 277.560432 
L 342.18036 262.259478 
L 343.529448 265.41 
L 344.339352 268.417719 
L 345.150384 270.360504 
L 347.310504 261.629595 
L 348.030168 275.039793 
L 350.009808 277.379991 
L 350.7306 270.332829 
L 351.450264 272.160486 
L 352.43952 221.13 
L 353.250552 271.260495 
L 353.879976 264.510009 
L 355.230192 271.709937 
L 355.994976 270.323973 
L 356.75976 278.009874 
L 356.75976 278.009874 
" clip-path="url(#pf935e6dfce)" style="fill: none; stroke: #ff0000; stroke-linecap: square"/>
    <g clip-path="url(#pf935e6dfce)">
     <use href="#mb5f375dd62" x="91.260144" y="270.360504" style="fill: #ff0000"/>
     <use href="#mb5f375dd62" x="92.160288" y="269.547966" style="fill: #ff0000"/>
     <use href="#mb5f375dd62" x="93.060432" y="265.229559" style="fill: #ff0000"/>
     <use href="#mb5f375dd62" x="93.780096" y="276.839775" style="fill: #ff0000"/>
     <use href="#mb5f375dd62" x="94.859592" y="270.360504" style="fill: #ff0000"/>
     <use href="#mb5f375dd62" x="96.030456" y="273.060477" style="fill: #ff0000"/>
     <use href="#mb5f375dd62" x="97.379544" y="269.460513" style="fill: #ff0000"/>
     <use href="#mb5f375dd62" x="98.144328" y="269.091882" style="fill: #ff0000"/>
     <use href="#mb5f375dd62" x="98.91024" y="273.960468" style="fill: #ff0000"/>
     <use href="#mb5f375dd62" x="99.629904" y="266.309991" style="fill: #ff0000"/>
     <use href="#mb5f375dd62" x="100.530048" y="270.360504" style="fill: #ff0000"/>
     <use href="#mb5f375dd62" x="101.699784" y="263.610018" style="fill: #ff0000"/>
     <use href="#mb5f375dd62" x="102.95976" y="276.390333" style="fill: #ff0000"/>
     <use href="#mb5f375dd62" x="103.859904" y="274.573746" style="fill: #ff0000"/>
     <use href="#mb5f375dd62" x="104.760048" y="263.610018" style="fill: #ff0000"/>
     <use href="#mb5f375dd62" x="105.479712" y="280.439739" style="fill: #ff0000"/>
     <use href="#mb5f375dd62" x="106.829928" y="276.660441" style="fill: #ff0000"/>
     <use href="#mb5f375dd62" x="108.180144" y="273.960468" style="fill: #ff0000"/>
     <use href="#mb5f375dd62" x="109.53036" y="271.709937" style="fill: #ff0000"/>
     <use href="#mb5f375dd62" x="110.879448" y="262.529586" style="fill: #ff0000"/>
     <use href="#mb5f375dd62" x="111.779592" y="258.48018" style="fill: #ff0000"/>
     <use href="#mb5f375dd62" x="112.860216" y="264.959451" style="fill: #ff0000"/>
     <use href="#mb5f375dd62" x="113.76036" y="277.379991" style="fill: #ff0000"/>
     <use href="#mb5f375dd62" x="114.570264" y="263.573487" style="fill: #ff0000"/>
     <use href="#mb5f375dd62" x="115.380168" y="262.710027" style="fill: #ff0000"/>
     <use href="#mb5f375dd62" x="116.280312" y="273.060477" style="fill: #ff0000"/>
     <use href="#mb5f375dd62" x="117.630528" y="280.260405" style="fill: #ff0000"/>
     <use href="#mb5f375dd62" x="118.259952" y="256.590531" style="fill: #ff0000"/>
     <use href="#mb5f375dd62" x="119.429688" y="273.060477" style="fill: #ff0000"/>
     <use href="#mb5f375dd62" x="120.329832" y="271.346841" style="fill: #ff0000"/>
     <use href="#mb5f375dd62" x="121.229976" y="269.460513" style="fill: #ff0000"/>
     <use href="#mb5f375dd62" x="122.13012" y="276.660441" style="fill: #ff0000"/>
     <use href="#mb5f375dd62" x="123.480336" y="281.879946" style="fill: #ff0000"/>
     <use href="#mb5f375dd62" x="124.830552" y="273.060477" style="fill: #ff0000"/>
     <use href="#mb5f375dd62" x="126.17964" y="291.960288" style="fill: #ff0000"/>
     <use href="#mb5f375dd62" x="127.079784" y="262.890468" style="fill: #ff0000"/>
     <use href="#mb5f375dd62" x="128.43" y="273.060477" style="fill: #ff0000"/>
     <use href="#mb5f375dd62" x="129.330144" y="276.660441" style="fill: #ff0000"/>
     <use href="#mb5f375dd62" x="130.49988" y="268.829523" style="fill: #ff0000"/>
     <use href="#mb5f375dd62" x="131.130432" y="287.009784" style="fill: #ff0000"/>
     <use href="#mb5f375dd62" x="132.75024" y="285.390243" style="fill: #ff0000"/>
     <use href="#mb5f375dd62" x="133.379664" y="275.76045" style="fill: #ff0000"/>
     <use href="#mb5f375dd62" x="134.279808" y="284.039703" style="fill: #ff0000"/>
     <use href="#mb5f375dd62" x="135.630024" y="265.229559" style="fill: #ff0000"/>
     <use href="#mb5f375dd62" x="136.98024" y="281.160396" style="fill: #ff0000"/>
     <use href="#mb5f375dd62" x="137.790144" y="270.984852" style="fill: #ff0000"/>
     <use href="#mb5f375dd62" x="138.600048" y="270.360504" style="fill: #ff0000"/>
     <use href="#mb5f375dd62" x="139.364832" y="272.835756" style="fill: #ff0000"/>
     <use href="#mb5f375dd62" x="140.129616" y="269.460513" style="fill: #ff0000"/>
     <use href="#mb5f375dd62" x="141.479832" y="273.060477" style="fill: #ff0000"/>
     <use href="#mb5f375dd62" x="142.244616" y="271.716579" style="fill: #ff0000"/>
     <use href="#mb5f375dd62" x="143.010528" y="266.76054" style="fill: #ff0000"/>
     <use href="#mb5f375dd62" x="143.549712" y="276.839775" style="fill: #ff0000"/>
     <use href="#mb5f375dd62" x="144.314496" y="273.522096" style="fill: #ff0000"/>
     <use href="#mb5f375dd62" x="145.080408" y="269.460513" style="fill: #ff0000"/>
     <use href="#mb5f375dd62" x="146.609976" y="261.629595" style="fill: #ff0000"/>
     <use href="#mb5f375dd62" x="147.779712" y="273.060477" style="fill: #ff0000"/>
     <use href="#mb5f375dd62" x="148.500504" y="278.460423" style="fill: #ff0000"/>
     <use href="#mb5f375dd62" x="150.030072" y="273.060477" style="fill: #ff0000"/>
     <use href="#mb5f375dd62" x="151.380288" y="266.580099" style="fill: #ff0000"/>
     <use href="#mb5f375dd62" x="152.280432" y="275.76045" style="fill: #ff0000"/>
     <use href="#mb5f375dd62" x="153.359928" y="262.259478" style="fill: #ff0000"/>
     <use href="#mb5f375dd62" x="154.529664" y="262.259478" style="fill: #ff0000"/>
     <use href="#mb5f375dd62" x="155.87988" y="274.860459" style="fill: #ff0000"/>
     <use href="#mb5f375dd62" x="156.599544" y="270.360504" style="fill: #ff0000"/>
     <use href="#mb5f375dd62" x="157.364328" y="270.59076" style="fill: #ff0000"/>
     <use href="#mb5f375dd62" x="158.13024" y="269.460513" style="fill: #ff0000"/>
     <use href="#mb5f375dd62" x="159.030384" y="270.149067" style="fill: #ff0000"/>
     <use href="#mb5f375dd62" x="159.9294" y="271.173042" style="fill: #ff0000"/>
     <use href="#mb5f375dd62" x="160.829544" y="270.809946" style="fill: #ff0000"/>
     <use href="#mb5f375dd62" x="161.550336" y="279.630522" style="fill: #ff0000"/>
     <use href="#mb5f375dd62" x="163.079904" y="274.860459" style="fill: #ff0000"/>
     <use href="#mb5f375dd62" x="164.43012" y="267.48009" style="fill: #ff0000"/>
     <use href="#mb5f375dd62" x="165.330264" y="271.260495" style="fill: #ff0000"/>
     <use href="#mb5f375dd62" x="166.5" y="276.120225" style="fill: #ff0000"/>
     <use href="#mb5f375dd62" x="167.400144" y="268.109973" style="fill: #ff0000"/>
     <use href="#mb5f375dd62" x="168.47964" y="269.460513" style="fill: #ff0000"/>
     <use href="#mb5f375dd62" x="169.245552" y="266.35095" style="fill: #ff0000"/>
     <use href="#mb5f375dd62" x="170.010336" y="265.229559" style="fill: #ff0000"/>
     <use href="#mb5f375dd62" x="170.91048" y="280.260405" style="fill: #ff0000"/>
     <use href="#mb5f375dd62" x="172.080216" y="267.660531" style="fill: #ff0000"/>
     <use href="#mb5f375dd62" x="172.89012" y="270.171207" style="fill: #ff0000"/>
     <use href="#mb5f375dd62" x="173.700024" y="263.610018" style="fill: #ff0000"/>
     <use href="#mb5f375dd62" x="174.464808" y="265.636935" style="fill: #ff0000"/>
     <use href="#mb5f375dd62" x="175.229592" y="271.709937" style="fill: #ff0000"/>
     <use href="#mb5f375dd62" x="176.129736" y="267.209982" style="fill: #ff0000"/>
     <use href="#mb5f375dd62" x="177.02988" y="266.319954" style="fill: #ff0000"/>
     <use href="#mb5f375dd62" x="177.930024" y="268.560522" style="fill: #ff0000"/>
     <use href="#mb5f375dd62" x="179.00952" y="265.41" style="fill: #ff0000"/>
     <use href="#mb5f375dd62" x="180.359736" y="265.229559" style="fill: #ff0000"/>
     <use href="#mb5f375dd62" x="181.529472" y="269.460513" style="fill: #ff0000"/>
     <use href="#mb5f375dd62" x="182.429616" y="279.630522" style="fill: #ff0000"/>
     <use href="#mb5f375dd62" x="183.60048" y="274.860459" style="fill: #ff0000"/>
     <use href="#mb5f375dd62" x="184.860456" y="270.360504" style="fill: #ff0000"/>
     <use href="#mb5f375dd62" x="186.030192" y="272.160486" style="fill: #ff0000"/>
     <use href="#mb5f375dd62" x="187.380408" y="269.909955" style="fill: #ff0000"/>
     <use href="#mb5f375dd62" x="188.729496" y="275.309901" style="fill: #ff0000"/>
     <use href="#mb5f375dd62" x="189.62964" y="266.580099" style="fill: #ff0000"/>
     <use href="#mb5f375dd62" x="190.979856" y="276.660441" style="fill: #ff0000"/>
     <use href="#mb5f375dd62" x="191.78976" y="277.062282" style="fill: #ff0000"/>
     <use href="#mb5f375dd62" x="192.599664" y="270.809946" style="fill: #ff0000"/>
     <use href="#mb5f375dd62" x="193.680288" y="278.460423" style="fill: #ff0000"/>
     <use href="#mb5f375dd62" x="194.580432" y="284.130477" style="fill: #ff0000"/>
     <use href="#mb5f375dd62" x="195.479448" y="273.32505" style="fill: #ff0000"/>
     <use href="#mb5f375dd62" x="196.379592" y="273.960468" style="fill: #ff0000"/>
     <use href="#mb5f375dd62" x="197.729808" y="271.709937" style="fill: #ff0000"/>
     <use href="#mb5f375dd62" x="198.36036" y="276.839775" style="fill: #ff0000"/>
     <use href="#mb5f375dd62" x="199.080024" y="272.02986" style="fill: #ff0000"/>
     <use href="#mb5f375dd62" x="199.799688" y="263.610018" style="fill: #ff0000"/>
     <use href="#mb5f375dd62" x="201.149904" y="266.580099" style="fill: #ff0000"/>
     <use href="#mb5f375dd62" x="202.230528" y="270.360504" style="fill: #ff0000"/>
     <use href="#mb5f375dd62" x="203.579616" y="266.309991" style="fill: #ff0000"/>
     <use href="#mb5f375dd62" x="204.75048" y="275.939784" style="fill: #ff0000"/>
     <use href="#mb5f375dd62" x="205.515264" y="269.567892" style="fill: #ff0000"/>
     <use href="#mb5f375dd62" x="206.280048" y="261.359487" style="fill: #ff0000"/>
     <use href="#mb5f375dd62" x="207.359544" y="265.41" style="fill: #ff0000"/>
     <use href="#mb5f375dd62" x="208.170576" y="267.869754" style="fill: #ff0000"/>
     <use href="#mb5f375dd62" x="208.98048" y="270.360504" style="fill: #ff0000"/>
     <use href="#mb5f375dd62" x="210.510048" y="272.609928" style="fill: #ff0000"/>
     <use href="#mb5f375dd62" x="211.229712" y="265.860549" style="fill: #ff0000"/>
     <use href="#mb5f375dd62" x="212.579928" y="262.259478" style="fill: #ff0000"/>
     <use href="#mb5f375dd62" x="214.199736" y="267.209982" style="fill: #ff0000"/>
     <use href="#mb5f375dd62" x="215.549952" y="272.880036" style="fill: #ff0000"/>
     <use href="#mb5f375dd62" x="216.180504" y="280.260405" style="fill: #ff0000"/>
     <use href="#mb5f375dd62" x="217.529592" y="273.509919" style="fill: #ff0000"/>
     <use href="#mb5f375dd62" x="218.429736" y="284.579919" style="fill: #ff0000"/>
     <use href="#mb5f375dd62" x="219.779952" y="270.809946" style="fill: #ff0000"/>
     <use href="#mb5f375dd62" x="220.680096" y="272.294433" style="fill: #ff0000"/>
     <use href="#mb5f375dd62" x="221.58024" y="269.909955" style="fill: #ff0000"/>
     <use href="#mb5f375dd62" x="222.930456" y="268.560522" style="fill: #ff0000"/>
     <use href="#mb5f375dd62" x="223.829472" y="270.815481" style="fill: #ff0000"/>
     <use href="#mb5f375dd62" x="224.729616" y="271.260495" style="fill: #ff0000"/>
     <use href="#mb5f375dd62" x="225.540648" y="269.210331" style="fill: #ff0000"/>
     <use href="#mb5f375dd62" x="226.350552" y="264.510009" style="fill: #ff0000"/>
     <use href="#mb5f375dd62" x="227.115336" y="268.15536" style="fill: #ff0000"/>
     <use href="#mb5f375dd62" x="227.88012" y="272.609928" style="fill: #ff0000"/>
     <use href="#mb5f375dd62" x="229.230336" y="268.109973" style="fill: #ff0000"/>
     <use href="#mb5f375dd62" x="231.029496" y="268.560522" style="fill: #ff0000"/>
     <use href="#mb5f375dd62" x="232.11012" y="258.659514" style="fill: #ff0000"/>
     <use href="#mb5f375dd62" x="233.549448" y="262.710027" style="fill: #ff0000"/>
     <use href="#mb5f375dd62" x="234.36048" y="255.05955" style="fill: #ff0000"/>
     <use href="#mb5f375dd62" x="235.20084" y="261.537714" style="fill: #ff0000"/>
     <use href="#mb5f375dd62" x="236.040072" y="262.072395" style="fill: #ff0000"/>
     <use href="#mb5f375dd62" x="236.880432" y="264.959451" style="fill: #ff0000"/>
     <use href="#mb5f375dd62" x="237.959928" y="270.180063" style="fill: #ff0000"/>
     <use href="#mb5f375dd62" x="238.50024" y="282.960378" style="fill: #ff0000"/>
     <use href="#mb5f375dd62" x="239.265024" y="269.598888" style="fill: #ff0000"/>
     <use href="#mb5f375dd62" x="240.029808" y="262.710027" style="fill: #ff0000"/>
     <use href="#mb5f375dd62" x="241.380024" y="271.709937" style="fill: #ff0000"/>
     <use href="#mb5f375dd62" x="242.73024" y="266.309991" style="fill: #ff0000"/>
     <use href="#mb5f375dd62" x="243.630384" y="265.391181" style="fill: #ff0000"/>
     <use href="#mb5f375dd62" x="244.530528" y="268.109973" style="fill: #ff0000"/>
     <use href="#mb5f375dd62" x="245.879616" y="271.080054" style="fill: #ff0000"/>
     <use href="#mb5f375dd62" x="246.600408" y="259.559505" style="fill: #ff0000"/>
     <use href="#mb5f375dd62" x="247.500552" y="264.959451" style="fill: #ff0000"/>
     <use href="#mb5f375dd62" x="248.129976" y="269.460513" style="fill: #ff0000"/>
     <use href="#mb5f375dd62" x="248.760528" y="277.109883" style="fill: #ff0000"/>
     <use href="#mb5f375dd62" x="250.109616" y="279.809856" style="fill: #ff0000"/>
     <use href="#mb5f375dd62" x="251.00976" y="256.680198" style="fill: #ff0000"/>
     <use href="#mb5f375dd62" x="252.359976" y="257.310081" style="fill: #ff0000"/>
     <use href="#mb5f375dd62" x="253.07964" y="269.460513" style="fill: #ff0000"/>
     <use href="#mb5f375dd62" x="253.800432" y="275.939784" style="fill: #ff0000"/>
     <use href="#mb5f375dd62" x="255.14952" y="259.380171" style="fill: #ff0000"/>
     <use href="#mb5f375dd62" x="255.960552" y="281.879946" style="fill: #ff0000"/>
     <use href="#mb5f375dd62" x="256.680216" y="269.009964" style="fill: #ff0000"/>
     <use href="#mb5f375dd62" x="257.49012" y="269.954235" style="fill: #ff0000"/>
     <use href="#mb5f375dd62" x="258.300024" y="262.259478" style="fill: #ff0000"/>
     <use href="#mb5f375dd62" x="258.750096" y="255.05955" style="fill: #ff0000"/>
     <use href="#mb5f375dd62" x="260.010072" y="266.039883" style="fill: #ff0000"/>
     <use href="#mb5f375dd62" x="260.819976" y="267.591897" style="fill: #ff0000"/>
     <use href="#mb5f375dd62" x="261.62988" y="270.180063" style="fill: #ff0000"/>
     <use href="#mb5f375dd62" x="262.530024" y="275.039793" style="fill: #ff0000"/>
     <use href="#mb5f375dd62" x="263.159448" y="281.160396" style="fill: #ff0000"/>
     <use href="#mb5f375dd62" x="264.599904" y="276.839775" style="fill: #ff0000"/>
     <use href="#mb5f375dd62" x="265.230456" y="265.860549" style="fill: #ff0000"/>
     <use href="#mb5f375dd62" x="266.579544" y="264.239901" style="fill: #ff0000"/>
     <use href="#mb5f375dd62" x="267.479688" y="265.292658" style="fill: #ff0000"/>
     <use href="#mb5f375dd62" x="268.379832" y="259.559505" style="fill: #ff0000"/>
     <use href="#mb5f375dd62" x="269.730048" y="262.710027" style="fill: #ff0000"/>
     <use href="#mb5f375dd62" x="271.080264" y="258.659514" style="fill: #ff0000"/>
     <use href="#mb5f375dd62" x="271.530336" y="268.109973" style="fill: #ff0000"/>
     <use href="#mb5f375dd62" x="272.880552" y="270.809946" style="fill: #ff0000"/>
     <use href="#mb5f375dd62" x="274.22964" y="273.960468" style="fill: #ff0000"/>
     <use href="#mb5f375dd62" x="275.400504" y="267.660531" style="fill: #ff0000"/>
     <use href="#mb5f375dd62" x="276.165288" y="266.863491" style="fill: #ff0000"/>
     <use href="#mb5f375dd62" x="276.930072" y="273.960468" style="fill: #ff0000"/>
     <use href="#mb5f375dd62" x="278.280288" y="267.660531" style="fill: #ff0000"/>
     <use href="#mb5f375dd62" x="279.630504" y="263.610018" style="fill: #ff0000"/>
     <use href="#mb5f375dd62" x="280.979592" y="270.360504" style="fill: #ff0000"/>
     <use href="#mb5f375dd62" x="281.700384" y="276.839775" style="fill: #ff0000"/>
     <use href="#mb5f375dd62" x="282.465168" y="272.28447" style="fill: #ff0000"/>
     <use href="#mb5f375dd62" x="283.229952" y="270.360504" style="fill: #ff0000"/>
     <use href="#mb5f375dd62" x="284.580168" y="282.960378" style="fill: #ff0000"/>
     <use href="#mb5f375dd62" x="285.930384" y="271.709937" style="fill: #ff0000"/>
     <use href="#mb5f375dd62" x="287.279472" y="269.460513" style="fill: #ff0000"/>
     <use href="#mb5f375dd62" x="288.090504" y="270.171207" style="fill: #ff0000"/>
     <use href="#mb5f375dd62" x="288.900408" y="265.229559" style="fill: #ff0000"/>
     <use href="#mb5f375dd62" x="290.429976" y="255.05955" style="fill: #ff0000"/>
     <use href="#mb5f375dd62" x="291.780192" y="265.860549" style="fill: #ff0000"/>
     <use href="#mb5f375dd62" x="292.680336" y="268.45425" style="fill: #ff0000"/>
     <use href="#mb5f375dd62" x="293.58048" y="269.909955" style="fill: #ff0000"/>
     <use href="#mb5f375dd62" x="294.479496" y="264.672738" style="fill: #ff0000"/>
     <use href="#mb5f375dd62" x="295.37964" y="265.860549" style="fill: #ff0000"/>
     <use href="#mb5f375dd62" x="296.279784" y="272.160486" style="fill: #ff0000"/>
     <use href="#mb5f375dd62" x="297.360408" y="270.360504" style="fill: #ff0000"/>
     <use href="#mb5f375dd62" x="298.260552" y="259.559505" style="fill: #ff0000"/>
     <use href="#mb5f375dd62" x="299.60964" y="275.939784" style="fill: #ff0000"/>
     <use href="#mb5f375dd62" x="300.780504" y="272.160486" style="fill: #ff0000"/>
     <use href="#mb5f375dd62" x="301.95024" y="260.010054" style="fill: #ff0000"/>
     <use href="#mb5f375dd62" x="302.760144" y="281.879946" style="fill: #ff0000"/>
     <use href="#mb5f375dd62" x="304.199472" y="281.879946" style="fill: #ff0000"/>
     <use href="#mb5f375dd62" x="304.830024" y="267.209982" style="fill: #ff0000"/>
     <use href="#mb5f375dd62" x="305.730168" y="262.259478" style="fill: #ff0000"/>
     <use href="#mb5f375dd62" x="306.630312" y="272.160486" style="fill: #ff0000"/>
     <use href="#mb5f375dd62" x="307.800048" y="284.039703" style="fill: #ff0000"/>
     <use href="#mb5f375dd62" x="308.879544" y="263.610018" style="fill: #ff0000"/>
     <use href="#mb5f375dd62" x="309.690576" y="264.831039" style="fill: #ff0000"/>
     <use href="#mb5f375dd62" x="310.50048" y="266.309991" style="fill: #ff0000"/>
     <use href="#mb5f375dd62" x="312.030048" y="261.359487" style="fill: #ff0000"/>
     <use href="#mb5f375dd62" x="313.380264" y="264.05946" style="fill: #ff0000"/>
     <use href="#mb5f375dd62" x="314.099928" y="280.260405" style="fill: #ff0000"/>
     <use href="#mb5f375dd62" x="315.180552" y="272.609928" style="fill: #ff0000"/>
     <use href="#mb5f375dd62" x="316.52964" y="275.039793" style="fill: #ff0000"/>
     <use href="#mb5f375dd62" x="316.979712" y="260.459496" style="fill: #ff0000"/>
     <use href="#mb5f375dd62" x="318.59952" y="270.809946" style="fill: #ff0000"/>
     <use href="#mb5f375dd62" x="319.364304" y="274.039065" style="fill: #ff0000"/>
     <use href="#mb5f375dd62" x="320.130216" y="268.380081" style="fill: #ff0000"/>
     <use href="#mb5f375dd62" x="320.75964" y="276.839775" style="fill: #ff0000"/>
     <use href="#mb5f375dd62" x="321.299952" y="285.209802" style="fill: #ff0000"/>
     <use href="#mb5f375dd62" x="322.154976" y="269.117343" style="fill: #ff0000"/>
     <use href="#mb5f375dd62" x="323.01" y="261.629595" style="fill: #ff0000"/>
     <use href="#mb5f375dd62" x="324.360216" y="257.759523" style="fill: #ff0000"/>
     <use href="#mb5f375dd62" x="325.529952" y="272.160486" style="fill: #ff0000"/>
     <use href="#mb5f375dd62" x="326.880168" y="273.960468" style="fill: #ff0000"/>
     <use href="#mb5f375dd62" x="327.780312" y="273.060477" style="fill: #ff0000"/>
     <use href="#mb5f375dd62" x="329.130528" y="264.959451" style="fill: #ff0000"/>
     <use href="#mb5f375dd62" x="330.479616" y="273.060477" style="fill: #ff0000"/>
     <use href="#mb5f375dd62" x="331.37976" y="273.28077" style="fill: #ff0000"/>
     <use href="#mb5f375dd62" x="332.279904" y="273.060477" style="fill: #ff0000"/>
     <use href="#mb5f375dd62" x="332.999568" y="263.33991" style="fill: #ff0000"/>
     <use href="#mb5f375dd62" x="333.63012" y="277.560432" style="fill: #ff0000"/>
     <use href="#mb5f375dd62" x="334.980336" y="269.460513" style="fill: #ff0000"/>
     <use href="#mb5f375dd62" x="335.88048" y="262.710027" style="fill: #ff0000"/>
     <use href="#mb5f375dd62" x="337.229568" y="273.060477" style="fill: #ff0000"/>
     <use href="#mb5f375dd62" x="338.579784" y="265.860549" style="fill: #ff0000"/>
     <use href="#mb5f375dd62" x="339.479928" y="268.31034" style="fill: #ff0000"/>
     <use href="#mb5f375dd62" x="340.380072" y="266.309991" style="fill: #ff0000"/>
     <use href="#mb5f375dd62" x="341.549808" y="277.560432" style="fill: #ff0000"/>
     <use href="#mb5f375dd62" x="342.18036" y="262.259478" style="fill: #ff0000"/>
     <use href="#mb5f375dd62" x="343.529448" y="265.41" style="fill: #ff0000"/>
     <use href="#mb5f375dd62" x="344.339352" y="268.417719" style="fill: #ff0000"/>
     <use href="#mb5f375dd62" x="345.150384" y="270.360504" style="fill: #ff0000"/>
     <use href="#mb5f375dd62" x="346.22988" y="265.860549" style="fill: #ff0000"/>
     <use href="#mb5f375dd62" x="347.310504" y="261.629595" style="fill: #ff0000"/>
     <use href="#mb5f375dd62" x="348.030168" y="275.039793" style="fill: #ff0000"/>
     <use href="#mb5f375dd62" x="350.009808" y="277.379991" style="fill: #ff0000"/>
     <use href="#mb5f375dd62" x="350.7306" y="270.332829" style="fill: #ff0000"/>
     <use href="#mb5f375dd62" x="351.450264" y="272.160486" style="fill: #ff0000"/>
     <use href="#mb5f375dd62" x="352.43952" y="221.13" style="fill: #ff0000"/>
     <use href="#mb5f375dd62" x="353.250552" y="271.260495" style="fill: #ff0000"/>
     <use href="#mb5f375dd62" x="353.879976" y="264.510009" style="fill: #ff0000"/>
     <use href="#mb5f375dd62" x="355.230192" y="271.709937" style="fill: #ff0000"/>
     <use href="#mb5f375dd62" x="355.994976" y="270.323973" style="fill: #ff0000"/>
     <use href="#mb5f375dd62" x="356.75976" y="278.009874" style="fill: #ff0000"/>
    </g>
   </g>
   <g id="patch_23">
    <path d="M 90.36 320.76 
L 90.36 232.2 
" style="fill: none; stroke: #000000; stroke-width: 0.8; stroke-linejoin: miter; stroke-linecap: square"/>
   </g>
   <g id="patch_24">
    <path d="M 361.08 320.76 
L 361.08 232.2 
" style="fill: none; stroke: #000000; stroke-width: 0.8; stroke-linejoin: miter; stroke-linecap: square"/>
   </g>
   <g id="patch_25">
    <path d="M 90.36 320.76 
L 361.08 320.76 
" style="fill: none; stroke: #000000; stroke-width: 0.8; stroke-linejoin: miter; stroke-linecap: square"/>
   </g>
   <g id="patch_26">
    <path d="M 90.36 232.2 
L 361.08 232.2 
" style="fill: none; stroke: #000000; stroke-width: 0.8; stroke-linejoin: miter; stroke-linecap: square"/>
   </g>
   <g id="text_27">
    <text x="103.896" y="306.369" font-size="11" font-weight="bold" font-style="italic" fill="#000000" font-family="&quot;Liberation Sans&quot;, sans-serif">AORWDAY5</text>
   </g>
  </g>
  <g id="axes_6">
   <g id="patch_27">
    <path d="M 377.64 320.76 
L 648.36 320.76 
L 648.36 232.2 
L 377.64 232.2 
z
" style="fill: #ffffff"/>
   </g>
   <g id="matplotlib.axis_11">
    <g id="xtick_26">
     <g id="line2d_61">
      <g>
       <use href="#m1504cfccaf" x="377.640" y="320.760" style="stroke: #000000; stroke-width: 0.8"/>
      </g>
     </g>
     <g id="text_28">
      <text x="377.64" y="334.6" font-size="9" text-anchor="middle" fill="#000000" font-family="&quot;Liberation Sans&quot;, sans-serif">2000</text>
     </g>
    </g>
    <g id="xtick_27">
     <g id="line2d_62">
      <g>
       <use href="#m1504cfccaf" x="433.800" y="320.760" style="stroke: #000000; stroke-width: 0.8"/>
      </g>
     </g>
     <g id="text_29">
      <text x="434.04" y="334.6" font-size="9" text-anchor="middle" fill="#000000" font-family="&quot;Liberation Sans&quot;, sans-serif">2005</text>
     </g>
    </g>
    <g id="xtick_28">
     <g id="line2d_63">
      <g>
       <use href="#m1504cfccaf" x="490.680" y="320.760" style="stroke: #000000; stroke-width: 0.8"/>
      </g>
     </g>
     <g id="text_30">
      <text x="490.44" y="334.6" font-size="9" text-anchor="middle" fill="#000000" font-family="&quot;Liberation Sans&quot;, sans-serif">2010</text>
     </g>
    </g>
    <g id="xtick_29">
     <g id="line2d_64">
      <g>
       <use href="#m1504cfccaf" x="546.840" y="320.760" style="stroke: #000000; stroke-width: 0.8"/>
      </g>
     </g>
     <g id="text_31">
      <text x="546.84" y="334.6" font-size="9" text-anchor="middle" fill="#000000" font-family="&quot;Liberation Sans&quot;, sans-serif">2015</text>
     </g>
    </g>
    <g id="xtick_30">
     <g id="line2d_65">
      <g>
       <use href="#m1504cfccaf" x="603.000" y="320.760" style="stroke: #000000; stroke-width: 0.8"/>
      </g>
     </g>
     <g id="text_32">
      <text x="603.24" y="334.6" font-size="9" text-anchor="middle" fill="#000000" font-family="&quot;Liberation Sans&quot;, sans-serif">2020</text>
     </g>
    </g>
    <g id="text_33">
     <text x="513" y="347.71" font-size="9" text-anchor="middle" fill="#000000" font-family="&quot;Liberation Sans&quot;, sans-serif">Time (year)</text>
    </g>
   </g>
   <g id="matplotlib.axis_12">
    <g id="ytick_26">
     <g id="line2d_66">
      <g>
       <use href="#m5d545ce8f8" x="377.640" y="320.760" style="stroke: #000000; stroke-width: 0.8"/>
      </g>
     </g>
    </g>
    <g id="ytick_27">
     <g id="line2d_67">
      <g>
       <use href="#m5d545ce8f8" x="377.640" y="298.440" style="stroke: #000000; stroke-width: 0.8"/>
      </g>
     </g>
    </g>
    <g id="ytick_28">
     <g id="line2d_68">
      <g>
       <use href="#m5d545ce8f8" x="377.640" y="276.840" style="stroke: #000000; stroke-width: 0.8"/>
      </g>
     </g>
    </g>
    <g id="ytick_29">
     <g id="line2d_69">
      <g>
       <use href="#m5d545ce8f8" x="377.640" y="254.520" style="stroke: #000000; stroke-width: 0.8"/>
      </g>
     </g>
    </g>
    <g id="ytick_30">
     <g id="line2d_70">
      <g>
       <use href="#m5d545ce8f8" x="377.640" y="232.200" style="stroke: #000000; stroke-width: 0.8"/>
      </g>
     </g>
    </g>
   </g>
   <g id="line2d_71">
    <g clip-path="url(#pb5c9003a1d)">
     <use href="#mb5f375dd62" x="639.71952" y="232.6428" style="fill: #ff0000"/>
    </g>
   </g>
   <g id="line2d_72">
    <path d="M 378.540144 270.360504 
L 379.440288 269.547966 
L 380.340432 265.229559 
L 381.060096 276.839775 
L 382.139592 270.360504 
L 383.310456 273.060477 
L 384.659544 269.460513 
L 385.424328 269.091882 
L 386.19024 273.960468 
L 386.909904 266.309991 
L 387.810048 270.360504 
L 388.979784 263.610018 
L 390.23976 276.390333 
L 391.139904 274.573746 
L 392.040048 263.610018 
L 392.759712 280.439739 
L 394.109928 276.660441 
L 395.460144 273.960468 
L 396.81036 271.709937 
L 398.159448 262.529586 
L 399.059592 258.48018 
L 400.140216 264.959451 
L 401.04036 277.379991 
L 401.850264 263.573487 
L 402.660168 262.710027 
L 403.560312 273.060477 
L 404.910528 280.260405 
L 405.539952 256.590531 
L 406.709688 273.060477 
L 408.509976 269.460513 
L 409.41012 276.660441 
L 410.760336 281.879946 
L 412.110552 273.060477 
L 413.45964 291.960288 
L 414.359784 262.890468 
L 415.71 273.060477 
L 416.610144 276.660441 
L 417.77988 268.829523 
L 418.410432 287.009784 
L 420.03024 285.390243 
L 420.659664 275.76045 
L 421.559808 284.039703 
L 422.910024 265.229559 
L 424.26024 281.160396 
L 425.070144 270.984852 
L 425.880048 270.360504 
L 426.644832 272.835756 
L 427.409616 269.460513 
L 428.759832 273.060477 
L 429.524616 271.716579 
L 430.290528 266.76054 
L 430.829712 276.839775 
L 431.594496 273.522096 
L 433.889976 261.629595 
L 435.059712 273.060477 
L 435.780504 278.460423 
L 437.310072 273.060477 
L 438.660288 266.580099 
L 439.560432 275.76045 
L 440.639928 262.259478 
L 441.809664 262.259478 
L 443.15988 274.860459 
L 443.879544 270.360504 
L 444.644328 270.59076 
L 445.41024 269.460513 
L 446.310384 270.149067 
L 447.2094 271.173042 
L 448.109544 270.809946 
L 448.830336 279.630522 
L 450.359904 274.860459 
L 451.71012 267.48009 
L 453.78 276.120225 
L 454.680144 268.109973 
L 455.75964 269.460513 
L 456.525552 266.35095 
L 457.290336 265.229559 
L 458.19048 280.260405 
L 459.360216 267.660531 
L 460.17012 270.171207 
L 460.980024 263.610018 
L 461.744808 265.636935 
L 462.509592 271.709937 
L 463.409736 267.209982 
L 464.30988 266.319954 
L 465.210024 268.560522 
L 466.28952 265.41 
L 467.639736 265.229559 
L 468.809472 269.460513 
L 469.709616 279.630522 
L 470.88048 274.860459 
L 472.140456 270.360504 
L 473.310192 272.160486 
L 474.660408 269.909955 
L 476.009496 275.309901 
L 476.90964 266.580099 
L 478.259856 276.660441 
L 479.06976 277.062282 
L 479.879664 270.809946 
L 481.860432 284.130477 
L 482.759448 273.32505 
L 483.659592 273.960468 
L 485.009808 271.709937 
L 485.64036 276.839775 
L 486.360024 272.02986 
L 487.079688 263.610018 
L 488.429904 266.580099 
L 489.510528 270.360504 
L 490.859616 266.309991 
L 492.03048 275.939784 
L 492.795264 269.567892 
L 493.560048 261.359487 
L 494.639544 265.41 
L 496.26048 270.360504 
L 497.790048 272.609928 
L 498.509712 265.860549 
L 499.859928 262.259478 
L 501.479736 267.209982 
L 502.829952 272.880036 
L 503.460504 280.260405 
L 504.809592 273.509919 
L 505.709736 284.579919 
L 507.059952 270.809946 
L 507.960096 272.294433 
L 508.86024 269.909955 
L 510.210456 268.560522 
L 511.109472 270.815481 
L 512.009616 271.260495 
L 512.820648 269.210331 
L 513.630552 264.510009 
L 514.395336 268.15536 
L 515.16012 272.609928 
L 516.510336 268.109973 
L 518.309496 268.560522 
L 519.39012 258.659514 
L 520.829448 262.710027 
L 521.64048 255.05955 
L 522.48084 261.537714 
L 523.320072 262.072395 
L 524.160432 264.959451 
L 525.239928 270.180063 
L 525.78024 282.960378 
L 526.545024 269.598888 
L 527.309808 262.710027 
L 528.660024 271.709937 
L 530.01024 266.309991 
L 530.910384 265.391181 
L 531.810528 268.109973 
L 533.159616 271.080054 
L 533.880408 259.559505 
L 534.780552 264.959451 
L 535.409976 269.460513 
L 536.040528 277.109883 
L 537.389616 279.809856 
L 538.28976 256.680198 
L 539.639976 257.310081 
L 540.35964 269.460513 
L 541.080432 275.939784 
L 542.42952 259.380171 
L 543.240552 281.879946 
L 543.960216 269.009964 
L 544.77012 269.954235 
L 545.580024 262.259478 
L 546.030096 255.05955 
L 547.290072 266.039883 
L 548.099976 267.591897 
L 548.90988 270.180063 
L 549.810024 275.039793 
L 550.439448 281.160396 
L 551.879904 276.839775 
L 552.510456 265.860549 
L 553.859544 264.239901 
L 554.759688 265.292658 
L 555.659832 259.559505 
L 557.010048 262.710027 
L 558.360264 258.659514 
L 558.810336 268.109973 
L 560.160552 270.809946 
L 561.50964 273.960468 
L 562.680504 267.660531 
L 563.445288 266.863491 
L 564.210072 273.960468 
L 565.560288 267.660531 
L 566.910504 263.610018 
L 568.259592 270.360504 
L 568.980384 276.839775 
L 569.745168 272.28447 
L 570.509952 270.360504 
L 571.860168 282.960378 
L 573.210384 271.709937 
L 574.559472 269.460513 
L 575.370504 270.171207 
L 576.180408 265.229559 
L 577.709976 255.05955 
L 579.060192 265.860549 
L 579.960336 268.45425 
L 580.86048 269.909955 
L 581.759496 264.672738 
L 582.65964 265.860549 
L 583.559784 272.160486 
L 584.640408 270.360504 
L 585.540552 259.559505 
L 586.88964 275.939784 
L 588.060504 272.160486 
L 589.23024 260.010054 
L 590.040144 281.879946 
L 591.479472 281.879946 
L 592.110024 267.209982 
L 593.010168 262.259478 
L 595.080048 284.039703 
L 596.159544 263.610018 
L 596.970576 264.831039 
L 597.78048 266.309991 
L 599.310048 261.359487 
L 600.660264 264.05946 
L 601.379928 280.260405 
L 602.460552 272.609928 
L 603.80964 275.039793 
L 604.259712 260.459496 
L 605.87952 270.809946 
L 606.644304 274.039065 
L 607.410216 268.380081 
L 608.579952 285.209802 
L 609.434976 269.117343 
L 610.29 261.629595 
L 611.640216 257.759523 
L 612.809952 272.160486 
L 614.160168 273.960468 
L 615.060312 273.060477 
L 616.410528 264.959451 
L 617.759616 273.060477 
L 618.65976 273.28077 
L 619.559904 273.060477 
L 620.279568 263.33991 
L 620.91012 277.560432 
L 622.260336 269.460513 
L 623.16048 262.710027 
L 624.509568 273.060477 
L 625.859784 265.860549 
L 626.759928 268.31034 
L 627.660072 266.309991 
L 628.829808 277.560432 
L 629.46036 262.259478 
L 630.809448 265.41 
L 631.619352 268.417719 
L 632.430384 270.360504 
L 634.590504 261.629595 
L 635.310168 275.039793 
L 637.289808 277.379991 
L 638.0106 270.332829 
L 638.730264 272.160486 
L 639.71952 221.13 
L 640.530552 271.260495 
L 641.159976 264.510009 
L 642.510192 271.709937 
L 643.274976 270.323973 
L 644.03976 278.009874 
L 644.03976 278.009874 
" clip-path="url(#pb5c9003a1d)" style="fill: none; stroke: #ff0000; stroke-linecap: square"/>
    <g clip-path="url(#pb5c9003a1d)">
     <use href="#mb5f375dd62" x="378.540144" y="270.360504" style="fill: #ff0000"/>
     <use href="#mb5f375dd62" x="379.440288" y="269.547966" style="fill: #ff0000"/>
     <use href="#mb5f375dd62" x="380.340432" y="265.229559" style="fill: #ff0000"/>
     <use href="#mb5f375dd62" x="381.060096" y="276.839775" style="fill: #ff0000"/>
     <use href="#mb5f375dd62" x="382.139592" y="270.360504" style="fill: #ff0000"/>
     <use href="#mb5f375dd62" x="383.310456" y="273.060477" style="fill: #ff0000"/>
     <use href="#mb5f375dd62" x="384.659544" y="269.460513" style="fill: #ff0000"/>
     <use href="#mb5f375dd62" x="385.424328" y="269.091882" style="fill: #ff0000"/>
     <use href="#mb5f375dd62" x="386.19024" y="273.960468" style="fill: #ff0000"/>
     <use href="#mb5f375dd62" x="386.909904" y="266.309991" style="fill: #ff0000"/>
     <use href="#mb5f375dd62" x="387.810048" y="270.360504" style="fill: #ff0000"/>
     <use href="#mb5f375dd62" x="388.979784" y="263.610018" style="fill: #ff0000"/>
     <use href="#mb5f375dd62" x="390.23976" y="276.390333" style="fill: #ff0000"/>
     <use href="#mb5f375dd62" x="391.139904" y="274.573746" style="fill: #ff0000"/>
     <use href="#mb5f375dd62" x="392.040048" y="263.610018" style="fill: #ff0000"/>
     <use href="#mb5f375dd62" x="392.759712" y="280.439739" style="fill: #ff0000"/>
     <use href="#mb5f375dd62" x="394.109928" y="276.660441" style="fill: #ff0000"/>
     <use href="#mb5f375dd62" x="395.460144" y="273.960468" style="fill: #ff0000"/>
     <use href="#mb5f375dd62" x="396.81036" y="271.709937" style="fill: #ff0000"/>
     <use href="#mb5f375dd62" x="398.159448" y="262.529586" style="fill: #ff0000"/>
     <use href="#mb5f375dd62" x="399.059592" y="258.48018" style="fill: #ff0000"/>
     <use href="#mb5f375dd62" x="400.140216" y="264.959451" style="fill: #ff0000"/>
     <use href="#mb5f375dd62" x="401.04036" y="277.379991" style="fill: #ff0000"/>
     <use href="#mb5f375dd62" x="401.850264" y="263.573487" style="fill: #ff0000"/>
     <use href="#mb5f375dd62" x="402.660168" y="262.710027" style="fill: #ff0000"/>
     <use href="#mb5f375dd62" x="403.560312" y="273.060477" style="fill: #ff0000"/>
     <use href="#mb5f375dd62" x="404.910528" y="280.260405" style="fill: #ff0000"/>
     <use href="#mb5f375dd62" x="405.539952" y="256.590531" style="fill: #ff0000"/>
     <use href="#mb5f375dd62" x="406.709688" y="273.060477" style="fill: #ff0000"/>
     <use href="#mb5f375dd62" x="407.609832" y="271.346841" style="fill: #ff0000"/>
     <use href="#mb5f375dd62" x="408.509976" y="269.460513" style="fill: #ff0000"/>
     <use href="#mb5f375dd62" x="409.41012" y="276.660441" style="fill: #ff0000"/>
     <use href="#mb5f375dd62" x="410.760336" y="281.879946" style="fill: #ff0000"/>
     <use href="#mb5f375dd62" x="412.110552" y="273.060477" style="fill: #ff0000"/>
     <use href="#mb5f375dd62" x="413.45964" y="291.960288" style="fill: #ff0000"/>
     <use href="#mb5f375dd62" x="414.359784" y="262.890468" style="fill: #ff0000"/>
     <use href="#mb5f375dd62" x="415.71" y="273.060477" style="fill: #ff0000"/>
     <use href="#mb5f375dd62" x="416.610144" y="276.660441" style="fill: #ff0000"/>
     <use href="#mb5f375dd62" x="417.77988" y="268.829523" style="fill: #ff0000"/>
     <use href="#mb5f375dd62" x="418.410432" y="287.009784" style="fill: #ff0000"/>
     <use href="#mb5f375dd62" x="420.03024" y="285.390243" style="fill: #ff0000"/>
     <use href="#mb5f375dd62" x="420.659664" y="275.76045" style="fill: #ff0000"/>
     <use href="#mb5f375dd62" x="421.559808" y="284.039703" style="fill: #ff0000"/>
     <use href="#mb5f375dd62" x="422.910024" y="265.229559" style="fill: #ff0000"/>
     <use href="#mb5f375dd62" x="424.26024" y="281.160396" style="fill: #ff0000"/>
     <use href="#mb5f375dd62" x="425.070144" y="270.984852" style="fill: #ff0000"/>
     <use href="#mb5f375dd62" x="425.880048" y="270.360504" style="fill: #ff0000"/>
     <use href="#mb5f375dd62" x="426.644832" y="272.835756" style="fill: #ff0000"/>
     <use href="#mb5f375dd62" x="427.409616" y="269.460513" style="fill: #ff0000"/>
     <use href="#mb5f375dd62" x="428.759832" y="273.060477" style="fill: #ff0000"/>
     <use href="#mb5f375dd62" x="429.524616" y="271.716579" style="fill: #ff0000"/>
     <use href="#mb5f375dd62" x="430.290528" y="266.76054" style="fill: #ff0000"/>
     <use href="#mb5f375dd62" x="430.829712" y="276.839775" style="fill: #ff0000"/>
     <use href="#mb5f375dd62" x="431.594496" y="273.522096" style="fill: #ff0000"/>
     <use href="#mb5f375dd62" x="432.360408" y="269.460513" style="fill: #ff0000"/>
     <use href="#mb5f375dd62" x="433.889976" y="261.629595" style="fill: #ff0000"/>
     <use href="#mb5f375dd62" x="435.059712" y="273.060477" style="fill: #ff0000"/>
     <use href="#mb5f375dd62" x="435.780504" y="278.460423" style="fill: #ff0000"/>
     <use href="#mb5f375dd62" x="437.310072" y="273.060477" style="fill: #ff0000"/>
     <use href="#mb5f375dd62" x="438.660288" y="266.580099" style="fill: #ff0000"/>
     <use href="#mb5f375dd62" x="439.560432" y="275.76045" style="fill: #ff0000"/>
     <use href="#mb5f375dd62" x="440.639928" y="262.259478" style="fill: #ff0000"/>
     <use href="#mb5f375dd62" x="441.809664" y="262.259478" style="fill: #ff0000"/>
     <use href="#mb5f375dd62" x="443.15988" y="274.860459" style="fill: #ff0000"/>
     <use href="#mb5f375dd62" x="443.879544" y="270.360504" style="fill: #ff0000"/>
     <use href="#mb5f375dd62" x="444.644328" y="270.59076" style="fill: #ff0000"/>
     <use href="#mb5f375dd62" x="445.41024" y="269.460513" style="fill: #ff0000"/>
     <use href="#mb5f375dd62" x="446.310384" y="270.149067" style="fill: #ff0000"/>
     <use href="#mb5f375dd62" x="447.2094" y="271.173042" style="fill: #ff0000"/>
     <use href="#mb5f375dd62" x="448.109544" y="270.809946" style="fill: #ff0000"/>
     <use href="#mb5f375dd62" x="448.830336" y="279.630522" style="fill: #ff0000"/>
     <use href="#mb5f375dd62" x="450.359904" y="274.860459" style="fill: #ff0000"/>
     <use href="#mb5f375dd62" x="451.71012" y="267.48009" style="fill: #ff0000"/>
     <use href="#mb5f375dd62" x="452.610264" y="271.260495" style="fill: #ff0000"/>
     <use href="#mb5f375dd62" x="453.78" y="276.120225" style="fill: #ff0000"/>
     <use href="#mb5f375dd62" x="454.680144" y="268.109973" style="fill: #ff0000"/>
     <use href="#mb5f375dd62" x="455.75964" y="269.460513" style="fill: #ff0000"/>
     <use href="#mb5f375dd62" x="456.525552" y="266.35095" style="fill: #ff0000"/>
     <use href="#mb5f375dd62" x="457.290336" y="265.229559" style="fill: #ff0000"/>
     <use href="#mb5f375dd62" x="458.19048" y="280.260405" style="fill: #ff0000"/>
     <use href="#mb5f375dd62" x="459.360216" y="267.660531" style="fill: #ff0000"/>
     <use href="#mb5f375dd62" x="460.17012" y="270.171207" style="fill: #ff0000"/>
     <use href="#mb5f375dd62" x="460.980024" y="263.610018" style="fill: #ff0000"/>
     <use href="#mb5f375dd62" x="461.744808" y="265.636935" style="fill: #ff0000"/>
     <use href="#mb5f375dd62" x="462.509592" y="271.709937" style="fill: #ff0000"/>
     <use href="#mb5f375dd62" x="463.409736" y="267.209982" style="fill: #ff0000"/>
     <use href="#mb5f375dd62" x="464.30988" y="266.319954" style="fill: #ff0000"/>
     <use href="#mb5f375dd62" x="465.210024" y="268.560522" style="fill: #ff0000"/>
     <use href="#mb5f375dd62" x="466.28952" y="265.41" style="fill: #ff0000"/>
     <use href="#mb5f375dd62" x="467.639736" y="265.229559" style="fill: #ff0000"/>
     <use href="#mb5f375dd62" x="468.809472" y="269.460513" style="fill: #ff0000"/>
     <use href="#mb5f375dd62" x="469.709616" y="279.630522" style="fill: #ff0000"/>
     <use href="#mb5f375dd62" x="470.88048" y="274.860459" style="fill: #ff0000"/>
     <use href="#mb5f375dd62" x="472.140456" y="270.360504" style="fill: #ff0000"/>
     <use href="#mb5f375dd62" x="473.310192" y="272.160486" style="fill: #ff0000"/>
     <use href="#mb5f375dd62" x="474.660408" y="269.909955" style="fill: #ff0000"/>
     <use href="#mb5f375dd62" x="476.009496" y="275.309901" style="fill: #ff0000"/>
     <use href="#mb5f375dd62" x="476.90964" y="266.580099" style="fill: #ff0000"/>
     <use href="#mb5f375dd62" x="478.259856" y="276.660441" style="fill: #ff0000"/>
     <use href="#mb5f375dd62" x="479.06976" y="277.062282" style="fill: #ff0000"/>
     <use href="#mb5f375dd62" x="479.879664" y="270.809946" style="fill: #ff0000"/>
     <use href="#mb5f375dd62" x="480.960288" y="278.460423" style="fill: #ff0000"/>
     <use href="#mb5f375dd62" x="481.860432" y="284.130477" style="fill: #ff0000"/>
     <use href="#mb5f375dd62" x="482.759448" y="273.32505" style="fill: #ff0000"/>
     <use href="#mb5f375dd62" x="483.659592" y="273.960468" style="fill: #ff0000"/>
     <use href="#mb5f375dd62" x="485.009808" y="271.709937" style="fill: #ff0000"/>
     <use href="#mb5f375dd62" x="485.64036" y="276.839775" style="fill: #ff0000"/>
     <use href="#mb5f375dd62" x="486.360024" y="272.02986" style="fill: #ff0000"/>
     <use href="#mb5f375dd62" x="487.079688" y="263.610018" style="fill: #ff0000"/>
     <use href="#mb5f375dd62" x="488.429904" y="266.580099" style="fill: #ff0000"/>
     <use href="#mb5f375dd62" x="489.510528" y="270.360504" style="fill: #ff0000"/>
     <use href="#mb5f375dd62" x="490.859616" y="266.309991" style="fill: #ff0000"/>
     <use href="#mb5f375dd62" x="492.03048" y="275.939784" style="fill: #ff0000"/>
     <use href="#mb5f375dd62" x="492.795264" y="269.567892" style="fill: #ff0000"/>
     <use href="#mb5f375dd62" x="493.560048" y="261.359487" style="fill: #ff0000"/>
     <use href="#mb5f375dd62" x="494.639544" y="265.41" style="fill: #ff0000"/>
     <use href="#mb5f375dd62" x="495.450576" y="267.869754" style="fill: #ff0000"/>
     <use href="#mb5f375dd62" x="496.26048" y="270.360504" style="fill: #ff0000"/>
     <use href="#mb5f375dd62" x="497.790048" y="272.609928" style="fill: #ff0000"/>
     <use href="#mb5f375dd62" x="498.509712" y="265.860549" style="fill: #ff0000"/>
     <use href="#mb5f375dd62" x="499.859928" y="262.259478" style="fill: #ff0000"/>
     <use href="#mb5f375dd62" x="501.479736" y="267.209982" style="fill: #ff0000"/>
     <use href="#mb5f375dd62" x="502.829952" y="272.880036" style="fill: #ff0000"/>
     <use href="#mb5f375dd62" x="503.460504" y="280.260405" style="fill: #ff0000"/>
     <use href="#mb5f375dd62" x="504.809592" y="273.509919" style="fill: #ff0000"/>
     <use href="#mb5f375dd62" x="505.709736" y="284.579919" style="fill: #ff0000"/>
     <use href="#mb5f375dd62" x="507.059952" y="270.809946" style="fill: #ff0000"/>
     <use href="#mb5f375dd62" x="507.960096" y="272.294433" style="fill: #ff0000"/>
     <use href="#mb5f375dd62" x="508.86024" y="269.909955" style="fill: #ff0000"/>
     <use href="#mb5f375dd62" x="510.210456" y="268.560522" style="fill: #ff0000"/>
     <use href="#mb5f375dd62" x="511.109472" y="270.815481" style="fill: #ff0000"/>
     <use href="#mb5f375dd62" x="512.009616" y="271.260495" style="fill: #ff0000"/>
     <use href="#mb5f375dd62" x="512.820648" y="269.210331" style="fill: #ff0000"/>
     <use href="#mb5f375dd62" x="513.630552" y="264.510009" style="fill: #ff0000"/>
     <use href="#mb5f375dd62" x="514.395336" y="268.15536" style="fill: #ff0000"/>
     <use href="#mb5f375dd62" x="515.16012" y="272.609928" style="fill: #ff0000"/>
     <use href="#mb5f375dd62" x="516.510336" y="268.109973" style="fill: #ff0000"/>
     <use href="#mb5f375dd62" x="518.309496" y="268.560522" style="fill: #ff0000"/>
     <use href="#mb5f375dd62" x="519.39012" y="258.659514" style="fill: #ff0000"/>
     <use href="#mb5f375dd62" x="520.829448" y="262.710027" style="fill: #ff0000"/>
     <use href="#mb5f375dd62" x="521.64048" y="255.05955" style="fill: #ff0000"/>
     <use href="#mb5f375dd62" x="522.48084" y="261.537714" style="fill: #ff0000"/>
     <use href="#mb5f375dd62" x="523.320072" y="262.072395" style="fill: #ff0000"/>
     <use href="#mb5f375dd62" x="524.160432" y="264.959451" style="fill: #ff0000"/>
     <use href="#mb5f375dd62" x="525.239928" y="270.180063" style="fill: #ff0000"/>
     <use href="#mb5f375dd62" x="525.78024" y="282.960378" style="fill: #ff0000"/>
     <use href="#mb5f375dd62" x="526.545024" y="269.598888" style="fill: #ff0000"/>
     <use href="#mb5f375dd62" x="527.309808" y="262.710027" style="fill: #ff0000"/>
     <use href="#mb5f375dd62" x="528.660024" y="271.709937" style="fill: #ff0000"/>
     <use href="#mb5f375dd62" x="530.01024" y="266.309991" style="fill: #ff0000"/>
     <use href="#mb5f375dd62" x="530.910384" y="265.391181" style="fill: #ff0000"/>
     <use href="#mb5f375dd62" x="531.810528" y="268.109973" style="fill: #ff0000"/>
     <use href="#mb5f375dd62" x="533.159616" y="271.080054" style="fill: #ff0000"/>
     <use href="#mb5f375dd62" x="533.880408" y="259.559505" style="fill: #ff0000"/>
     <use href="#mb5f375dd62" x="534.780552" y="264.959451" style="fill: #ff0000"/>
     <use href="#mb5f375dd62" x="535.409976" y="269.460513" style="fill: #ff0000"/>
     <use href="#mb5f375dd62" x="536.040528" y="277.109883" style="fill: #ff0000"/>
     <use href="#mb5f375dd62" x="537.389616" y="279.809856" style="fill: #ff0000"/>
     <use href="#mb5f375dd62" x="538.28976" y="256.680198" style="fill: #ff0000"/>
     <use href="#mb5f375dd62" x="539.639976" y="257.310081" style="fill: #ff0000"/>
     <use href="#mb5f375dd62" x="540.35964" y="269.460513" style="fill: #ff0000"/>
     <use href="#mb5f375dd62" x="541.080432" y="275.939784" style="fill: #ff0000"/>
     <use href="#mb5f375dd62" x="542.42952" y="259.380171" style="fill: #ff0000"/>
     <use href="#mb5f375dd62" x="543.240552" y="281.879946" style="fill: #ff0000"/>
     <use href="#mb5f375dd62" x="543.960216" y="269.009964" style="fill: #ff0000"/>
     <use href="#mb5f375dd62" x="544.77012" y="269.954235" style="fill: #ff0000"/>
     <use href="#mb5f375dd62" x="545.580024" y="262.259478" style="fill: #ff0000"/>
     <use href="#mb5f375dd62" x="546.030096" y="255.05955" style="fill: #ff0000"/>
     <use href="#mb5f375dd62" x="547.290072" y="266.039883" style="fill: #ff0000"/>
     <use href="#mb5f375dd62" x="548.099976" y="267.591897" style="fill: #ff0000"/>
     <use href="#mb5f375dd62" x="548.90988" y="270.180063" style="fill: #ff0000"/>
     <use href="#mb5f375dd62" x="549.810024" y="275.039793" style="fill: #ff0000"/>
     <use href="#mb5f375dd62" x="550.439448" y="281.160396" style="fill: #ff0000"/>
     <use href="#mb5f375dd62" x="551.879904" y="276.839775" style="fill: #ff0000"/>
     <use href="#mb5f375dd62" x="552.510456" y="265.860549" style="fill: #ff0000"/>
     <use href="#mb5f375dd62" x="553.859544" y="264.239901" style="fill: #ff0000"/>
     <use href="#mb5f375dd62" x="554.759688" y="265.292658" style="fill: #ff0000"/>
     <use href="#mb5f375dd62" x="555.659832" y="259.559505" style="fill: #ff0000"/>
     <use href="#mb5f375dd62" x="557.010048" y="262.710027" style="fill: #ff0000"/>
     <use href="#mb5f375dd62" x="558.360264" y="258.659514" style="fill: #ff0000"/>
     <use href="#mb5f375dd62" x="558.810336" y="268.109973" style="fill: #ff0000"/>
     <use href="#mb5f375dd62" x="560.160552" y="270.809946" style="fill: #ff0000"/>
     <use href="#mb5f375dd62" x="561.50964" y="273.960468" style="fill: #ff0000"/>
     <use href="#mb5f375dd62" x="562.680504" y="267.660531" style="fill: #ff0000"/>
     <use href="#mb5f375dd62" x="563.445288" y="266.863491" style="fill: #ff0000"/>
     <use href="#mb5f375dd62" x="564.210072" y="273.960468" style="fill: #ff0000"/>
     <use href="#mb5f375dd62" x="565.560288" y="267.660531" style="fill: #ff0000"/>
     <use href="#mb5f375dd62" x="566.910504" y="263.610018" style="fill: #ff0000"/>
     <use href="#mb5f375dd62" x="568.259592" y="270.360504" style="fill: #ff0000"/>
     <use href="#mb5f375dd62" x="568.980384" y="276.839775" style="fill: #ff0000"/>
     <use href="#mb5f375dd62" x="569.745168" y="272.28447" style="fill: #ff0000"/>
     <use href="#mb5f375dd62" x="570.509952" y="270.360504" style="fill: #ff0000"/>
     <use href="#mb5f375dd62" x="571.860168" y="282.960378" style="fill: #ff0000"/>
     <use href="#mb5f375dd62" x="573.210384" y="271.709937" style="fill: #ff0000"/>
     <use href="#mb5f375dd62" x="574.559472" y="269.460513" style="fill: #ff0000"/>
     <use href="#mb5f375dd62" x="575.370504" y="270.171207" style="fill: #ff0000"/>
     <use href="#mb5f375dd62" x="576.180408" y="265.229559" style="fill: #ff0000"/>
     <use href="#mb5f375dd62" x="577.709976" y="255.05955" style="fill: #ff0000"/>
     <use href="#mb5f375dd62" x="579.060192" y="265.860549" style="fill: #ff0000"/>
     <use href="#mb5f375dd62" x="579.960336" y="268.45425" style="fill: #ff0000"/>
     <use href="#mb5f375dd62" x="580.86048" y="269.909955" style="fill: #ff0000"/>
     <use href="#mb5f375dd62" x="581.759496" y="264.672738" style="fill: #ff0000"/>
     <use href="#mb5f375dd62" x="582.65964" y="265.860549" style="fill: #ff0000"/>
     <use href="#mb5f375dd62" x="583.559784" y="272.160486" style="fill: #ff0000"/>
     <use href="#mb5f375dd62" x="584.640408" y="270.360504" style="fill: #ff0000"/>
     <use href="#mb5f375dd62" x="585.540552" y="259.559505" style="fill: #ff0000"/>
     <use href="#mb5f375dd62" x="586.88964" y="275.939784" style="fill: #ff0000"/>
     <use href="#mb5f375dd62" x="588.060504" y="272.160486" style="fill: #ff0000"/>
     <use href="#mb5f375dd62" x="589.23024" y="260.010054" style="fill: #ff0000"/>
     <use href="#mb5f375dd62" x="590.040144" y="281.879946" style="fill: #ff0000"/>
     <use href="#mb5f375dd62" x="591.479472" y="281.879946" style="fill: #ff0000"/>
     <use href="#mb5f375dd62" x="592.110024" y="267.209982" style="fill: #ff0000"/>
     <use href="#mb5f375dd62" x="593.010168" y="262.259478" style="fill: #ff0000"/>
     <use href="#mb5f375dd62" x="593.910312" y="272.160486" style="fill: #ff0000"/>
     <use href="#mb5f375dd62" x="595.080048" y="284.039703" style="fill: #ff0000"/>
     <use href="#mb5f375dd62" x="596.159544" y="263.610018" style="fill: #ff0000"/>
     <use href="#mb5f375dd62" x="596.970576" y="264.831039" style="fill: #ff0000"/>
     <use href="#mb5f375dd62" x="597.78048" y="266.309991" style="fill: #ff0000"/>
     <use href="#mb5f375dd62" x="599.310048" y="261.359487" style="fill: #ff0000"/>
     <use href="#mb5f375dd62" x="600.660264" y="264.05946" style="fill: #ff0000"/>
     <use href="#mb5f375dd62" x="601.379928" y="280.260405" style="fill: #ff0000"/>
     <use href="#mb5f375dd62" x="602.460552" y="272.609928" style="fill: #ff0000"/>
     <use href="#mb5f375dd62" x="603.80964" y="275.039793" style="fill: #ff0000"/>
     <use href="#mb5f375dd62" x="604.259712" y="260.459496" style="fill: #ff0000"/>
     <use href="#mb5f375dd62" x="605.87952" y="270.809946" style="fill: #ff0000"/>
     <use href="#mb5f375dd62" x="606.644304" y="274.039065" style="fill: #ff0000"/>
     <use href="#mb5f375dd62" x="607.410216" y="268.380081" style="fill: #ff0000"/>
     <use href="#mb5f375dd62" x="608.03964" y="276.839775" style="fill: #ff0000"/>
     <use href="#mb5f375dd62" x="608.579952" y="285.209802" style="fill: #ff0000"/>
     <use href="#mb5f375dd62" x="609.434976" y="269.117343" style="fill: #ff0000"/>
     <use href="#mb5f375dd62" x="610.29" y="261.629595" style="fill: #ff0000"/>
     <use href="#mb5f375dd62" x="611.640216" y="257.759523" style="fill: #ff0000"/>
     <use href="#mb5f375dd62" x="612.809952" y="272.160486" style="fill: #ff0000"/>
     <use href="#mb5f375dd62" x="614.160168" y="273.960468" style="fill: #ff0000"/>
     <use href="#mb5f375dd62" x="615.060312" y="273.060477" style="fill: #ff0000"/>
     <use href="#mb5f375dd62" x="616.410528" y="264.959451" style="fill: #ff0000"/>
     <use href="#mb5f375dd62" x="617.759616" y="273.060477" style="fill: #ff0000"/>
     <use href="#mb5f375dd62" x="618.65976" y="273.28077" style="fill: #ff0000"/>
     <use href="#mb5f375dd62" x="619.559904" y="273.060477" style="fill: #ff0000"/>
     <use href="#mb5f375dd62" x="620.279568" y="263.33991" style="fill: #ff0000"/>
     <use href="#mb5f375dd62" x="620.91012" y="277.560432" style="fill: #ff0000"/>
     <use href="#mb5f375dd62" x="622.260336" y="269.460513" style="fill: #ff0000"/>
     <use href="#mb5f375dd62" x="623.16048" y="262.710027" style="fill: #ff0000"/>
     <use href="#mb5f375dd62" x="624.509568" y="273.060477" style="fill: #ff0000"/>
     <use href="#mb5f375dd62" x="625.859784" y="265.860549" style="fill: #ff0000"/>
     <use href="#mb5f375dd62" x="626.759928" y="268.31034" style="fill: #ff0000"/>
     <use href="#mb5f375dd62" x="627.660072" y="266.309991" style="fill: #ff0000"/>
     <use href="#mb5f375dd62" x="628.829808" y="277.560432" style="fill: #ff0000"/>
     <use href="#mb5f375dd62" x="629.46036" y="262.259478" style="fill: #ff0000"/>
     <use href="#mb5f375dd62" x="630.809448" y="265.41" style="fill: #ff0000"/>
     <use href="#mb5f375dd62" x="631.619352" y="268.417719" style="fill: #ff0000"/>
     <use href="#mb5f375dd62" x="632.430384" y="270.360504" style="fill: #ff0000"/>
     <use href="#mb5f375dd62" x="633.50988" y="265.860549" style="fill: #ff0000"/>
     <use href="#mb5f375dd62" x="634.590504" y="261.629595" style="fill: #ff0000"/>
     <use href="#mb5f375dd62" x="635.310168" y="275.039793" style="fill: #ff0000"/>
     <use href="#mb5f375dd62" x="637.289808" y="277.379991" style="fill: #ff0000"/>
     <use href="#mb5f375dd62" x="638.0106" y="270.332829" style="fill: #ff0000"/>
     <use href="#mb5f375dd62" x="638.730264" y="272.160486" style="fill: #ff0000"/>
     <use href="#mb5f375dd62" x="639.71952" y="221.13" style="fill: #ff0000"/>
     <use href="#mb5f375dd62" x="640.530552" y="271.260495" style="fill: #ff0000"/>
     <use href="#mb5f375dd62" x="641.159976" y="264.510009" style="fill: #ff0000"/>
     <use href="#mb5f375dd62" x="642.510192" y="271.709937" style="fill: #ff0000"/>
     <use href="#mb5f375dd62" x="643.274976" y="270.323973" style="fill: #ff0000"/>
     <use href="#mb5f375dd62" x="644.03976" y="278.009874" style="fill: #ff0000"/>
    </g>
   </g>
   <g id="patch_28">
    <path d="M 377.64 320.76 
L 377.64 232.2 
" style="fill: none; stroke: #000000; stroke-width: 0.8; stroke-linejoin: miter; stroke-linecap: square"/>
   </g>
   <g id="patch_29">
    <path d="M 648.36 320.76 
L 648.36 232.2 
" style="fill: none; stroke: #000000; stroke-width: 0.8; stroke-linejoin: miter; stroke-linecap: square"/>
   </g>
   <g id="patch_30">
    <path d="M 377.64 320.76 
L 648.36 320.76 
" style="fill: none; stroke: #000000; stroke-width: 0.8; stroke-linejoin: miter; stroke-linecap: square"/>
   </g>
   <g id="patch_31">
    <path d="M 377.64 232.2 
L 648.36 232.2 
" style="fill: none; stroke: #000000; stroke-width: 0.8; stroke-linejoin: miter; stroke-linecap: square"/>
   </g>
   <g id="text_34">
    <text x="391.176" y="306.369" font-size="11" font-weight="bold" font-style="italic" fill="#000000" font-family="&quot;Liberation Sans&quot;, sans-serif">AORWDAY6</text>
   </g>
  </g>
 </g>
 <defs>
  <clipPath id="pfeada04ba8">
   <rect x="90.36" y="43.56" width="270.72" height="88.56"/>
  </clipPath>
  <clipPath id="pdf2add2d83">
   <rect x="377.64" y="43.56" width="270.72" height="88.56"/>
  </clipPath>
  <clipPath id="p05138aaee8">
   <rect x="90.36" y="137.88" width="270.72" height="88.56"/>
  </clipPath>
  <clipPath id="p7c08bb0d99">
   <rect x="377.64" y="137.88" width="270.72" height="88.56"/>
  </clipPath>
  <clipPath id="pf935e6dfce">
   <rect x="90.36" y="232.2" width="270.72" height="88.56"/>
  </clipPath>
  <clipPath id="pb5c9003a1d">
   <rect x="377.64" y="232.2" width="270.72" height="88.56"/>
  </clipPath>
 </defs>
</svg>

</body></html>
